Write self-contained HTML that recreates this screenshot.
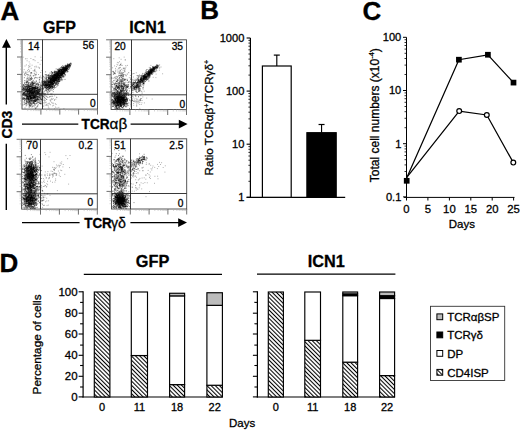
<!DOCTYPE html>
<html><head><meta charset="utf-8"><style>
html,body{margin:0;padding:0;background:#fff;width:520px;height:430px;overflow:hidden}
svg{display:block;font-family:"Liberation Sans",sans-serif}
text{stroke:#000;stroke-width:0.3px;paint-order:stroke}
</style></head><body>
<svg width="520" height="430" viewBox="0 0 520 430">
<rect width="520" height="430" fill="#fff"/>
<text x="0.4" y="19.5" font-size="26" font-weight="bold">A</text>
<text x="200.2" y="18.7" font-size="26" font-weight="bold">B</text>
<text x="362.6" y="19.7" font-size="26" font-weight="bold">C</text>
<text x="-0.6" y="271.8" font-size="26" font-weight="bold">D</text>
<text x="59.5" y="32.7" font-size="16" font-weight="bold" text-anchor="middle">GFP</text>
<text x="147.6" y="32.7" font-size="16" font-weight="bold" text-anchor="middle">ICN1</text>
<path d="M23.2 57.2h0M30.1 79.4h0M29.7 79.6h0M25.3 73.1h0M40.9 57.2h0M39.2 77.5h0M33.9 59.7h0M33.2 70.7h0M35.1 56.8h0M36.0 74.5h0M38.0 62.6h0M25.3 75.7h0M28.7 65.6h0M25.5 58.8h0M39.8 77.0h0M24.8 75.2h0M39.2 67.9h0M36.1 66.2h0M27.7 78.1h0M33.0 59.7h0M42.0 70.6h0M30.9 58.5h0M38.2 67.1h0M35.0 70.6h0M26.4 64.9h0M39.5 68.1h0M27.0 58.7h0M41.3 60.3h0M29.2 61.9h0M27.5 70.4h0M24.2 69.6h0M26.6 79.8h0M35.0 69.2h0M40.7 72.5h0M27.1 60.8h0M32.1 65.2h0M31.2 68.3h0M34.6 66.8h0M25.7 73.2h0M35.1 60.7h0M49.8 88.1h0M52.6 96.3h0M46.3 105.2h0M56.1 104.5h0M55.4 103.7h0M49.2 103.1h0M50.1 96.4h0M47.0 96.8h0M57.0 107.9h0M51.2 99.6h0M52.3 103.3h0M45.4 100.7h0M43.1 106.4h0M55.5 107.1h0M46.4 104.3h0M51.2 94.3h0M45.3 102.7h0M52.3 99.5h0M41.4 101.9h0M44.2 103.9h0M52.1 93.8h0M54.4 100.0h0M47.8 104.8h0M58.8 107.4h0M46.2 99.1h0M54.2 85.4h0M45.9 105.3h0M46.3 102.2h0M48.4 107.0h0M41.0 102.0h0M54.5 100.0h0M50.1 99.9h0M43.9 105.8h0M50.9 96.4h0M53.1 98.5h0M53.6 103.2h0M56.8 97.6h0M39.6 99.0h0M54.6 108.8h0M51.8 102.5h0M48.0 105.6h0M55.8 99.2h0M50.3 100.7h0M53.6 105.3h0M63.9 108.6h0M54.7 95.8h0M56.6 97.2h0M46.5 91.9h0M50.5 104.7h0M49.4 104.0h0M51.4 98.4h0M51.9 96.2h0M48.1 103.5h0M46.5 96.3h0M49.0 108.2h0M50.8 101.2h0M52.6 105.9h0M25.3 90.0h0M39.4 81.6h0M36.3 74.8h0M31.8 73.3h0M35.6 75.1h0M35.0 82.0h0M31.0 79.2h0M26.8 81.9h0M30.3 85.8h0M33.1 75.8h0M35.8 71.7h0M31.7 82.7h0M27.7 78.8h0M40.7 76.0h0M31.4 79.1h0M30.0 66.2h0M29.6 78.7h0M28.3 86.9h0M38.5 74.5h0M29.6 70.7h0M36.2 67.1h0M32.1 82.9h0M27.3 84.1h0M27.8 72.2h0M31.1 73.7h0M35.1 85.6h0M34.3 71.3h0M28.3 74.8h0M27.6 74.4h0M32.4 83.0h0M40.1 64.3h0M29.9 64.0h0M30.4 84.1h0M40.8 77.8h0M39.3 87.0h0M29.6 66.8h0M30.8 73.3h0M30.7 85.6h0M24.4 74.4h0M28.6 67.2h0M29.0 84.5h0M36.7 77.5h0M26.1 84.2h0M35.2 74.2h0M32.9 82.5h0M24.1 86.2h0M28.5 80.8h0M25.0 66.0h0M31.6 78.9h0M36.6 72.9h0M28.1 78.3h0M31.5 77.3h0M27.7 76.8h0M23.7 72.1h0M26.3 73.2h0M24.5 73.8h0" stroke="#000" stroke-opacity="0.3" stroke-width="1" stroke-linecap="square" fill="none"/>
<path d="M34.0 96.5h0M53.6 77.4h0M33.3 91.9h0M34.7 87.6h0M49.3 78.5h0M45.0 86.8h0M48.7 82.6h0M37.1 93.9h0M57.7 73.0h0M40.7 83.1h0M58.6 79.6h0M28.2 87.5h0M48.0 74.9h0M26.9 89.3h0M56.9 72.5h0M55.6 80.0h0M65.5 67.9h0M32.7 87.6h0M32.0 83.7h0M27.9 97.6h0M58.9 73.3h0M29.9 89.1h0M30.7 80.1h0M55.3 78.6h0M42.2 85.9h0M59.5 70.6h0M27.0 95.4h0M54.0 81.7h0M58.3 73.6h0M30.2 91.7h0M63.5 68.2h0M61.5 66.6h0M31.6 95.3h0M24.2 95.7h0M28.5 98.8h0M66.5 69.0h0M53.8 77.4h0M30.6 90.1h0M63.5 73.6h0M32.5 102.8h0M31.2 97.7h0M61.8 70.5h0M50.2 79.5h0M27.6 88.0h0M33.3 80.4h0M31.6 104.0h0M59.5 81.1h0M29.8 90.7h0M44.1 93.4h0M69.7 65.4h0M46.3 90.4h0M40.9 94.1h0M22.8 98.6h0M37.9 102.6h0M30.4 92.9h0M34.1 87.1h0M63.7 70.1h0M37.3 84.3h0M36.5 86.4h0M67.9 65.4h0M39.1 86.0h0M33.3 93.5h0M27.3 91.5h0M49.2 83.3h0M54.1 79.8h0M65.8 70.0h0M27.9 99.0h0M38.5 92.1h0M48.6 78.0h0M32.0 90.3h0M40.4 89.8h0M39.3 77.9h0M31.9 90.6h0M57.6 73.7h0M23.8 88.7h0M57.3 75.8h0M38.6 99.6h0M60.5 77.4h0M58.0 69.1h0M36.7 92.3h0M41.3 99.4h0M31.6 86.2h0M37.5 97.3h0M46.6 85.9h0M64.9 67.5h0M52.0 81.7h0M44.2 85.4h0M42.2 99.9h0M32.9 103.6h0M58.6 72.8h0M51.2 83.5h0M53.3 78.1h0M61.2 74.6h0M57.2 82.8h0M61.8 73.0h0M66.2 69.1h0M38.2 92.1h0M29.3 86.3h0M39.1 93.8h0M53.8 79.7h0M31.4 93.1h0M33.9 88.2h0M35.7 96.3h0M54.9 80.4h0M57.9 74.4h0M54.1 75.6h0M55.5 77.8h0M61.0 74.1h0M33.7 83.7h0M34.7 103.9h0M68.3 69.7h0M36.6 91.0h0M45.7 81.5h0M36.4 103.6h0M40.7 84.8h0M23.3 92.6h0M28.2 94.2h0M45.9 81.7h0M41.2 103.9h0M29.7 104.3h0M34.1 97.1h0M50.9 77.4h0M32.4 85.8h0M65.3 71.5h0M29.9 100.9h0M29.1 95.4h0M56.2 79.2h0M57.7 71.6h0M46.9 87.3h0M50.0 77.9h0M54.7 73.1h0M45.2 83.2h0M38.1 98.3h0M29.1 71.7h0M28.1 98.4h0M51.4 78.7h0M31.7 99.7h0M58.3 80.4h0M44.4 97.2h0M28.1 75.1h0M52.7 80.6h0M24.1 90.7h0M58.0 80.1h0M30.1 89.7h0M65.0 68.5h0M25.2 87.7h0M35.0 100.5h0M28.2 85.1h0M65.0 68.8h0M55.0 75.4h0M49.5 85.3h0M66.4 66.9h0M62.3 72.9h0M55.9 79.4h0M51.1 79.9h0M65.7 65.5h0M46.9 83.8h0M54.6 82.6h0M60.6 75.1h0M26.6 102.2h0M60.0 76.4h0M32.6 81.9h0M49.1 85.3h0M42.1 83.5h0M54.4 79.1h0M60.0 71.4h0M57.9 77.0h0M27.0 87.8h0M48.5 82.0h0M28.3 98.7h0M31.2 98.6h0M57.0 75.3h0M64.1 69.9h0M37.8 92.7h0M41.2 95.1h0M49.9 85.5h0M41.6 96.8h0M35.0 88.0h0M26.8 97.9h0M56.3 73.4h0M32.2 90.5h0M46.1 80.2h0M29.3 91.3h0M38.0 99.6h0M33.9 92.7h0M22.9 88.3h0M54.7 75.4h0M67.5 66.9h0M65.5 71.8h0M49.0 84.3h0M58.4 69.4h0M55.4 80.3h0M61.0 71.4h0M30.5 91.9h0M23.7 93.6h0M53.6 76.7h0M28.3 98.0h0M33.5 98.3h0M32.0 97.0h0M37.2 100.4h0M54.9 74.9h0M29.0 90.5h0M50.0 81.0h0M51.9 84.6h0M33.1 100.4h0M44.1 100.0h0M33.5 93.3h0M25.2 86.1h0M57.6 80.1h0M34.1 100.8h0M23.0 89.5h0M29.3 101.0h0M52.4 75.0h0M48.1 84.6h0M57.4 75.7h0M56.1 80.4h0M32.7 81.2h0M33.9 87.9h0M58.2 74.4h0M30.4 105.2h0M57.2 72.5h0M67.9 64.6h0M49.6 91.6h0M29.4 88.5h0M61.4 73.4h0M52.4 80.8h0M57.5 76.4h0M58.6 79.5h0M53.4 79.9h0M55.5 75.8h0M52.5 77.4h0M40.4 88.5h0M30.6 86.3h0M57.2 76.8h0M51.4 85.8h0M54.3 80.6h0M34.7 89.1h0M28.0 98.5h0M35.6 101.5h0M56.9 71.9h0M28.0 86.3h0M32.9 89.8h0M27.6 96.6h0M43.9 84.1h0M31.0 95.5h0M42.8 85.8h0M33.7 94.2h0M57.6 74.6h0M31.4 85.4h0M28.2 91.4h0M36.8 97.8h0M25.2 98.6h0M23.5 88.8h0M23.0 93.8h0M26.0 88.3h0M48.3 82.5h0M38.0 92.5h0M35.4 100.9h0M34.8 97.1h0M60.6 73.5h0M47.2 85.3h0M47.5 83.8h0M55.5 78.4h0M47.2 76.3h0M52.4 78.9h0M51.5 83.6h0M63.1 69.2h0M55.1 76.4h0M33.1 93.9h0M37.3 98.8h0M30.3 92.9h0M26.2 103.6h0M66.1 71.2h0M35.0 91.5h0M32.5 98.7h0M62.3 71.7h0M30.3 98.6h0M59.2 68.3h0M33.5 89.8h0M48.0 82.2h0M28.2 85.7h0M29.3 105.3h0M35.4 101.5h0M40.1 93.4h0M53.0 74.0h0M33.7 95.1h0M31.0 88.6h0M32.2 89.3h0M63.4 71.5h0M32.9 98.2h0M31.8 98.3h0M52.9 88.1h0M64.2 69.0h0M47.0 83.5h0M46.4 85.4h0M22.8 99.4h0M34.6 97.2h0M58.4 71.5h0M30.5 96.2h0M55.2 75.3h0M53.4 82.0h0M54.9 76.1h0M34.5 95.8h0M60.9 75.9h0M31.4 90.8h0M31.5 93.6h0M59.8 81.3h0M53.1 79.7h0M42.4 92.0h0M36.4 96.4h0M59.1 74.4h0M51.9 75.0h0M24.2 85.9h0M56.6 74.0h0M48.1 82.1h0M57.3 72.0h0M53.4 79.5h0M35.4 94.1h0M55.0 78.7h0M50.3 82.6h0M35.1 99.6h0M38.8 84.4h0M30.1 92.0h0M47.8 81.1h0M34.1 94.7h0M24.9 86.7h0M50.9 77.4h0M22.8 86.9h0M27.2 94.5h0M47.5 83.6h0M50.6 79.1h0M63.4 73.6h0M63.1 72.1h0M51.2 85.2h0M51.4 83.9h0M60.7 72.6h0M35.3 98.2h0M30.6 97.8h0M29.3 90.4h0M45.9 75.9h0M60.4 71.0h0M69.3 67.6h0M68.1 67.6h0M30.4 92.2h0M36.1 88.6h0M26.5 93.2h0M56.9 86.3h0M30.8 86.9h0M45.0 85.0h0M24.3 99.4h0M45.4 98.3h0M49.6 88.8h0M33.3 94.3h0M25.9 72.0h0M55.7 85.3h0M59.4 81.5h0M61.6 72.6h0M33.8 91.5h0M49.1 81.4h0M63.9 69.7h0M44.8 94.7h0M54.4 80.4h0M52.3 73.3h0M26.3 95.5h0M34.8 91.2h0M53.8 81.4h0M62.2 69.3h0M45.4 81.4h0M34.3 73.3h0M53.0 85.1h0M65.5 69.0h0M53.2 76.8h0M37.6 99.0h0M61.2 77.3h0M48.9 87.4h0M54.2 76.8h0M54.4 82.8h0M51.1 83.3h0M28.2 92.8h0M31.6 88.9h0M46.2 84.1h0M25.7 95.6h0M61.6 74.7h0M58.7 77.2h0M55.9 84.0h0M59.3 76.9h0M61.0 74.0h0M32.5 92.2h0M53.3 81.1h0M28.4 89.1h0M60.9 73.2h0M69.4 68.6h0M32.1 85.0h0M31.2 87.6h0M34.5 97.5h0M53.4 89.5h0M55.0 75.1h0M33.9 97.7h0M61.6 74.5h0M59.6 78.2h0M61.5 72.3h0M31.8 94.9h0M48.4 87.1h0M53.7 80.8h0M59.5 73.3h0M24.4 77.7h0M54.1 76.0h0M32.7 93.2h0M25.3 92.1h0M54.8 74.5h0M62.1 71.4h0M56.2 78.0h0M28.5 82.7h0M46.3 78.7h0M50.6 75.5h0M55.5 78.9h0M56.2 75.7h0M59.7 73.7h0M28.5 99.6h0M64.5 71.0h0M49.9 80.6h0M53.0 77.0h0M60.7 68.4h0M62.9 73.2h0M49.6 77.8h0M51.9 86.6h0M27.3 96.9h0M31.4 81.8h0M44.3 97.9h0M59.8 71.5h0M38.6 97.8h0M26.6 98.0h0M50.4 80.6h0M54.1 77.4h0M61.0 75.1h0M61.8 79.1h0M57.0 81.5h0M62.2 67.9h0M35.4 98.0h0M55.6 80.8h0M32.8 99.7h0M59.5 70.2h0M28.9 96.2h0M64.6 69.7h0M56.7 80.7h0M26.4 81.4h0M28.2 97.1h0M61.9 69.8h0M24.5 92.9h0M35.4 96.7h0M64.0 71.3h0M50.7 85.1h0M60.6 70.0h0M29.0 93.1h0M47.2 85.5h0M31.9 95.5h0M40.5 94.1h0M51.3 73.2h0M56.3 76.6h0M49.0 81.3h0M69.4 66.2h0M55.0 79.1h0M39.9 91.3h0M23.9 89.1h0M41.1 85.7h0M50.0 87.2h0M68.8 65.8h0M57.4 77.8h0M43.9 81.8h0M31.7 89.7h0M37.6 99.4h0M61.6 74.5h0M31.0 92.2h0M45.3 74.6h0M61.9 70.9h0M30.2 103.9h0M36.0 93.1h0M59.8 75.7h0M28.8 92.2h0M68.2 66.2h0M59.7 75.2h0M28.3 79.5h0M63.1 69.8h0M51.3 86.8h0M66.5 66.4h0M25.6 99.6h0M39.2 94.0h0M39.6 89.4h0M63.5 68.9h0M30.4 98.6h0M34.8 87.8h0M63.5 72.5h0M54.8 79.3h0M65.9 68.2h0M57.2 78.2h0M31.3 86.1h0M29.7 96.6h0M36.7 96.9h0M31.1 96.7h0M34.3 97.2h0M64.7 68.5h0M50.8 83.0h0M29.9 86.9h0M27.9 91.5h0M28.2 101.2h0M48.7 86.4h0M65.5 69.5h0M61.3 73.7h0M47.5 85.6h0M32.1 98.8h0M48.7 78.9h0M29.0 91.2h0M41.8 97.8h0M63.4 72.8h0M53.7 80.7h0M44.1 77.5h0M33.4 97.7h0M40.4 96.0h0M51.3 75.1h0M30.4 96.2h0M63.1 66.9h0M56.8 77.7h0M27.9 94.0h0M66.5 68.8h0M64.5 73.6h0M49.9 86.0h0M26.1 99.3h0M25.8 89.4h0M32.4 88.8h0M40.6 85.2h0M34.6 100.6h0M36.2 90.4h0M29.6 94.7h0M59.1 75.1h0M65.9 68.7h0M31.5 92.8h0M32.3 89.1h0M62.5 67.5h0M37.2 83.1h0M48.6 84.0h0M34.9 89.2h0M55.2 75.3h0M41.3 94.8h0M45.2 78.7h0M53.2 74.8h0M27.8 96.0h0M62.8 74.2h0M43.3 84.4h0M58.3 77.3h0M56.2 75.8h0M66.0 68.1h0M42.5 89.1h0M59.9 72.2h0M52.6 87.8h0M34.8 103.2h0M69.6 65.7h0M60.0 74.9h0M36.2 96.2h0M55.3 77.8h0M59.6 72.6h0M35.1 90.8h0M28.3 97.6h0M52.6 84.7h0M58.8 71.4h0M29.5 95.4h0M66.2 67.5h0M63.3 72.7h0M54.2 76.6h0M57.3 70.5h0M69.4 64.0h0M27.2 86.7h0M39.7 89.1h0M50.8 81.4h0M31.3 91.4h0M58.0 69.7h0M42.9 81.5h0M37.9 88.2h0M62.3 71.2h0M69.8 66.3h0M39.4 82.5h0M23.6 93.4h0M45.2 86.5h0M57.5 84.8h0M60.9 74.5h0M68.2 66.2h0M59.8 69.7h0M30.4 100.6h0M51.1 82.2h0M54.7 85.2h0M50.5 79.0h0M61.6 73.1h0M44.0 93.7h0M56.3 78.4h0M64.1 68.7h0M32.7 97.6h0M67.3 66.6h0M35.1 93.4h0M38.2 94.0h0M46.7 84.9h0M58.3 71.7h0M31.5 97.3h0M49.4 82.4h0M59.6 71.7h0M47.8 84.8h0M40.6 103.6h0M23.9 93.6h0M56.4 76.1h0M52.3 80.7h0M68.9 69.1h0M33.5 100.9h0M34.2 100.1h0M32.7 97.7h0M30.9 72.5h0M26.3 103.1h0M32.8 85.4h0M51.4 78.8h0M33.5 91.9h0M59.6 73.5h0M66.4 65.8h0M39.3 103.1h0M26.9 95.6h0M32.1 82.3h0M26.3 89.3h0M46.2 74.5h0M48.2 85.2h0M66.1 69.4h0M54.4 82.0h0M64.8 70.3h0M31.9 97.9h0M30.5 98.5h0M61.5 73.6h0M52.4 78.8h0M39.8 103.2h0M45.5 82.6h0M58.2 78.0h0M30.0 86.8h0M24.1 101.9h0M56.8 77.9h0M39.3 95.7h0M57.9 75.2h0M27.0 89.2h0M43.9 82.9h0M52.2 86.7h0M28.5 89.7h0M43.4 89.2h0M38.4 91.7h0M33.3 93.8h0M69.7 67.3h0M32.3 89.6h0M50.1 86.4h0M26.5 85.8h0M31.8 84.4h0M47.6 85.5h0M68.2 66.0h0M44.7 87.2h0M65.5 67.6h0M33.6 87.2h0M56.0 83.3h0M29.0 102.3h0M48.3 88.9h0M28.3 94.3h0M29.4 101.6h0M50.8 84.5h0M46.9 81.4h0M27.4 96.5h0M52.6 72.9h0M28.8 99.0h0M61.6 70.8h0M59.5 79.9h0M60.1 73.0h0M52.0 79.7h0M66.5 67.3h0M26.3 100.8h0M33.0 83.9h0M64.5 73.1h0M53.5 77.1h0M36.1 103.6h0M55.8 82.1h0M28.9 85.5h0M59.8 71.8h0M51.2 82.4h0M61.2 69.0h0M32.4 88.7h0M42.2 86.8h0M62.4 76.5h0M29.6 105.3h0M63.9 69.5h0M46.9 85.1h0M57.5 75.5h0" stroke="#000" stroke-opacity="0.45" stroke-width="1" stroke-linecap="square" fill="none"/>
<path d="M29.4 99.7h0M46.6 83.0h0M54.3 78.4h0M53.6 79.9h0M36.2 92.7h0M66.9 70.1h0M27.2 97.2h0M64.4 73.8h0M30.0 94.0h0M36.7 99.3h0M30.9 92.4h0M68.3 64.7h0M62.3 74.1h0M31.8 101.3h0M30.6 97.1h0M31.6 91.8h0M36.7 94.9h0M46.5 80.8h0M33.4 96.2h0M45.5 84.9h0M44.9 88.1h0M28.3 96.1h0M35.4 91.8h0M29.4 87.8h0M55.1 74.8h0M37.0 94.4h0M52.7 82.7h0M31.4 95.4h0M40.2 97.9h0M35.7 88.4h0M57.3 78.2h0M46.8 84.2h0M26.9 97.8h0M25.1 89.7h0M50.6 82.2h0M33.6 95.8h0M50.8 76.5h0M57.6 73.5h0M25.6 95.8h0M32.8 93.5h0M56.0 84.3h0M30.4 103.2h0M67.7 67.9h0M49.2 88.2h0M43.1 88.2h0M30.3 101.9h0M30.2 95.1h0M52.4 80.5h0M32.8 91.1h0M55.2 74.6h0M31.8 89.4h0M45.6 93.5h0M29.8 80.5h0M63.7 77.3h0M63.4 72.3h0M30.5 89.0h0M35.2 107.8h0M59.0 71.0h0M40.9 90.5h0M31.2 93.5h0M54.2 74.3h0M44.2 82.6h0M65.8 71.0h0M53.1 79.8h0M30.1 99.6h0M50.0 82.3h0M38.3 90.4h0M61.7 75.8h0M57.8 76.7h0M49.9 78.8h0M37.1 83.9h0M60.4 75.7h0M60.3 73.6h0M35.5 86.3h0M46.2 82.6h0M48.4 78.7h0M61.8 70.8h0M51.1 80.1h0M62.5 74.6h0M48.7 88.4h0M47.8 86.3h0M43.2 84.3h0M57.6 78.9h0M56.1 74.1h0M53.0 81.5h0M25.5 90.8h0M51.9 82.6h0M24.4 91.7h0M39.4 95.3h0M50.1 76.9h0M28.3 91.0h0M61.2 75.1h0M59.8 70.2h0M62.9 75.3h0M23.2 94.0h0M47.3 84.0h0M58.0 77.9h0M31.6 100.6h0M27.6 88.7h0M60.9 69.6h0M56.0 77.9h0M52.0 82.8h0M28.6 98.5h0M51.0 81.2h0M34.8 91.7h0M31.1 90.4h0M42.9 81.5h0M38.6 94.4h0M37.5 91.0h0M58.1 73.3h0M35.1 93.7h0M67.8 68.6h0M53.6 80.6h0M54.4 76.9h0M57.1 76.9h0M48.7 84.5h0M26.3 101.1h0M31.1 98.2h0M46.8 84.9h0M68.2 65.9h0M46.3 88.6h0M48.4 90.8h0M32.0 82.4h0M49.9 84.8h0M26.9 90.3h0M40.3 87.0h0M64.9 71.2h0M32.8 100.2h0M35.3 97.9h0M59.1 75.5h0M46.8 85.3h0M39.5 94.4h0M50.7 79.8h0M55.5 77.3h0M29.8 88.6h0M64.0 72.9h0M24.7 98.8h0M39.2 87.2h0M53.9 81.3h0M46.6 84.2h0M60.9 69.6h0M40.7 89.6h0M48.6 82.3h0M51.4 77.3h0M53.4 78.4h0M33.8 90.4h0M51.2 83.4h0M31.1 92.0h0M26.7 99.9h0M32.4 88.4h0M31.0 97.1h0M45.9 84.2h0M31.9 91.8h0M70.8 65.0h0M30.3 83.6h0M53.7 75.2h0M63.5 73.6h0M26.3 87.8h0M56.9 82.4h0M28.0 86.0h0M56.3 73.5h0M56.4 84.2h0M60.9 76.7h0M26.7 90.2h0M29.4 93.9h0M63.7 67.8h0M33.2 93.9h0M69.7 64.1h0M32.1 104.1h0M66.3 68.4h0M52.7 81.8h0M57.6 84.9h0M50.7 84.9h0M31.9 97.4h0M39.5 91.5h0M51.3 81.9h0M53.0 80.2h0M34.1 90.7h0M38.6 90.8h0M66.2 67.1h0M63.5 72.4h0M38.5 89.5h0M29.4 93.8h0M25.2 87.0h0M40.3 98.1h0M54.1 80.4h0M47.6 87.4h0M54.3 73.2h0M61.4 73.5h0M47.7 93.1h0M49.6 86.1h0M52.0 77.9h0M24.2 104.3h0M32.3 89.3h0M63.9 71.9h0M25.4 84.5h0M54.4 79.9h0M24.9 94.8h0M61.9 73.8h0M66.3 70.1h0M51.6 86.7h0M56.6 78.5h0M49.3 86.6h0M55.2 75.9h0M35.3 91.3h0M25.8 86.7h0M63.3 72.7h0M31.6 101.1h0M28.0 95.9h0M34.6 98.2h0M29.7 93.2h0M56.1 77.0h0M58.8 77.3h0M49.4 81.7h0M24.5 92.5h0M33.7 87.5h0M67.1 68.9h0M35.5 88.1h0M40.8 91.6h0M33.7 102.4h0M28.1 103.9h0M28.1 97.4h0M32.2 94.5h0M27.7 102.0h0M63.7 71.8h0M36.5 102.0h0M67.4 67.8h0M36.8 84.0h0M33.6 100.7h0M33.9 92.6h0M37.9 94.3h0M67.1 66.5h0M60.7 67.5h0M50.9 78.9h0M51.6 80.2h0M53.7 87.3h0M64.0 70.6h0M58.8 70.1h0M52.3 82.3h0M55.2 78.1h0M50.7 84.7h0M63.1 71.8h0M23.4 98.1h0M47.9 84.3h0M27.3 87.7h0M56.9 77.9h0M64.6 67.3h0M32.6 89.3h0M60.2 71.4h0M54.6 75.0h0M70.5 65.9h0M35.5 87.3h0M29.2 106.2h0M23.7 88.3h0M60.7 73.8h0M29.4 96.4h0M27.9 102.5h0M30.0 91.0h0M34.0 103.1h0M55.1 75.6h0M61.2 70.7h0M52.1 90.2h0M50.2 81.1h0M52.3 80.6h0M55.1 78.2h0M29.7 92.4h0M54.4 80.1h0M36.9 85.0h0M38.9 93.8h0M44.4 82.5h0M28.0 91.8h0M69.7 64.6h0M36.0 94.9h0M35.2 88.3h0M59.2 78.9h0M56.2 80.6h0M56.8 72.7h0M38.2 85.7h0M31.1 98.6h0M65.5 69.0h0M36.0 100.5h0M34.1 99.0h0M56.4 82.9h0M47.9 97.4h0M32.1 88.0h0M49.4 76.2h0M47.6 85.2h0M23.1 98.8h0M23.3 85.1h0M33.3 83.6h0M28.6 96.4h0M28.4 89.8h0M46.8 81.9h0M59.1 79.4h0M49.1 75.1h0M67.2 68.8h0M38.7 84.5h0M43.2 88.9h0M62.8 68.5h0M24.6 82.6h0M66.3 68.4h0M61.1 70.3h0M63.5 68.0h0M56.0 73.6h0M54.7 81.8h0M28.7 87.3h0M59.1 76.0h0M56.4 74.7h0M45.0 90.8h0M52.1 77.6h0M59.2 76.0h0M49.8 81.8h0M58.4 79.8h0M24.3 92.6h0M25.3 91.5h0M27.8 92.0h0M53.3 91.7h0M66.5 68.8h0M55.0 80.9h0M59.3 73.4h0M51.8 85.7h0M55.5 75.6h0M37.8 94.6h0M56.9 80.0h0M39.6 91.5h0M68.8 64.4h0M53.8 78.6h0M66.7 69.1h0M29.6 97.0h0M62.7 71.5h0M53.9 86.4h0M29.5 93.8h0M54.6 80.3h0M33.3 93.5h0M32.8 96.0h0M56.6 71.5h0M67.2 67.2h0M29.2 90.6h0M61.4 74.2h0M35.9 95.0h0M51.5 80.5h0M53.0 83.5h0M56.0 80.8h0M56.6 72.1h0M34.4 96.4h0M23.4 89.6h0M57.4 74.2h0M29.7 88.7h0M52.8 75.8h0M34.6 78.7h0M52.0 79.8h0M49.8 85.9h0M26.5 95.4h0M26.8 74.6h0M62.0 71.2h0M22.8 105.0h0M51.1 89.9h0M59.4 77.4h0M25.8 95.0h0M59.0 75.0h0M54.8 79.7h0M55.6 77.9h0M59.4 76.2h0M29.2 90.9h0M59.5 71.3h0M51.4 72.2h0M67.8 65.1h0M55.9 73.0h0M32.5 106.2h0M45.2 85.5h0M64.9 72.1h0M26.5 82.6h0M48.6 83.6h0M45.8 81.2h0M32.4 100.7h0M53.9 79.5h0M37.5 91.5h0M27.2 82.6h0M38.2 83.2h0M57.8 72.3h0M59.8 71.7h0M63.3 67.0h0M53.1 79.7h0M58.0 83.7h0M48.7 86.7h0M55.2 76.6h0M25.1 86.9h0M53.4 81.4h0M55.7 78.0h0M23.7 90.5h0M33.1 88.7h0M60.2 71.8h0M62.3 72.4h0M64.1 71.2h0M68.0 65.1h0M58.3 74.3h0M63.4 71.4h0M58.5 78.3h0M24.6 100.8h0M59.7 75.9h0M57.8 76.0h0M27.5 81.3h0M56.7 76.1h0M30.0 86.8h0M33.0 92.6h0M39.1 100.0h0M51.7 86.1h0M28.0 98.8h0M29.8 89.3h0M54.8 72.4h0M24.0 87.9h0M37.1 88.7h0M64.9 75.1h0M47.8 80.2h0M32.7 97.0h0M52.6 80.3h0M26.0 88.8h0M54.3 77.5h0M30.8 96.6h0M34.5 97.4h0M33.3 88.6h0M58.1 80.0h0M52.0 82.7h0M68.9 65.5h0M32.5 92.5h0M40.6 87.4h0M54.3 80.7h0M33.4 102.6h0M57.6 74.8h0M50.4 80.4h0M37.4 88.3h0M52.7 73.0h0M52.5 84.5h0M45.0 87.4h0M48.6 75.5h0M56.2 79.2h0M38.2 104.8h0M56.3 77.5h0M67.4 68.7h0M48.5 84.9h0M46.4 75.2h0M63.9 76.3h0M67.2 68.0h0M32.0 87.6h0M38.2 93.0h0M38.5 93.0h0M51.3 87.1h0M26.9 91.5h0M35.0 87.0h0M22.6 91.0h0M51.3 76.1h0M60.1 80.1h0M69.4 64.3h0M60.9 79.0h0M42.5 93.1h0M59.2 74.3h0M29.1 77.8h0M37.4 94.7h0M48.4 85.2h0M30.4 98.3h0M25.7 90.6h0M46.1 85.7h0M34.2 97.3h0M50.9 76.2h0M25.8 93.3h0M27.0 98.7h0M44.2 100.2h0M54.2 83.3h0M46.6 85.5h0M36.0 94.2h0M27.3 92.3h0M52.7 72.7h0M38.7 92.0h0M54.2 76.5h0M26.5 84.8h0M65.9 66.6h0M31.8 93.9h0M23.4 91.0h0M41.1 93.1h0M30.0 75.3h0M57.1 72.8h0M30.2 95.2h0M54.5 76.2h0M52.0 76.5h0M50.1 87.5h0M31.2 93.7h0M48.2 80.5h0M50.8 83.7h0M31.9 89.4h0M62.5 73.1h0M29.5 101.1h0M51.6 84.5h0M56.2 84.3h0M59.2 72.5h0M34.1 106.1h0M40.2 96.8h0M23.2 99.4h0M26.5 101.5h0M30.1 84.7h0M48.9 78.7h0M31.0 96.3h0M31.4 103.3h0M63.0 71.6h0M43.6 83.5h0M30.0 90.2h0M37.9 100.9h0M59.0 71.4h0M29.2 98.3h0M36.5 88.2h0M31.7 90.1h0M41.0 103.3h0M66.6 69.4h0M53.6 80.7h0M35.1 82.9h0M52.5 86.5h0M24.5 89.4h0M47.0 84.6h0M37.6 99.6h0M37.3 89.3h0M56.2 79.7h0M24.6 94.4h0M53.6 83.7h0M58.9 82.8h0M37.5 94.0h0M64.6 70.3h0M65.2 67.8h0M58.0 74.8h0M51.7 81.0h0M61.7 71.0h0M48.5 87.0h0M69.0 65.2h0M41.9 84.5h0M33.4 90.9h0M27.9 89.6h0M65.7 68.6h0M52.5 82.5h0M57.1 75.9h0M32.2 95.5h0M61.5 72.1h0M37.2 96.4h0M57.4 79.2h0M30.7 75.3h0M50.9 81.9h0M66.9 65.8h0M46.2 86.7h0M62.0 69.3h0M29.9 91.8h0M49.5 82.3h0M30.8 92.3h0M65.3 74.5h0M62.0 72.6h0M43.0 85.4h0M59.7 68.7h0M45.7 77.9h0M52.6 80.1h0M61.4 77.9h0M46.8 83.8h0M52.2 84.6h0M65.3 68.0h0M52.3 72.3h0M37.7 87.3h0M50.9 79.0h0M49.5 86.2h0M47.0 85.6h0M29.4 94.7h0M61.8 69.0h0M28.4 94.9h0M37.6 90.6h0M35.0 101.6h0M46.9 85.8h0M35.5 99.4h0M39.7 96.2h0M26.2 86.5h0M33.8 81.9h0M49.2 85.6h0M63.0 70.6h0M45.8 90.3h0M50.5 87.5h0M35.6 85.0h0M31.5 98.7h0M53.2 76.4h0M28.4 84.1h0M31.1 95.6h0M29.5 89.4h0M24.6 94.2h0M30.1 94.6h0M46.6 85.1h0M32.2 92.2h0M32.4 95.1h0M55.0 82.7h0M30.3 98.9h0M53.3 83.0h0M65.7 65.8h0M54.3 81.0h0M37.5 90.0h0M22.5 98.0h0M35.0 92.3h0M55.2 78.7h0M31.2 98.2h0M52.9 79.3h0M66.9 68.9h0M57.0 83.5h0M37.5 87.5h0M29.4 92.3h0M27.6 99.4h0M53.3 78.3h0M24.4 98.6h0M29.4 87.0h0M57.1 80.7h0M57.9 73.7h0M35.3 97.6h0M55.2 71.8h0M36.3 80.8h0M27.8 87.1h0M66.4 66.9h0M28.8 99.3h0M31.5 88.2h0M30.1 82.6h0M32.2 93.2h0M32.5 82.7h0M57.8 76.5h0M45.6 85.4h0M30.4 98.0h0M31.5 88.2h0M59.4 76.0h0M57.7 72.1h0M34.1 102.2h0M34.3 100.4h0M62.8 71.2h0M34.3 89.1h0M54.4 72.9h0M49.3 82.0h0M34.6 104.9h0M32.8 88.4h0M36.8 90.1h0M50.0 85.7h0M64.8 65.8h0M50.4 82.2h0M53.0 81.3h0M53.8 75.0h0M66.5 68.7h0M33.3 98.2h0M64.5 69.6h0M34.7 93.0h0M26.9 78.3h0M43.0 102.8h0M51.4 79.1h0M67.5 68.5h0M68.3 67.8h0M67.5 65.3h0M63.9 70.7h0M44.8 82.5h0M39.8 103.2h0M65.0 79.4h0M51.8 82.1h0M30.5 89.9h0M66.9 70.1h0M39.6 79.6h0M40.1 86.9h0M67.6 65.3h0M27.8 82.0h0M37.0 92.7h0M33.8 92.0h0M31.3 94.4h0M58.5 72.7h0M50.2 87.6h0M58.9 79.8h0M31.4 79.2h0M63.1 72.9h0M60.6 76.9h0M61.4 79.8h0M32.0 107.0h0M34.7 97.7h0M37.2 96.5h0M26.3 97.0h0M35.1 92.4h0M25.8 85.0h0M61.4 75.1h0M47.9 81.3h0M58.1 83.7h0M65.4 70.5h0M27.1 87.0h0M62.7 76.8h0M37.3 86.6h0M36.4 81.7h0M47.3 87.1h0M29.5 93.0h0M66.4 68.6h0M27.4 93.5h0M62.7 71.6h0" stroke="#000" stroke-opacity="0.45" stroke-width="1" stroke-linecap="square" fill="none"/>
<path d="M59.2 70.3h0M35.0 77.7h0M38.0 93.6h0M33.7 93.6h0M29.1 94.6h0M42.3 88.4h0M32.8 92.2h0M33.6 98.0h0M55.9 78.7h0M32.1 90.8h0M30.8 78.7h0M35.6 93.0h0M58.1 75.1h0M54.6 88.1h0M61.0 71.3h0M48.5 84.3h0M33.7 91.8h0M41.5 89.3h0M37.8 101.5h0M46.5 77.4h0M46.2 82.1h0M24.0 88.6h0M54.6 80.2h0M34.0 101.4h0M35.6 87.9h0M63.7 69.3h0M28.3 89.1h0M26.7 91.0h0M48.6 77.6h0M52.5 80.1h0M62.7 73.3h0M26.9 98.3h0M26.9 89.1h0M66.5 70.5h0M62.4 68.1h0M46.1 79.7h0M27.6 96.2h0M44.3 81.6h0M40.5 99.7h0M60.1 77.5h0M57.8 82.6h0M45.3 94.9h0M24.7 96.0h0M26.9 90.3h0M50.6 81.9h0M57.0 75.2h0M37.3 90.4h0M51.8 85.3h0M28.4 89.2h0M26.2 99.5h0M63.2 72.4h0M34.9 87.5h0M50.2 80.3h0M37.9 98.0h0M56.4 78.6h0M49.3 77.9h0M60.8 69.4h0M45.0 85.3h0M34.0 89.2h0M45.3 84.8h0M54.9 81.5h0M54.5 77.2h0M24.7 92.9h0M65.5 68.6h0M58.5 77.3h0M34.7 101.1h0M41.4 85.9h0M66.7 66.5h0M53.8 79.7h0M59.4 71.0h0M60.7 72.4h0M60.5 70.2h0M55.5 74.6h0M28.1 90.4h0M65.2 75.7h0M45.0 86.0h0M27.7 92.2h0M36.8 90.8h0M34.4 87.8h0M22.2 89.6h0M57.6 75.2h0M52.8 82.8h0M65.7 70.2h0M53.0 82.9h0M57.4 69.6h0M47.7 79.8h0M51.0 79.8h0M65.0 69.4h0M56.7 77.3h0M59.6 78.6h0M54.3 75.1h0M25.4 92.0h0M53.5 79.1h0M32.3 91.4h0M63.1 70.9h0M58.1 73.7h0M50.0 85.2h0M42.0 78.0h0M34.8 90.0h0M53.6 83.9h0M54.5 87.0h0M48.6 84.0h0M32.7 87.4h0M33.2 84.3h0M32.8 94.6h0M37.3 93.6h0M58.3 74.7h0M33.8 88.3h0M54.7 71.9h0M28.3 99.4h0M23.4 94.3h0M35.1 95.9h0M57.2 77.7h0M53.0 79.7h0M23.2 85.4h0M50.4 86.7h0M53.6 80.9h0M29.2 98.1h0M66.1 70.5h0M55.1 74.5h0M22.7 89.1h0M45.7 84.7h0M57.0 75.6h0M48.0 92.8h0M52.3 83.4h0M67.1 67.6h0M54.2 80.8h0M29.6 88.7h0M36.6 88.0h0M36.0 101.0h0M35.1 89.9h0M53.2 77.8h0M48.8 74.8h0M38.9 88.8h0M67.1 68.0h0M28.0 93.8h0M62.1 74.5h0M62.2 74.7h0M60.5 73.6h0M60.7 75.6h0M47.8 82.0h0M38.5 96.2h0M48.2 81.8h0M49.9 84.0h0M55.8 79.0h0M30.9 84.2h0M33.5 97.6h0M53.3 84.5h0M49.3 86.8h0M43.1 96.9h0M27.9 98.1h0M55.2 75.1h0M63.4 76.4h0M24.0 97.6h0M40.0 92.8h0M23.4 87.3h0M34.3 101.9h0M56.9 77.3h0M42.8 91.0h0M64.5 72.3h0M58.7 77.2h0M47.0 87.3h0M65.7 66.8h0M34.9 89.4h0M24.6 93.4h0M34.3 94.7h0M67.7 63.7h0M30.3 86.8h0M59.6 71.2h0M51.8 79.7h0M35.5 99.9h0M34.1 85.7h0M66.0 65.0h0M51.8 75.5h0M37.8 88.5h0M47.1 79.7h0M61.6 71.9h0M27.8 90.4h0M50.5 83.0h0M49.9 73.1h0M36.5 107.1h0M60.0 80.8h0M66.6 68.9h0M28.2 104.0h0M59.8 76.6h0M59.9 75.8h0M49.9 90.9h0M43.7 81.6h0M34.6 90.5h0M71.2 64.2h0M52.3 77.2h0M36.6 93.8h0M60.8 69.5h0M66.1 68.9h0M29.4 104.9h0M62.9 69.0h0M24.3 90.3h0M30.2 90.9h0M39.0 96.8h0M28.2 89.0h0M63.5 67.5h0M51.1 79.4h0M54.0 79.6h0M64.7 70.0h0M65.6 70.5h0M50.1 82.0h0M56.7 75.7h0M41.3 99.3h0M30.8 91.4h0M38.9 95.7h0M63.5 69.2h0M46.1 82.6h0M26.9 98.9h0M52.5 86.7h0M62.4 69.0h0M35.8 94.3h0M63.4 71.2h0M44.7 102.0h0M32.2 100.1h0M60.6 77.5h0M49.6 84.9h0M53.4 78.6h0M52.4 83.9h0M42.9 84.3h0M45.7 87.4h0M62.4 73.3h0M33.8 89.0h0M31.6 72.5h0M62.4 69.0h0M38.2 96.9h0M30.3 97.1h0M62.4 73.3h0M39.6 97.4h0M58.3 82.1h0M36.5 90.6h0M41.6 99.1h0M34.1 96.1h0M48.5 86.2h0M53.3 79.7h0M49.7 81.6h0M50.5 87.2h0M35.9 96.0h0M32.8 87.6h0M64.9 67.7h0M52.6 84.7h0M28.2 86.4h0M56.8 78.1h0M45.9 82.7h0M32.1 93.8h0M31.6 93.3h0M58.9 73.2h0M48.7 82.2h0M25.4 89.5h0M29.3 93.3h0M34.5 92.7h0M30.6 88.4h0M38.8 94.0h0M57.8 73.8h0M23.6 94.1h0M56.4 78.4h0M26.3 96.2h0M57.5 76.1h0M46.8 89.4h0M63.3 71.2h0M55.9 80.3h0M29.2 107.3h0M61.0 69.6h0M68.0 69.5h0M30.2 96.4h0M67.1 66.0h0M26.6 93.3h0M30.4 91.7h0M51.3 82.5h0M29.0 96.7h0M36.8 93.8h0M65.1 71.0h0M51.3 80.6h0M64.5 68.9h0M32.8 90.0h0M32.4 87.7h0M52.8 87.8h0M57.3 74.8h0M31.3 97.4h0M45.9 96.0h0M62.4 70.1h0M23.3 84.8h0M26.7 90.2h0M26.1 104.2h0M61.7 70.9h0M59.8 73.6h0M32.4 92.4h0M35.9 90.7h0M38.1 89.7h0M28.9 89.6h0M35.2 94.1h0M37.5 91.7h0M61.7 74.5h0M31.1 100.1h0M63.1 75.0h0M31.0 99.8h0M34.8 101.1h0M61.8 70.3h0M24.6 89.7h0M30.7 106.0h0M54.4 83.2h0M36.2 84.5h0M29.2 95.0h0M57.4 81.8h0M33.5 93.9h0M39.1 100.7h0M51.4 81.3h0M37.1 89.9h0M57.8 80.0h0M58.9 71.4h0M51.6 80.0h0M38.7 92.0h0M55.5 80.3h0M49.1 84.9h0M37.2 92.4h0M34.8 99.6h0M58.8 71.0h0M35.9 100.4h0M43.0 85.9h0M37.7 96.6h0M26.3 96.0h0M30.8 99.2h0M56.7 78.8h0M64.1 72.2h0M36.4 97.8h0M28.7 89.4h0M50.2 83.7h0M63.9 69.0h0M31.8 90.4h0M46.9 84.9h0M53.5 77.0h0M33.6 102.2h0M46.9 90.7h0M62.0 76.6h0M30.9 103.0h0M49.1 76.7h0M43.7 96.4h0M38.1 92.4h0M32.6 78.7h0M70.6 64.0h0M30.7 92.5h0M54.4 74.4h0M56.6 78.6h0M58.4 71.0h0M45.0 84.0h0M69.9 65.4h0M39.9 98.1h0M29.8 95.4h0M62.5 69.6h0M66.9 71.0h0M47.7 75.5h0M29.4 102.9h0M34.9 96.2h0M46.8 79.3h0M59.9 78.1h0M55.0 78.7h0M52.0 87.0h0M60.5 75.5h0M29.8 93.0h0M39.6 90.3h0M28.3 91.4h0M36.8 94.4h0M50.7 80.2h0M66.5 69.1h0M34.2 96.9h0M56.0 79.1h0M24.5 83.7h0M45.3 84.2h0M57.5 74.7h0M27.6 91.5h0M58.3 79.6h0M41.3 85.8h0M55.5 78.4h0M43.9 85.7h0M53.0 79.5h0M44.9 82.7h0M62.0 73.8h0M46.9 87.0h0M36.1 90.0h0M50.4 77.5h0M45.7 87.0h0M27.9 80.7h0M69.6 64.9h0M64.6 70.2h0M60.2 77.7h0M63.2 66.5h0M52.5 83.5h0M46.6 88.6h0M46.9 82.1h0M49.2 88.5h0M27.4 88.0h0M63.6 72.9h0M64.1 71.0h0M38.6 93.5h0M22.6 89.7h0M66.0 70.2h0M37.5 92.9h0M35.6 97.6h0M33.8 96.5h0M45.0 84.3h0M60.6 77.3h0M34.2 87.5h0M55.0 77.3h0M30.5 90.7h0M33.2 105.9h0M52.0 75.7h0M50.5 86.7h0M29.2 99.6h0M54.1 78.9h0M64.2 70.1h0M62.4 69.4h0M58.9 70.5h0M29.5 89.5h0M58.6 72.3h0M58.1 81.5h0M60.1 73.4h0M61.9 73.6h0M33.9 89.9h0M36.2 91.6h0M46.5 86.1h0M59.4 70.2h0M54.0 79.8h0M57.1 77.7h0M24.6 80.7h0M52.1 76.8h0M47.9 87.6h0M36.9 93.6h0M51.1 82.8h0M56.8 79.5h0M52.8 83.2h0M56.0 77.0h0M51.0 76.8h0M36.1 88.9h0M63.9 69.5h0M43.7 84.5h0M30.0 96.1h0M53.5 83.5h0M60.5 77.0h0M46.7 99.5h0M26.6 98.5h0M35.0 95.4h0M29.8 100.9h0M60.9 74.5h0M45.5 89.0h0M29.2 93.6h0M66.5 68.9h0M55.3 82.6h0M42.6 82.6h0M39.3 80.0h0M56.5 78.0h0M58.5 72.1h0M61.2 77.9h0M55.3 77.9h0M61.5 75.4h0M51.3 88.7h0M28.9 96.0h0M63.9 67.4h0M33.6 87.3h0M51.4 71.5h0M58.2 75.1h0M58.1 73.1h0M32.1 93.4h0M40.0 102.1h0M54.1 80.7h0M37.1 78.0h0M53.3 83.9h0M28.5 87.2h0M58.9 78.7h0M25.3 95.1h0M33.8 87.7h0M26.4 86.6h0M50.5 82.2h0M31.7 78.0h0M67.2 65.9h0M54.4 81.2h0M30.1 99.8h0M45.6 71.9h0M26.5 90.0h0M32.3 86.7h0M47.4 80.9h0M61.5 74.0h0M38.6 92.2h0M24.8 104.1h0M30.0 102.2h0M55.5 75.3h0M58.4 73.2h0M57.6 75.5h0M30.2 96.4h0M51.6 83.0h0M44.5 83.0h0M55.2 77.6h0M57.7 78.6h0M44.6 85.3h0M57.9 81.2h0M36.3 94.9h0M48.9 85.6h0M30.5 96.5h0M47.3 77.5h0M27.1 98.0h0M42.4 93.7h0M39.8 88.5h0M64.2 72.1h0M28.0 84.7h0M47.1 87.9h0M41.2 88.4h0M51.0 82.6h0M23.9 98.8h0M25.2 94.5h0M34.4 98.5h0M49.6 80.8h0M56.9 74.4h0M52.2 82.1h0M37.0 91.9h0M55.6 83.5h0M35.5 95.3h0M55.2 72.3h0M31.2 77.2h0M28.1 90.8h0M63.0 71.4h0M57.3 75.2h0M37.5 102.9h0M53.0 78.0h0M51.4 74.3h0M34.1 99.1h0M36.0 95.4h0M58.4 74.6h0M57.2 77.1h0M63.6 72.8h0M32.8 91.5h0M29.5 90.1h0M24.0 88.3h0M27.2 84.3h0M31.9 90.7h0M32.7 96.8h0M30.6 102.0h0M51.7 82.9h0M22.4 86.8h0M31.9 85.0h0M50.1 87.3h0M33.9 96.3h0M28.6 83.5h0M54.3 77.2h0M58.4 83.2h0M26.7 89.9h0M51.3 86.9h0M25.4 93.8h0M58.6 70.4h0M48.7 79.8h0M53.0 80.9h0M63.2 72.6h0M50.3 84.6h0M54.8 77.8h0M56.6 75.8h0M58.2 77.6h0M50.9 93.9h0M58.2 85.1h0M40.3 90.1h0M30.2 97.0h0M67.9 64.7h0M61.8 73.9h0M29.5 91.2h0M33.7 92.6h0M30.4 97.7h0M48.6 78.3h0M44.1 95.0h0M53.4 75.5h0M32.9 83.9h0M35.2 90.0h0M53.5 75.9h0M43.9 95.4h0M54.5 74.8h0M28.2 87.7h0M58.1 75.5h0M55.8 87.5h0M34.8 88.9h0M26.1 94.6h0M67.4 70.9h0M54.0 81.1h0M32.9 92.1h0M32.0 94.5h0M44.7 83.9h0M31.9 102.1h0M55.7 78.1h0M59.1 80.6h0M54.8 77.6h0M58.6 71.6h0M31.4 100.5h0M56.2 68.9h0M27.5 91.2h0M63.3 68.8h0M26.3 94.7h0M49.9 85.8h0M58.1 79.2h0M58.7 77.5h0M64.9 68.8h0M52.8 76.6h0M56.3 76.3h0M70.7 63.0h0M29.0 90.6h0M34.1 83.5h0M41.1 99.3h0M29.1 101.9h0M53.9 81.1h0M62.8 69.5h0M32.6 84.9h0M35.5 105.0h0M58.2 75.7h0M45.3 85.7h0M52.4 78.4h0M64.1 72.4h0M61.8 70.9h0M52.5 86.1h0M58.2 74.1h0M67.7 71.6h0M30.2 96.5h0M28.9 94.8h0M63.4 73.2h0M68.0 71.6h0M54.3 77.8h0M40.7 89.2h0M41.0 94.9h0M33.5 75.8h0M63.9 70.5h0M38.4 87.4h0M28.7 69.3h0M30.8 91.9h0M50.7 82.3h0M49.5 84.0h0M54.1 75.0h0M38.0 93.2h0M37.9 89.4h0M35.8 92.2h0M32.2 86.7h0M52.4 78.2h0M43.8 84.1h0M54.9 76.8h0M56.3 77.8h0M33.0 95.1h0M59.0 72.1h0M54.4 86.0h0M55.2 78.7h0M34.4 101.0h0M39.8 93.8h0M24.5 98.2h0M28.7 94.8h0M56.2 79.2h0M36.9 94.2h0M64.5 70.9h0M54.0 74.6h0M35.5 101.1h0M27.4 93.8h0M59.9 75.2h0M24.7 100.6h0M27.4 85.2h0M25.6 91.4h0M27.9 85.8h0M26.1 105.9h0M38.0 88.1h0M61.7 73.3h0M27.3 91.9h0M30.7 93.7h0M56.2 77.2h0M59.1 76.2h0M68.5 66.5h0M30.6 98.3h0M64.2 68.8h0M70.2 66.8h0M42.7 98.6h0M39.1 90.4h0M29.8 93.2h0M60.9 74.3h0M56.2 83.4h0M44.2 91.7h0M28.2 100.4h0M28.3 102.4h0M63.2 71.7h0M23.6 97.9h0M34.6 91.6h0M35.6 90.8h0M62.8 74.1h0M56.3 75.2h0M32.5 95.4h0M23.4 95.4h0" stroke="#000" stroke-opacity="0.45" stroke-width="1" stroke-linecap="square" fill="none"/>
<path d="M50.8 84.8h0M37.1 97.4h0M40.0 101.3h0M60.1 71.6h0M63.0 71.6h0M33.7 103.3h0M29.0 92.2h0M31.5 92.5h0M28.1 93.4h0M34.3 94.2h0M46.8 87.2h0M53.6 80.5h0M25.2 98.4h0M25.9 93.4h0M55.4 78.2h0M41.7 93.3h0M34.2 91.4h0M53.1 80.5h0M55.8 73.5h0M56.1 74.7h0M47.3 85.8h0M50.6 82.3h0M56.5 78.7h0M41.4 95.9h0M52.9 82.0h0M38.5 90.9h0M34.6 95.2h0M42.1 88.4h0M62.9 72.9h0M25.4 88.4h0M55.6 73.8h0M55.2 79.3h0M43.9 93.8h0M34.9 82.2h0M29.6 94.9h0M45.2 85.1h0M51.8 76.6h0M58.2 81.3h0M69.8 65.0h0M71.1 63.4h0M44.9 85.3h0M44.7 82.1h0M29.4 86.7h0M57.4 75.5h0M42.9 96.4h0M37.7 94.2h0M68.9 66.9h0M62.3 73.6h0M55.1 78.4h0M46.9 88.9h0M35.1 88.3h0M33.9 90.5h0M62.9 67.4h0M59.1 77.0h0M59.9 77.2h0M38.5 99.3h0M32.6 87.5h0M28.8 101.0h0M64.9 68.0h0M53.5 76.2h0M61.6 71.1h0M34.8 92.6h0M53.4 77.8h0M35.7 88.3h0M56.2 77.8h0M58.7 75.7h0M31.5 97.8h0M42.8 75.8h0M42.3 91.7h0M29.7 89.7h0M30.6 95.5h0M56.2 76.4h0M30.6 98.5h0M26.9 89.8h0M64.6 69.9h0M50.6 83.3h0M30.4 96.9h0M30.7 94.0h0M48.5 81.1h0M49.8 87.7h0M56.0 80.7h0M30.6 100.2h0M50.2 88.4h0M57.9 72.9h0M30.3 91.3h0M28.7 93.8h0M53.7 72.2h0M56.3 76.3h0M58.1 71.9h0M49.8 77.4h0M31.6 86.6h0M39.6 89.4h0M43.8 79.1h0M36.0 92.0h0M39.6 92.5h0M44.4 81.7h0M62.9 73.1h0M55.2 80.2h0M36.1 94.6h0M64.6 69.5h0M47.9 89.3h0M69.8 65.9h0M64.1 68.6h0M37.8 91.9h0M50.6 79.7h0M22.8 95.6h0M28.2 94.2h0M32.0 93.2h0M25.2 87.4h0M40.7 103.8h0M54.8 72.8h0M63.0 69.0h0M41.6 91.9h0M59.9 70.6h0M26.2 83.0h0M59.1 75.6h0M27.7 92.2h0M63.3 70.8h0M28.4 85.2h0M51.2 88.3h0M36.1 99.8h0M57.3 80.1h0M59.1 81.4h0M60.3 74.4h0M67.1 70.8h0M53.1 83.8h0M29.2 102.8h0M29.5 87.9h0M29.0 85.9h0M29.2 93.3h0M52.2 87.5h0M61.3 79.0h0M53.1 84.9h0M53.2 79.2h0M64.9 66.6h0M31.6 104.3h0M31.9 86.8h0M56.0 77.6h0M55.1 73.0h0M31.4 88.6h0M54.8 78.3h0M61.0 72.2h0M25.0 108.0h0M26.2 103.0h0M52.4 84.7h0M63.8 76.6h0M43.5 88.1h0M29.1 101.2h0M36.1 96.8h0M48.9 75.3h0M36.4 93.1h0M65.5 66.3h0M27.4 96.8h0M25.2 89.9h0M52.8 84.5h0M59.1 74.1h0M30.1 97.7h0M30.1 106.3h0M62.8 75.8h0M54.6 80.8h0M66.9 69.7h0M63.8 70.8h0M53.6 80.0h0M50.3 75.9h0M27.0 96.5h0M52.6 76.8h0M46.5 86.1h0M35.1 93.9h0M51.6 79.0h0M38.5 102.4h0M39.6 93.5h0M50.8 78.9h0M61.6 73.4h0M40.1 94.6h0M29.6 88.2h0M48.9 85.9h0M52.1 87.2h0M33.5 98.6h0M44.9 81.3h0M40.4 95.8h0M40.0 93.6h0M62.6 71.9h0M69.3 66.3h0M57.5 75.3h0M33.0 93.0h0M30.1 86.5h0M54.6 78.5h0M59.3 72.0h0M30.5 78.6h0M37.6 105.8h0M52.8 76.5h0M43.8 81.0h0M55.9 74.5h0M28.2 86.3h0M49.6 84.7h0M30.9 90.5h0M45.4 82.3h0M51.7 82.0h0M33.6 95.4h0M48.4 82.7h0M34.2 91.7h0M56.3 76.9h0M65.7 71.8h0M58.3 81.2h0M56.8 74.3h0M35.0 92.3h0M67.0 72.3h0M48.9 85.7h0M36.4 95.6h0M54.6 86.9h0M35.0 89.9h0M62.1 67.5h0M66.7 70.3h0M48.1 89.5h0M46.2 80.7h0M26.2 91.4h0M34.1 85.2h0M50.2 86.5h0M28.1 91.6h0M30.1 95.5h0M36.9 92.7h0M62.1 74.8h0M31.8 93.4h0M55.0 80.1h0M30.8 90.5h0M50.3 75.6h0M37.4 98.9h0M34.5 91.2h0M57.1 74.0h0M35.3 77.3h0M27.5 101.7h0M55.8 75.2h0M55.8 76.1h0M32.2 91.9h0M32.3 87.5h0M56.7 73.1h0M32.5 98.7h0M33.4 97.3h0M65.3 67.6h0M27.3 90.5h0M59.6 71.2h0M35.3 97.2h0M33.3 93.9h0M54.3 79.0h0M39.3 89.3h0M27.0 100.6h0M54.8 80.2h0M34.8 75.1h0M27.4 81.9h0M61.0 72.3h0M31.0 101.8h0M69.4 65.0h0M50.0 81.7h0M50.1 90.1h0M29.7 97.0h0M48.7 78.0h0M37.2 91.8h0M62.0 77.6h0M49.7 78.7h0M49.5 88.5h0M33.3 87.6h0M34.4 91.5h0M30.4 88.3h0M61.4 70.1h0M56.3 82.4h0M31.1 97.9h0M66.4 68.6h0M62.6 72.0h0M51.4 81.5h0M36.2 99.3h0M65.4 69.3h0M33.0 97.0h0M58.4 77.8h0M39.7 91.9h0M51.0 83.7h0M34.9 96.6h0M35.8 101.4h0M41.1 90.6h0M30.2 103.6h0M57.9 73.5h0M27.8 91.6h0M52.9 82.0h0M68.3 66.8h0M54.3 78.8h0M63.7 71.3h0M44.2 80.3h0M42.0 95.6h0M39.5 89.7h0M29.7 99.1h0M26.3 91.5h0M33.5 82.9h0M57.5 76.7h0M58.9 81.5h0M34.3 90.1h0M48.4 86.8h0M49.6 85.6h0M37.6 106.7h0M63.1 75.4h0M31.8 91.4h0M56.9 81.0h0M56.5 77.9h0M56.0 80.7h0M31.6 97.1h0M26.1 82.5h0M33.8 95.5h0M48.5 83.1h0M48.5 81.4h0M45.5 83.8h0M37.7 92.7h0M33.6 94.7h0M32.8 95.3h0M29.5 96.0h0M36.7 83.9h0M47.0 81.8h0M52.4 83.5h0M53.3 86.3h0M31.6 98.8h0M42.0 92.9h0M45.4 87.4h0M38.2 89.6h0M57.8 76.4h0M48.2 80.4h0M52.7 83.0h0M60.0 79.2h0M48.1 89.7h0M55.2 77.5h0M50.1 79.4h0M51.0 82.4h0M32.6 93.2h0M65.1 72.2h0M61.2 76.0h0M46.2 85.7h0M56.1 81.0h0M33.0 93.2h0M61.8 69.8h0M53.9 75.4h0M59.7 78.8h0M56.8 80.6h0M47.6 87.3h0M58.9 70.6h0M35.6 95.9h0M33.5 88.7h0M61.8 75.6h0M66.6 66.2h0M48.7 87.2h0M27.5 95.7h0M43.8 87.0h0M62.7 72.4h0M36.4 88.9h0M61.6 67.5h0M41.1 95.2h0M53.1 80.3h0M43.7 76.5h0M32.9 101.4h0M54.7 80.0h0M24.3 102.7h0M35.1 83.7h0M34.8 88.5h0M26.6 86.6h0M37.3 87.9h0M47.9 82.3h0M60.1 79.9h0M58.3 75.0h0M60.5 74.4h0M23.7 93.0h0M32.8 84.7h0M50.4 78.8h0M42.3 82.7h0M39.2 97.2h0M50.4 82.8h0M66.8 67.6h0M28.8 98.4h0M58.7 79.3h0M57.4 74.4h0M58.4 75.1h0M47.7 88.2h0M48.5 77.0h0M57.8 76.1h0M59.2 75.8h0M57.1 72.8h0M64.3 72.2h0M41.3 100.4h0M39.7 94.9h0M63.0 69.1h0M28.2 99.8h0M30.4 88.7h0M30.3 98.6h0M34.3 92.7h0M36.5 87.7h0M70.3 65.6h0M36.7 91.3h0M52.5 78.7h0M61.5 74.4h0M49.8 80.5h0M36.2 98.2h0M52.0 82.4h0M61.1 72.5h0M50.5 84.8h0M45.0 83.8h0M49.9 89.0h0M52.2 86.0h0M53.8 79.0h0M30.9 98.2h0M51.8 78.6h0M66.3 69.0h0M42.7 91.0h0M63.8 73.5h0M65.0 69.2h0M55.8 72.0h0M50.7 80.7h0M59.0 71.8h0M49.1 78.2h0M55.0 85.2h0M32.3 94.8h0M47.7 84.9h0M51.1 85.9h0M62.0 80.6h0M33.2 93.2h0M29.7 93.6h0M60.7 72.6h0M52.7 77.7h0M36.6 100.4h0M65.3 69.6h0M62.8 65.6h0M56.5 74.0h0M58.0 74.2h0M35.9 108.5h0M43.7 85.4h0M33.4 93.7h0M43.5 83.0h0M60.8 70.3h0M53.4 85.0h0M36.3 100.0h0M40.0 97.5h0M33.7 88.6h0M65.2 70.6h0M30.0 76.8h0M31.8 93.8h0M53.3 81.6h0M29.0 103.7h0M54.1 83.1h0M28.0 86.4h0M51.9 79.1h0M56.1 73.3h0M38.6 84.2h0M48.0 94.7h0M26.8 105.1h0M62.6 73.2h0M23.5 92.8h0M41.8 82.3h0M35.6 93.6h0M43.6 92.9h0M54.9 71.2h0M35.5 108.9h0M61.3 72.0h0M67.5 65.8h0M52.6 77.7h0M55.6 79.2h0M63.9 67.5h0M33.0 101.4h0M56.3 77.0h0M51.5 78.6h0M56.4 76.5h0M29.7 86.0h0M54.2 85.6h0M61.4 75.7h0M39.2 99.4h0M27.7 88.9h0M24.2 86.0h0M26.7 94.8h0M33.9 93.9h0M60.0 69.3h0M32.1 92.4h0M57.2 74.3h0M27.9 91.8h0M52.4 76.3h0M30.2 85.1h0M48.9 76.8h0M28.3 99.9h0M32.8 94.1h0M61.1 73.2h0M60.0 73.7h0M25.0 88.3h0M39.6 90.8h0M29.7 97.3h0M31.3 92.2h0M49.6 96.9h0M56.9 74.0h0M54.6 79.4h0M50.5 79.0h0M65.9 68.5h0M38.8 90.5h0M35.3 88.3h0M30.6 105.1h0M28.5 97.3h0M34.5 70.1h0M31.8 94.3h0M34.0 103.5h0M51.8 84.8h0M30.9 88.3h0M36.9 100.1h0M63.2 71.8h0M35.3 95.0h0M58.1 75.3h0M40.7 98.5h0M41.6 94.3h0M26.9 92.8h0M58.4 78.1h0M38.5 97.0h0M37.2 88.3h0M53.1 78.1h0M29.0 82.7h0M62.4 71.3h0M32.0 96.3h0M44.8 84.0h0M24.3 95.6h0M55.5 84.2h0M30.5 84.4h0M67.4 66.4h0M58.2 74.0h0M41.6 93.7h0M35.4 98.1h0M27.4 89.3h0M53.6 87.4h0M63.4 68.1h0M26.1 80.9h0M49.4 82.5h0M52.6 77.7h0M66.8 68.6h0M46.6 78.6h0M31.0 93.8h0M34.2 96.5h0M29.5 91.9h0M54.1 81.3h0M58.2 76.9h0M35.8 93.8h0M59.2 77.7h0M26.1 96.8h0M48.0 82.6h0M37.4 95.8h0M61.4 74.3h0M56.1 76.8h0M43.1 83.0h0M59.4 75.1h0M61.5 70.0h0M27.3 88.5h0M49.2 79.2h0M59.6 75.0h0M28.1 96.3h0M52.1 77.0h0M56.0 76.7h0M51.9 77.7h0M32.0 90.2h0M50.5 78.0h0M48.8 77.1h0M46.5 88.2h0M59.5 72.6h0M64.4 69.6h0M31.7 94.5h0M49.9 84.4h0M35.7 86.9h0M50.7 79.3h0M41.7 81.1h0M50.6 81.3h0M48.6 83.0h0M37.7 87.3h0M64.5 69.3h0M29.6 86.1h0M36.6 90.9h0M34.9 83.1h0M36.1 90.7h0M38.1 89.6h0M31.2 105.7h0M64.6 73.9h0M52.6 75.5h0M64.9 69.3h0M49.4 82.4h0M25.4 95.2h0M54.8 71.2h0M49.3 84.2h0M56.2 74.9h0M54.8 71.8h0M31.8 83.5h0M35.6 86.2h0M30.9 94.8h0M33.9 86.6h0M33.9 83.5h0M34.8 95.9h0M36.6 99.4h0M60.1 73.7h0M50.6 82.3h0M33.1 89.7h0M57.7 78.1h0M59.4 75.2h0M49.8 86.1h0M47.8 91.6h0M56.5 81.9h0M52.1 75.6h0M44.3 80.9h0M54.7 82.2h0M31.4 90.6h0M29.4 91.5h0M48.6 90.0h0M64.1 73.9h0M62.7 79.4h0M51.4 84.0h0M53.2 83.1h0M23.2 87.2h0M29.6 93.8h0M53.0 81.3h0M51.9 78.1h0M52.3 88.3h0M57.6 81.6h0M25.8 103.3h0M50.1 81.3h0M64.6 71.2h0M35.7 88.1h0M33.4 96.2h0M59.4 70.4h0M32.8 97.2h0M49.7 84.7h0M65.3 66.4h0M29.5 96.4h0M30.7 86.6h0M32.1 83.8h0M68.7 67.7h0M64.2 70.4h0M58.8 73.3h0M65.6 69.8h0M42.8 85.0h0M55.9 71.4h0M46.3 83.0h0M56.2 79.5h0M32.8 92.0h0M54.2 75.8h0M63.7 70.0h0M58.7 76.7h0M62.6 69.8h0M54.6 81.8h0M70.4 63.6h0M54.8 77.1h0M58.1 77.9h0M45.8 84.1h0M46.2 76.9h0M65.7 68.0h0M37.3 94.0h0M34.4 94.9h0M64.1 68.1h0M50.9 81.9h0M34.6 88.0h0M33.7 97.9h0M58.7 74.8h0M64.5 67.7h0M48.9 79.4h0M62.4 75.4h0M51.3 78.7h0M29.4 88.5h0M34.6 97.2h0M59.2 69.8h0M38.2 85.6h0M35.8 88.9h0M28.0 96.3h0M57.1 76.1h0M33.7 92.9h0M35.2 88.2h0M27.1 96.1h0M50.4 79.5h0M44.6 86.1h0M33.3 85.3h0M23.9 84.5h0M59.2 77.2h0M52.8 81.3h0M33.3 95.0h0M41.0 87.2h0M35.0 86.2h0M58.6 78.4h0M37.4 96.4h0M55.8 76.0h0M64.0 69.8h0M42.2 92.8h0M45.4 87.3h0M37.3 98.5h0M49.6 83.0h0M65.0 74.1h0M61.4 75.0h0M65.9 69.7h0" stroke="#000" stroke-opacity="0.45" stroke-width="1" stroke-linecap="square" fill="none"/>
<rect x="22" y="39.7" width="75.5" height="69.39999999999999" fill="none" stroke="#444" stroke-width="0.9"/>
<line x1="42.5" y1="39.7" x2="42.5" y2="109.1" stroke="#222" stroke-width="0.9"/>
<line x1="22" y1="94.3" x2="97.5" y2="94.3" stroke="#222" stroke-width="0.9"/>
<line x1="17" y1="91.8" x2="22" y2="91.8" stroke="#555" stroke-width="0.85"/>
<line x1="17" y1="74.4" x2="22" y2="74.4" stroke="#555" stroke-width="0.85"/>
<line x1="17" y1="57.0" x2="22" y2="57.0" stroke="#555" stroke-width="0.85"/>
<line x1="17" y1="39.7" x2="22" y2="39.7" stroke="#555" stroke-width="0.85"/>
<line x1="40.9" y1="109.1" x2="40.9" y2="114.6" stroke="#555" stroke-width="0.85"/>
<line x1="59.8" y1="109.1" x2="59.8" y2="114.6" stroke="#555" stroke-width="0.85"/>
<line x1="78.6" y1="109.1" x2="78.6" y2="114.6" stroke="#555" stroke-width="0.85"/>
<line x1="97.5" y1="109.1" x2="97.5" y2="114.6" stroke="#555" stroke-width="0.85"/>
<line x1="20" y1="103.9" x2="22" y2="103.9" stroke="#aaa" stroke-width="0.5"/>
<line x1="27.7" y1="109.1" x2="27.7" y2="111.1" stroke="#aaa" stroke-width="0.5"/>
<line x1="20" y1="100.8" x2="22" y2="100.8" stroke="#aaa" stroke-width="0.5"/>
<line x1="31.0" y1="109.1" x2="31.0" y2="111.1" stroke="#aaa" stroke-width="0.5"/>
<line x1="20" y1="98.7" x2="22" y2="98.7" stroke="#aaa" stroke-width="0.5"/>
<line x1="33.4" y1="109.1" x2="33.4" y2="111.1" stroke="#aaa" stroke-width="0.5"/>
<line x1="20" y1="97.0" x2="22" y2="97.0" stroke="#aaa" stroke-width="0.5"/>
<line x1="35.2" y1="109.1" x2="35.2" y2="111.1" stroke="#aaa" stroke-width="0.5"/>
<line x1="20" y1="95.6" x2="22" y2="95.6" stroke="#aaa" stroke-width="0.5"/>
<line x1="36.7" y1="109.1" x2="36.7" y2="111.1" stroke="#aaa" stroke-width="0.5"/>
<line x1="20" y1="94.4" x2="22" y2="94.4" stroke="#aaa" stroke-width="0.5"/>
<line x1="38.0" y1="109.1" x2="38.0" y2="111.1" stroke="#aaa" stroke-width="0.5"/>
<line x1="20" y1="93.4" x2="22" y2="93.4" stroke="#aaa" stroke-width="0.5"/>
<line x1="39.0" y1="109.1" x2="39.0" y2="111.1" stroke="#aaa" stroke-width="0.5"/>
<line x1="20" y1="92.5" x2="22" y2="92.5" stroke="#aaa" stroke-width="0.5"/>
<line x1="40.0" y1="109.1" x2="40.0" y2="111.1" stroke="#aaa" stroke-width="0.5"/>
<line x1="20" y1="86.5" x2="22" y2="86.5" stroke="#aaa" stroke-width="0.5"/>
<line x1="46.6" y1="109.1" x2="46.6" y2="111.1" stroke="#aaa" stroke-width="0.5"/>
<line x1="20" y1="83.5" x2="22" y2="83.5" stroke="#aaa" stroke-width="0.5"/>
<line x1="49.9" y1="109.1" x2="49.9" y2="111.1" stroke="#aaa" stroke-width="0.5"/>
<line x1="20" y1="81.3" x2="22" y2="81.3" stroke="#aaa" stroke-width="0.5"/>
<line x1="52.2" y1="109.1" x2="52.2" y2="111.1" stroke="#aaa" stroke-width="0.5"/>
<line x1="20" y1="79.6" x2="22" y2="79.6" stroke="#aaa" stroke-width="0.5"/>
<line x1="54.1" y1="109.1" x2="54.1" y2="111.1" stroke="#aaa" stroke-width="0.5"/>
<line x1="20" y1="78.2" x2="22" y2="78.2" stroke="#aaa" stroke-width="0.5"/>
<line x1="55.6" y1="109.1" x2="55.6" y2="111.1" stroke="#aaa" stroke-width="0.5"/>
<line x1="20" y1="77.1" x2="22" y2="77.1" stroke="#aaa" stroke-width="0.5"/>
<line x1="56.8" y1="109.1" x2="56.8" y2="111.1" stroke="#aaa" stroke-width="0.5"/>
<line x1="20" y1="76.1" x2="22" y2="76.1" stroke="#aaa" stroke-width="0.5"/>
<line x1="57.9" y1="109.1" x2="57.9" y2="111.1" stroke="#aaa" stroke-width="0.5"/>
<line x1="20" y1="75.2" x2="22" y2="75.2" stroke="#aaa" stroke-width="0.5"/>
<line x1="58.9" y1="109.1" x2="58.9" y2="111.1" stroke="#aaa" stroke-width="0.5"/>
<line x1="20" y1="69.2" x2="22" y2="69.2" stroke="#aaa" stroke-width="0.5"/>
<line x1="65.4" y1="109.1" x2="65.4" y2="111.1" stroke="#aaa" stroke-width="0.5"/>
<line x1="20" y1="66.1" x2="22" y2="66.1" stroke="#aaa" stroke-width="0.5"/>
<line x1="68.8" y1="109.1" x2="68.8" y2="111.1" stroke="#aaa" stroke-width="0.5"/>
<line x1="20" y1="64.0" x2="22" y2="64.0" stroke="#aaa" stroke-width="0.5"/>
<line x1="71.1" y1="109.1" x2="71.1" y2="111.1" stroke="#aaa" stroke-width="0.5"/>
<line x1="20" y1="62.3" x2="22" y2="62.3" stroke="#aaa" stroke-width="0.5"/>
<line x1="72.9" y1="109.1" x2="72.9" y2="111.1" stroke="#aaa" stroke-width="0.5"/>
<line x1="20" y1="60.9" x2="22" y2="60.9" stroke="#aaa" stroke-width="0.5"/>
<line x1="74.4" y1="109.1" x2="74.4" y2="111.1" stroke="#aaa" stroke-width="0.5"/>
<line x1="20" y1="59.7" x2="22" y2="59.7" stroke="#aaa" stroke-width="0.5"/>
<line x1="75.7" y1="109.1" x2="75.7" y2="111.1" stroke="#aaa" stroke-width="0.5"/>
<line x1="20" y1="58.7" x2="22" y2="58.7" stroke="#aaa" stroke-width="0.5"/>
<line x1="76.8" y1="109.1" x2="76.8" y2="111.1" stroke="#aaa" stroke-width="0.5"/>
<line x1="20" y1="57.8" x2="22" y2="57.8" stroke="#aaa" stroke-width="0.5"/>
<line x1="77.8" y1="109.1" x2="77.8" y2="111.1" stroke="#aaa" stroke-width="0.5"/>
<line x1="20" y1="51.8" x2="22" y2="51.8" stroke="#aaa" stroke-width="0.5"/>
<line x1="84.3" y1="109.1" x2="84.3" y2="111.1" stroke="#aaa" stroke-width="0.5"/>
<line x1="20" y1="48.8" x2="22" y2="48.8" stroke="#aaa" stroke-width="0.5"/>
<line x1="87.6" y1="109.1" x2="87.6" y2="111.1" stroke="#aaa" stroke-width="0.5"/>
<line x1="20" y1="46.6" x2="22" y2="46.6" stroke="#aaa" stroke-width="0.5"/>
<line x1="90.0" y1="109.1" x2="90.0" y2="111.1" stroke="#aaa" stroke-width="0.5"/>
<line x1="20" y1="44.9" x2="22" y2="44.9" stroke="#aaa" stroke-width="0.5"/>
<line x1="91.8" y1="109.1" x2="91.8" y2="111.1" stroke="#aaa" stroke-width="0.5"/>
<line x1="20" y1="43.5" x2="22" y2="43.5" stroke="#aaa" stroke-width="0.5"/>
<line x1="93.3" y1="109.1" x2="93.3" y2="111.1" stroke="#aaa" stroke-width="0.5"/>
<line x1="20" y1="42.4" x2="22" y2="42.4" stroke="#aaa" stroke-width="0.5"/>
<line x1="94.6" y1="109.1" x2="94.6" y2="111.1" stroke="#aaa" stroke-width="0.5"/>
<line x1="20" y1="41.4" x2="22" y2="41.4" stroke="#aaa" stroke-width="0.5"/>
<line x1="95.7" y1="109.1" x2="95.7" y2="111.1" stroke="#aaa" stroke-width="0.5"/>
<line x1="20" y1="40.5" x2="22" y2="40.5" stroke="#aaa" stroke-width="0.5"/>
<line x1="96.6" y1="109.1" x2="96.6" y2="111.1" stroke="#aaa" stroke-width="0.5"/>
<text x="33.65" y="49.5" font-size="10.2" text-anchor="middle">14</text>
<text x="88.45" y="49.3" font-size="10.2" text-anchor="middle">56</text>
<text x="92.9" y="107.2" font-size="10.2" text-anchor="middle">0</text>
<path d="M122.5 76.3h0M114.3 72.9h0M119.2 71.8h0M128.0 86.4h0M122.3 65.4h0M124.3 70.8h0M119.1 85.6h0M119.5 65.5h0M118.8 75.5h0M121.2 73.4h0M123.4 92.7h0M117.0 64.3h0M117.7 72.0h0M122.2 76.0h0M124.8 70.3h0M116.5 76.3h0M116.5 85.9h0M120.4 76.6h0M123.2 68.2h0M123.6 76.3h0M125.0 68.9h0M121.8 82.1h0M122.1 85.4h0M122.9 73.3h0M125.8 79.0h0M125.0 69.0h0M119.4 68.0h0M119.8 78.8h0M124.9 67.9h0M116.4 85.9h0M118.7 78.7h0M127.5 79.3h0M123.6 78.1h0M114.3 88.5h0M120.3 64.5h0M120.6 84.8h0M120.4 70.2h0M120.1 67.7h0M121.1 75.3h0M126.9 87.5h0M121.7 87.2h0M121.1 76.1h0M125.3 85.2h0M123.7 80.9h0M120.6 64.7h0M129.3 77.7h0M123.6 68.2h0M119.8 73.0h0M113.9 74.1h0M119.9 79.3h0M119.8 73.6h0M113.8 58.7h0M112.9 71.5h0M122.8 72.6h0M121.5 69.3h0M114.6 65.9h0M125.3 60.0h0M122.4 73.7h0M122.5 82.1h0M124.5 78.9h0M124.2 57.1h0M120.2 75.5h0M123.4 74.8h0M125.8 65.5h0M115.5 68.4h0M119.7 80.6h0M118.3 80.3h0M123.6 90.9h0M120.5 71.8h0M120.2 73.7h0M123.6 72.5h0M112.6 67.8h0M130.4 75.5h0M118.5 62.8h0M113.2 71.8h0M122.4 74.7h0M126.0 79.4h0M121.0 63.3h0M121.1 59.3h0M119.1 71.0h0M119.3 78.9h0M117.2 70.0h0M120.1 67.4h0M124.6 83.6h0M126.0 92.7h0M124.8 84.4h0M114.3 72.9h0M124.2 79.5h0M115.4 82.6h0M118.7 73.2h0M124.9 74.5h0M118.4 68.1h0M114.9 78.9h0M113.5 89.4h0M115.9 80.1h0M119.5 61.7h0M112.3 84.6h0M113.1 71.3h0M118.7 82.9h0M122.9 70.1h0M122.4 80.9h0M118.8 75.1h0M124.8 71.4h0M117.4 62.4h0M123.2 75.5h0M121.9 73.4h0M120.9 75.8h0M118.9 68.9h0M125.7 75.1h0M121.2 80.9h0M116.5 66.6h0M122.4 78.4h0M131.0 70.5h0M123.7 83.7h0M120.9 79.5h0M127.5 65.4h0M123.5 79.0h0M115.6 71.4h0M120.4 70.5h0M121.8 72.2h0M115.6 76.8h0M119.7 72.4h0M122.0 76.5h0M125.7 99.1h0M122.9 78.4h0M121.3 72.9h0M121.9 77.6h0M124.0 68.7h0M125.2 59.8h0M118.3 76.6h0M127.3 80.6h0M123.2 82.7h0M122.1 78.2h0M121.0 65.4h0M132.7 73.9h0M112.4 87.1h0M124.2 79.6h0M115.5 70.2h0M119.2 57.8h0M126.0 67.0h0M117.4 76.9h0M114.2 80.5h0M120.9 64.8h0M124.9 71.9h0M117.8 65.0h0M120.5 79.9h0M133.9 101.2h0M142.1 100.5h0M144.4 102.9h0M132.2 95.0h0M131.0 97.5h0M135.2 102.1h0M152.2 99.0h0M137.2 101.9h0M135.6 95.9h0M140.8 95.7h0M140.7 100.5h0M132.3 100.0h0M135.4 100.9h0M133.7 105.3h0M136.3 101.6h0M146.7 98.1h0M130.3 100.2h0M137.1 101.0h0M139.4 104.4h0M134.4 100.0h0M132.5 96.3h0M138.2 101.8h0M125.9 99.4h0M140.5 98.8h0M139.8 99.9h0M136.7 106.1h0M140.5 100.7h0M138.3 103.1h0M136.4 99.9h0M139.0 101.7h0M139.1 100.4h0M127.9 98.4h0M136.7 104.2h0M132.4 100.2h0M142.8 96.9h0M140.8 98.8h0M136.8 102.9h0M133.6 103.5h0M132.7 98.6h0M132.4 100.5h0M136.8 98.3h0M138.5 96.6h0M131.4 97.5h0M138.5 96.8h0M135.2 95.2h0M141.2 104.5h0M139.9 95.0h0M140.5 99.6h0M139.1 100.1h0M134.2 101.5h0M133.6 101.2h0M139.8 108.4h0M144.2 91.2h0M137.3 99.7h0M141.6 98.5h0M141.9 102.8h0M136.7 105.7h0M135.0 98.3h0M132.1 100.9h0M139.8 102.5h0M146.6 69.5h0M158.8 66.2h0M130.5 88.0h0M149.3 67.4h0M132.3 82.6h0M161.0 67.0h0M146.3 77.5h0M139.0 76.1h0M153.6 71.5h0M147.3 69.5h0M153.2 77.3h0M136.3 72.8h0M149.4 78.1h0M137.2 75.7h0M138.1 84.4h0M137.5 78.5h0M159.4 70.2h0M138.2 76.2h0M136.9 78.0h0M139.6 86.2h0M139.2 88.3h0M139.8 76.9h0M143.4 87.5h0M138.2 89.5h0M147.0 80.0h0M136.7 80.0h0M148.6 70.9h0M141.1 77.7h0M153.1 73.4h0M139.7 82.1h0M146.0 80.7h0M151.4 73.5h0M162.6 73.8h0M146.9 76.6h0M145.5 77.1h0M135.6 82.2h0M139.3 90.9h0M146.7 72.7h0M135.7 86.0h0M159.6 64.8h0M155.0 72.1h0M159.2 68.0h0M145.9 78.2h0M133.4 77.0h0M156.6 64.6h0M154.2 68.4h0M146.7 71.3h0M147.7 74.4h0M137.3 86.4h0M152.7 66.9h0M146.4 78.5h0M139.4 81.2h0M144.0 84.7h0M140.8 82.1h0M159.7 67.9h0M146.3 78.8h0M153.7 67.2h0M137.1 85.9h0M145.8 71.4h0M155.9 77.6h0M138.0 82.5h0M145.8 72.4h0M154.5 70.3h0M148.8 81.1h0M149.6 72.0h0M156.8 70.7h0M153.1 68.1h0M137.2 75.5h0M149.9 69.8h0M137.6 80.1h0M129.9 81.1h0M142.5 79.9h0M142.1 77.2h0M135.1 79.2h0M142.7 80.7h0M148.9 80.9h0M150.9 65.4h0M155.6 71.2h0M139.5 74.8h0M156.1 74.1h0" stroke="#000" stroke-opacity="0.3" stroke-width="1" stroke-linecap="square" fill="none"/>
<path d="M115.2 98.3h0M114.1 96.4h0M124.6 98.5h0M117.4 96.6h0M119.9 103.1h0M115.8 83.3h0M121.3 103.8h0M115.4 73.7h0M130.0 94.2h0M122.4 101.4h0M115.5 83.7h0M126.3 86.5h0M117.5 91.3h0M118.1 98.2h0M123.5 98.3h0M122.8 99.9h0M118.4 97.7h0M119.3 100.0h0M141.4 80.8h0M139.1 87.8h0M117.1 98.2h0M149.6 73.0h0M121.7 84.0h0M127.2 105.8h0M127.3 100.5h0M119.6 95.7h0M119.1 94.9h0M123.0 94.0h0M136.2 91.5h0M118.2 102.4h0M118.8 102.1h0M116.4 98.8h0M124.9 97.4h0M124.8 103.6h0M118.5 91.7h0M119.8 92.1h0M126.5 98.1h0M151.1 73.5h0M128.2 93.6h0M144.8 77.3h0M141.6 78.8h0M148.1 79.3h0M119.1 100.1h0M119.4 99.8h0M123.9 103.1h0M117.8 102.9h0M140.8 82.8h0M119.5 92.9h0M136.9 87.2h0M119.4 100.4h0M119.0 98.0h0M120.2 99.5h0M113.9 93.1h0M134.4 82.6h0M124.2 97.1h0M144.4 76.9h0M115.9 104.3h0M117.0 93.4h0M117.5 98.9h0M122.7 102.6h0M123.2 100.2h0M151.3 69.6h0M143.6 77.9h0M123.5 95.0h0M117.2 77.2h0M142.1 77.8h0M150.3 70.7h0M118.9 97.5h0M114.6 98.6h0M124.0 100.2h0M116.4 90.0h0M123.1 97.0h0M122.9 97.8h0M112.3 99.5h0M122.7 96.0h0M138.8 80.3h0M118.4 90.0h0M137.0 86.1h0M120.7 101.5h0M126.5 99.2h0M117.7 101.2h0M123.6 85.8h0M150.6 72.2h0M123.1 101.1h0M118.5 99.9h0M119.8 99.4h0M143.0 78.0h0M151.7 72.1h0M123.1 101.9h0M150.6 72.3h0M140.8 82.3h0M143.3 77.5h0M115.7 99.3h0M150.9 73.9h0M144.2 73.9h0M116.9 96.7h0M115.4 106.6h0M148.9 74.9h0M148.4 78.7h0M150.9 69.6h0M152.5 69.6h0M137.8 83.4h0M128.4 95.5h0M148.1 74.2h0M117.8 105.1h0M117.1 104.1h0M149.2 72.3h0M114.6 101.0h0M118.8 103.1h0M143.8 79.6h0M117.9 100.9h0M117.9 96.3h0M111.7 100.1h0M147.1 78.7h0M123.9 104.8h0M147.1 73.8h0M121.7 86.0h0M142.2 80.6h0M137.3 86.5h0M113.8 104.1h0M116.5 85.8h0M130.7 86.7h0M148.9 75.2h0M119.6 100.4h0M121.3 101.0h0M124.0 92.9h0M118.9 99.8h0M111.6 78.1h0M114.2 94.7h0M120.9 100.2h0M117.7 99.3h0M145.0 74.5h0M154.4 68.1h0M147.6 77.7h0M154.3 69.5h0M149.7 71.3h0M116.4 92.3h0M122.2 99.5h0M137.7 85.7h0M152.7 69.2h0M144.7 77.6h0M123.7 87.5h0M116.6 100.2h0M149.8 77.0h0M138.1 85.8h0M152.2 72.1h0M123.1 102.9h0M125.4 101.0h0M152.0 71.0h0M122.9 103.4h0M125.3 92.9h0M148.6 74.5h0M155.4 66.7h0M152.1 70.9h0M148.8 73.0h0M137.3 84.8h0M129.5 100.0h0M137.8 84.6h0M122.9 98.2h0M117.9 98.0h0M126.1 94.7h0M135.8 82.5h0M114.1 102.6h0M120.3 97.5h0M114.5 84.6h0M122.0 86.3h0M157.8 65.3h0M155.3 67.1h0M122.8 88.9h0M127.4 87.3h0M121.2 86.2h0M123.4 106.6h0M140.5 80.4h0M151.4 72.5h0M114.1 102.3h0M124.4 104.0h0M127.3 104.0h0M120.2 100.6h0M127.2 92.7h0M145.7 76.6h0M120.0 99.2h0M153.4 68.4h0M117.1 98.5h0M117.4 79.9h0M139.2 82.5h0M120.0 98.9h0M119.4 95.2h0M149.2 75.8h0M121.0 105.5h0M142.1 78.9h0M147.7 73.4h0M119.7 99.9h0M146.5 76.1h0M120.7 92.5h0M142.9 83.8h0M123.8 98.7h0M133.2 85.1h0M134.5 89.8h0M134.5 82.6h0M137.9 79.6h0M114.4 92.2h0M116.5 85.2h0M121.2 92.3h0M117.2 87.0h0M117.0 108.6h0M137.1 92.5h0M113.7 80.8h0M119.4 83.9h0M120.3 100.6h0M122.4 103.4h0M121.6 97.2h0M119.1 101.2h0M148.5 72.4h0M122.6 90.8h0M144.4 80.6h0M118.9 89.9h0M135.1 88.0h0M124.7 96.8h0M118.3 96.9h0M138.4 91.3h0M122.2 97.5h0M115.1 94.9h0M119.6 100.4h0M118.4 87.0h0M117.9 108.0h0M120.0 106.1h0M114.8 104.2h0M119.6 97.2h0M120.6 91.6h0M134.2 88.2h0M152.2 70.1h0M120.5 102.8h0M152.4 69.5h0M116.7 86.1h0M147.4 76.0h0M124.0 104.6h0M114.2 101.0h0M114.7 77.3h0M123.1 100.4h0M123.2 102.4h0M133.2 94.3h0M125.0 100.1h0M150.4 67.6h0M136.4 87.2h0M145.0 75.7h0M127.3 74.1h0M123.9 84.6h0M133.2 82.4h0M117.8 93.0h0M144.0 78.6h0M120.7 100.0h0M119.1 101.8h0M120.9 106.3h0M125.1 97.6h0M152.5 69.0h0M143.6 77.0h0M121.0 102.1h0M120.9 97.7h0M149.1 72.9h0M139.4 90.2h0M118.3 96.2h0M121.1 102.7h0M119.7 75.6h0M119.1 97.2h0M123.7 98.3h0M143.7 78.3h0M128.6 84.9h0M123.1 83.4h0M121.2 75.2h0M121.5 99.9h0M121.8 75.4h0M119.4 88.2h0M113.1 78.2h0M146.0 77.8h0M135.9 87.1h0M121.3 101.8h0M122.9 104.8h0M116.3 101.4h0M120.4 91.4h0M141.4 75.4h0M117.8 95.3h0M119.4 94.6h0M121.9 87.5h0M140.8 78.8h0M140.7 79.2h0M130.8 101.2h0M112.1 101.1h0M114.5 108.0h0M143.4 79.8h0M118.1 98.5h0M122.0 101.3h0M133.3 87.0h0M111.9 100.3h0M123.2 101.6h0M121.0 105.5h0M128.0 92.7h0M146.9 79.6h0M138.3 84.2h0M123.1 100.6h0M157.5 68.4h0M137.5 82.2h0M126.1 94.1h0M117.5 103.3h0M120.0 89.7h0M120.6 85.3h0M142.9 79.7h0M125.9 89.7h0M134.7 87.5h0M128.3 86.5h0M118.1 101.9h0M142.6 81.0h0M156.5 68.0h0M140.2 85.2h0M117.6 99.4h0M123.7 91.6h0M112.0 102.5h0M115.1 105.4h0M149.0 73.6h0M141.1 78.6h0M117.5 101.4h0M141.2 77.0h0M116.9 104.1h0M120.8 104.3h0M115.0 94.4h0M129.0 88.4h0M149.4 72.4h0M150.7 72.1h0M123.9 103.5h0M139.2 75.8h0M118.9 103.4h0M124.6 90.8h0M149.3 73.1h0M138.0 82.9h0M117.5 100.5h0M116.7 81.2h0M151.7 70.8h0M121.2 74.8h0M119.2 107.4h0M143.1 89.0h0M150.4 72.0h0M123.2 97.3h0M142.1 80.3h0M139.3 80.6h0M118.6 102.1h0M117.9 101.6h0M118.9 102.2h0M143.3 78.0h0M149.5 73.0h0M118.3 101.8h0M136.6 80.0h0M124.1 84.9h0M144.0 78.7h0M113.4 74.2h0M142.1 75.9h0M134.7 80.4h0M144.2 75.9h0M123.3 93.9h0M114.4 92.7h0M115.5 100.5h0M121.1 90.8h0M123.7 92.1h0M117.4 100.6h0M138.4 80.1h0M124.3 100.0h0M154.9 69.0h0M117.9 88.3h0M118.1 104.8h0M116.3 102.3h0M122.4 95.7h0M116.8 97.0h0M140.6 75.8h0M155.9 71.0h0M131.0 106.8h0M120.4 97.2h0M116.3 106.2h0M144.5 78.0h0M121.3 102.3h0M129.4 90.9h0M121.4 82.1h0M125.7 94.2h0M127.5 90.1h0M157.4 66.2h0M120.8 101.3h0M124.4 94.8h0M149.5 73.5h0M148.3 73.0h0M142.9 78.6h0M114.9 96.8h0M119.0 98.0h0M117.7 98.0h0M117.3 99.2h0M112.4 100.6h0M147.8 72.9h0M141.6 78.1h0M134.4 88.6h0M143.5 78.6h0M134.6 83.8h0M123.0 99.1h0M114.7 96.5h0M150.0 69.6h0M148.1 74.5h0M152.0 71.3h0M146.5 73.4h0M147.2 74.7h0M112.4 92.8h0M125.8 96.0h0M119.0 98.9h0M147.4 79.5h0M125.1 93.6h0M122.4 85.9h0M139.6 82.9h0M117.3 80.9h0M122.9 100.0h0M152.9 70.7h0M120.2 97.0h0M122.9 105.2h0M120.3 100.0h0M118.2 105.6h0M120.3 108.6h0M139.1 82.9h0M114.6 83.6h0M115.9 91.2h0M148.4 74.3h0M142.8 87.8h0M118.3 100.0h0M143.2 77.7h0M113.3 103.6h0M118.0 97.7h0M116.0 89.2h0M119.1 94.7h0M121.7 81.4h0M149.3 72.4h0M119.9 99.5h0M117.8 103.6h0M125.6 101.5h0M144.3 77.1h0M132.1 90.3h0M120.1 103.2h0M149.4 71.9h0M116.6 101.9h0M113.6 100.7h0M148.8 75.7h0M124.6 97.8h0M126.0 100.0h0M121.7 95.4h0M123.5 87.2h0M152.3 71.8h0M143.8 76.6h0M114.6 95.5h0M145.4 74.6h0M147.3 73.9h0M130.7 82.0h0M113.8 93.8h0M124.3 105.5h0M151.9 69.3h0M146.2 77.2h0M134.0 87.9h0M120.0 100.2h0M143.4 83.5h0M123.6 82.9h0M116.7 96.8h0M120.4 104.0h0M127.0 93.0h0M134.9 86.5h0M117.0 94.6h0M112.5 96.2h0M122.2 97.6h0M152.1 73.4h0M118.3 101.1h0M156.3 67.6h0M115.9 94.9h0M123.8 97.8h0M136.2 90.3h0M126.1 106.1h0M135.7 87.8h0M118.1 86.5h0M152.1 70.4h0M126.5 103.5h0M142.3 84.8h0M157.5 66.0h0M119.5 97.8h0M125.4 103.6h0M114.0 96.9h0M140.3 80.2h0M124.5 93.5h0M126.3 99.8h0M115.6 99.1h0M117.1 90.5h0M148.1 72.3h0M121.5 96.8h0M126.6 102.1h0M144.4 81.9h0M120.3 97.4h0M122.5 81.3h0M113.0 101.4h0M116.8 98.9h0M134.0 88.1h0M117.5 102.7h0M122.2 80.3h0" stroke="#000" stroke-opacity="0.45" stroke-width="1" stroke-linecap="square" fill="none"/>
<path d="M136.5 86.2h0M141.6 76.3h0M117.1 81.8h0M118.2 95.7h0M122.9 99.3h0M119.9 96.4h0M123.9 103.5h0M117.6 108.2h0M125.6 86.1h0M139.8 81.0h0M118.1 98.9h0M146.9 76.2h0M142.8 78.7h0M128.1 94.6h0M150.2 72.9h0M117.7 98.3h0M123.7 96.4h0M124.6 102.3h0M136.1 85.3h0M136.7 87.1h0M118.7 105.5h0M151.1 71.8h0M152.6 70.9h0M122.4 86.5h0M123.9 100.7h0M134.3 88.9h0M116.8 96.6h0M115.5 98.8h0M156.3 66.4h0M116.9 106.9h0M118.6 104.2h0M151.0 70.7h0M119.9 97.4h0M153.5 68.3h0M135.4 86.3h0M119.3 106.6h0M120.4 100.3h0M116.2 89.6h0M121.0 101.0h0M118.6 94.1h0M123.2 96.4h0M119.9 93.8h0M122.2 91.9h0M120.9 97.8h0M119.5 85.2h0M121.3 97.8h0M146.4 76.7h0M120.4 103.9h0M116.9 100.9h0M155.0 67.6h0M113.7 99.0h0M144.5 76.8h0M125.1 94.1h0M144.2 78.5h0M115.8 102.6h0M153.7 69.1h0M121.6 100.9h0M126.5 98.0h0M121.5 102.7h0M121.6 98.3h0M149.5 74.4h0M120.6 98.1h0M116.9 102.9h0M118.5 101.7h0M148.7 76.0h0M116.0 102.3h0M154.4 66.9h0M113.6 102.0h0M144.8 77.7h0M120.9 86.8h0M114.4 93.4h0M122.8 99.6h0M147.9 78.6h0M120.6 101.8h0M121.0 89.9h0M147.7 76.0h0M147.1 72.2h0M126.5 94.2h0M147.8 76.9h0M118.3 97.1h0M126.3 101.3h0M120.2 100.4h0M120.1 94.8h0M155.0 68.3h0M121.7 105.9h0M117.9 103.0h0M143.6 83.2h0M149.6 73.2h0M119.2 103.9h0M115.6 87.3h0M131.6 89.8h0M121.1 97.1h0M120.9 99.6h0M153.6 68.0h0M123.9 99.6h0M121.5 94.2h0M118.1 87.6h0M117.7 91.7h0M121.0 106.5h0M156.0 65.9h0M120.1 102.4h0M148.4 75.2h0M153.4 71.7h0M117.9 98.0h0M132.6 85.5h0M119.8 96.5h0M151.3 69.6h0M127.0 86.4h0M130.6 94.8h0M138.0 87.4h0M149.2 72.4h0M119.2 102.4h0M137.4 84.4h0M126.4 96.0h0M117.5 93.5h0M126.7 89.0h0M136.6 83.6h0M124.8 97.2h0M152.5 66.7h0M132.8 83.6h0M141.7 79.9h0M140.4 82.0h0M118.7 92.8h0M142.4 80.0h0M143.6 76.9h0M124.7 91.9h0M112.0 96.3h0M116.8 88.2h0M122.1 97.5h0M114.3 94.2h0M124.8 90.3h0M113.1 90.5h0M134.8 89.5h0M124.2 95.4h0M147.8 73.8h0M138.7 86.3h0M124.6 104.0h0M115.7 101.9h0M121.5 85.6h0M119.8 97.7h0M113.9 105.1h0M121.8 96.3h0M146.9 76.4h0M124.2 84.5h0M122.8 83.5h0M116.2 101.6h0M115.2 99.5h0M121.2 91.1h0M119.1 92.6h0M146.0 77.2h0M123.9 105.0h0M145.0 76.7h0M148.7 73.9h0M145.3 76.9h0M121.8 94.7h0M125.3 85.5h0M117.4 104.1h0M156.5 66.2h0M116.8 102.8h0M135.9 85.7h0M151.5 70.5h0M117.6 100.4h0M114.8 97.0h0M140.9 77.7h0M130.5 86.9h0M152.0 74.2h0M139.3 81.1h0M137.4 82.4h0M157.0 67.5h0M123.8 98.4h0M118.1 94.7h0M122.4 98.9h0M115.2 93.3h0M145.1 74.9h0M114.0 92.1h0M124.2 103.6h0M154.5 67.8h0M118.5 98.7h0M152.1 74.4h0M121.5 96.1h0M118.0 100.8h0M142.7 80.7h0M125.6 101.4h0M146.8 74.9h0M121.5 99.8h0M124.1 101.0h0M125.9 100.4h0M118.3 100.0h0M124.6 100.1h0M120.4 104.2h0M138.3 76.0h0M152.5 72.4h0M124.9 86.4h0M133.4 86.5h0M119.6 98.2h0M121.6 77.6h0M121.2 90.4h0M147.5 74.1h0M115.5 100.1h0M158.2 66.5h0M117.7 90.9h0M118.4 96.9h0M116.8 107.2h0M150.2 72.9h0M141.4 80.1h0M139.6 81.8h0M120.5 100.0h0M143.9 77.4h0M143.8 80.6h0M125.9 93.5h0M145.8 74.3h0M136.9 84.9h0M114.4 73.5h0M116.4 92.5h0M116.6 107.0h0M119.6 97.6h0M119.9 93.9h0M145.5 73.0h0M121.7 101.1h0M128.7 72.7h0M143.4 75.6h0M141.6 86.3h0M116.3 81.6h0M150.0 72.6h0M149.0 76.4h0M146.7 78.7h0M123.9 98.8h0M145.6 79.5h0M131.0 84.5h0M152.4 72.2h0M119.8 102.2h0M149.9 72.7h0M144.6 74.8h0M121.2 98.2h0M116.2 100.5h0M120.5 97.3h0M119.5 94.8h0M145.1 77.5h0M122.2 86.3h0M116.3 101.1h0M115.9 89.6h0M116.2 98.2h0M120.7 100.5h0M123.5 94.1h0M135.0 88.7h0M115.3 99.1h0M153.8 68.5h0M121.2 85.8h0M147.9 75.8h0M139.5 84.1h0M150.2 71.8h0M124.3 95.5h0M117.8 102.9h0M132.9 92.3h0M145.8 77.9h0M149.3 72.0h0M116.4 104.9h0M145.7 78.8h0M118.5 101.6h0M131.3 85.7h0M117.8 97.4h0M123.8 102.1h0M119.6 108.4h0M122.5 102.6h0M118.4 104.7h0M122.0 99.4h0M151.4 72.2h0M135.9 82.6h0M113.7 83.0h0M121.6 98.8h0M119.3 100.1h0M116.2 99.4h0M117.3 106.0h0M115.5 96.2h0M115.0 86.7h0M144.0 75.3h0M146.5 73.5h0M151.7 69.4h0M151.6 70.1h0M123.3 99.6h0M122.2 79.6h0M149.2 77.3h0M147.8 75.6h0M139.5 91.0h0M115.8 108.8h0M122.8 93.5h0M153.9 67.9h0M143.3 83.9h0M117.3 93.1h0M121.6 97.7h0M152.4 69.5h0M115.8 94.7h0M122.7 100.7h0M154.3 69.7h0M152.3 70.4h0M122.5 107.7h0M121.4 96.1h0M123.0 88.8h0M153.3 67.3h0M154.2 67.5h0M119.8 96.4h0M113.8 104.1h0M148.7 72.7h0M119.1 89.3h0M151.3 71.1h0M140.8 84.9h0M151.4 71.5h0M117.6 92.6h0M123.2 90.2h0M138.2 80.0h0M124.5 100.6h0M126.6 100.0h0M148.1 75.4h0M119.2 94.6h0M111.3 77.9h0M144.6 76.7h0M146.7 73.7h0M117.2 100.1h0M134.6 87.6h0M128.9 95.0h0M133.0 84.7h0M140.9 79.2h0M116.2 95.6h0M122.1 91.7h0M117.7 79.9h0M136.7 85.2h0M149.7 74.0h0M115.2 100.4h0M119.7 103.5h0M147.6 76.0h0M121.3 102.7h0M121.8 97.6h0M123.3 89.0h0M141.5 80.6h0M121.1 90.8h0M121.0 96.5h0M120.8 86.6h0M149.9 73.5h0M121.7 103.6h0M125.0 99.8h0M157.1 66.5h0M124.3 99.6h0M140.1 82.9h0M118.3 97.4h0M121.2 90.5h0M119.2 98.8h0M143.9 79.3h0M143.9 81.4h0M114.4 103.6h0M124.9 79.5h0M114.8 104.6h0M132.9 79.4h0M141.2 80.8h0M140.3 86.1h0M135.5 81.0h0M120.6 103.2h0M120.7 99.3h0M155.0 69.0h0M118.8 84.9h0M143.7 83.8h0M138.6 85.4h0M115.9 101.6h0M133.8 82.1h0M154.8 68.6h0M115.8 106.0h0M118.8 104.2h0M138.0 85.1h0M138.5 86.5h0M138.8 91.7h0M142.1 93.1h0M120.9 101.7h0M155.3 66.7h0M143.8 78.7h0M115.7 102.7h0M115.8 100.3h0M127.0 98.1h0M119.2 100.3h0M137.9 81.7h0M140.1 88.8h0M120.0 99.3h0M139.9 90.0h0M138.0 81.7h0M125.3 79.8h0M127.4 101.4h0M120.2 101.5h0M122.7 103.3h0M117.7 101.4h0M153.3 70.9h0M121.5 96.5h0M145.1 77.7h0M134.1 83.0h0M126.0 99.8h0M123.6 102.9h0M149.8 71.7h0M122.9 102.7h0M128.7 82.1h0M141.8 82.3h0M124.0 102.4h0M118.1 104.9h0M147.7 71.7h0M121.4 98.9h0M123.6 97.5h0M139.9 89.1h0M152.0 69.8h0M120.6 105.5h0M153.0 70.3h0M118.9 86.0h0M143.7 75.8h0M149.8 74.3h0M115.0 101.2h0M150.7 70.6h0M132.3 85.5h0M138.4 82.3h0M155.0 68.0h0M124.5 86.1h0M121.1 94.0h0M118.4 99.0h0M140.0 82.9h0M114.4 98.6h0M135.7 89.7h0M131.3 93.5h0M126.7 90.9h0M152.8 67.8h0M123.8 102.2h0M119.1 102.6h0M148.4 71.5h0M142.2 80.1h0M122.4 95.7h0M116.5 105.7h0M139.0 86.9h0M148.3 77.1h0M134.8 87.3h0M124.0 106.3h0M149.9 72.3h0M157.9 65.2h0M120.2 82.1h0M142.7 73.4h0M123.4 99.5h0M121.2 98.2h0M149.2 76.2h0M119.4 95.7h0M119.1 91.5h0M120.8 101.3h0M117.9 97.1h0M121.0 80.7h0M114.2 101.9h0M118.8 98.6h0M155.2 68.5h0M120.9 105.1h0M136.9 84.5h0M120.9 93.9h0M158.8 65.6h0M121.2 91.6h0M147.1 76.7h0M119.8 88.4h0M115.9 97.5h0M132.7 84.2h0M124.8 99.6h0M118.7 100.8h0M116.1 102.0h0M119.3 88.6h0M123.2 88.4h0M145.6 76.4h0M122.5 97.0h0M122.7 99.6h0M119.2 102.7h0M124.4 82.8h0M135.9 91.2h0M148.7 71.5h0M144.0 76.4h0M122.9 100.6h0M146.2 77.8h0M123.6 101.0h0M121.2 104.0h0M116.8 103.5h0M124.4 96.1h0M134.6 85.4h0M125.9 82.2h0M127.1 87.3h0M124.1 94.9h0M128.2 87.0h0M117.5 88.4h0M113.3 102.3h0M141.0 77.7h0M123.1 98.1h0M142.6 75.8h0M119.3 98.8h0M148.6 70.5h0M138.5 84.0h0M112.5 92.9h0M121.8 104.0h0M154.5 68.0h0M120.4 90.2h0M133.2 87.8h0M124.8 83.2h0M113.0 103.6h0M118.6 97.1h0M121.3 81.1h0M114.9 72.9h0M149.4 75.2h0M123.9 102.7h0M119.6 100.2h0" stroke="#000" stroke-opacity="0.45" stroke-width="1" stroke-linecap="square" fill="none"/>
<path d="M143.5 78.6h0M119.2 97.4h0M117.5 103.8h0M126.1 94.8h0M142.1 79.8h0M119.7 100.5h0M153.6 68.6h0M115.7 94.4h0M116.4 102.7h0M121.7 84.3h0M114.5 98.0h0M119.4 97.0h0M146.6 73.6h0M142.5 82.0h0M115.0 103.8h0M118.7 101.7h0M122.7 102.5h0M138.6 87.8h0M149.7 74.9h0M140.6 81.5h0M150.1 75.1h0M126.3 106.8h0M141.7 77.7h0M115.5 99.3h0M117.3 99.4h0M111.7 104.0h0M112.5 82.0h0M115.7 89.2h0M143.6 80.0h0M119.8 105.0h0M119.4 93.6h0M114.9 93.2h0M112.0 84.5h0M124.3 94.7h0M125.3 95.3h0M119.8 104.3h0M120.4 87.1h0M122.0 96.1h0M126.0 98.9h0M139.6 86.0h0M123.8 99.0h0M148.0 72.2h0M115.6 97.1h0M117.6 100.2h0M150.1 70.6h0M130.5 79.6h0M120.0 106.8h0M150.7 72.0h0M115.6 96.0h0M118.0 105.5h0M114.6 90.0h0M117.9 94.0h0M122.1 107.5h0M143.5 76.3h0M153.3 70.4h0M126.4 104.0h0M117.5 98.4h0M154.0 70.1h0M117.6 102.5h0M138.8 81.9h0M123.1 99.0h0M120.7 104.9h0M129.6 108.5h0M154.0 70.4h0M119.2 96.5h0M123.4 100.9h0M114.7 102.9h0M151.3 73.1h0M113.2 96.1h0M120.8 99.1h0M119.1 93.4h0M151.7 73.4h0M123.0 100.5h0M121.7 98.8h0M116.8 106.0h0M123.8 99.2h0M127.8 85.9h0M151.5 72.6h0M153.6 69.4h0M121.7 97.8h0M119.9 95.6h0M118.6 104.9h0M117.6 108.6h0M120.2 99.3h0M117.5 88.1h0M123.5 98.3h0M128.0 82.7h0M121.3 105.1h0M120.4 101.4h0M157.4 67.5h0M144.4 75.7h0M124.2 86.9h0M136.6 87.8h0M119.5 100.3h0M119.9 106.0h0M113.7 103.0h0M121.8 100.3h0M141.2 81.4h0M120.8 100.6h0M112.9 106.6h0M111.9 95.5h0M123.6 99.1h0M139.9 83.3h0M123.1 89.3h0M136.9 85.5h0M127.6 103.8h0M120.5 93.5h0M121.7 97.1h0M121.3 86.6h0M124.1 104.7h0M143.4 79.2h0M117.5 100.1h0M118.0 98.0h0M151.4 72.1h0M126.6 88.0h0M137.4 82.5h0M141.3 80.2h0M126.2 75.8h0M140.8 84.0h0M123.1 100.3h0M114.0 88.6h0M153.6 71.3h0M132.7 85.9h0M124.4 103.5h0M120.5 90.7h0M128.1 94.2h0M140.6 81.2h0M127.2 93.5h0M119.5 77.7h0M121.5 99.7h0M123.9 100.8h0M116.7 94.5h0M123.9 95.5h0M125.2 99.9h0M126.7 104.8h0M115.8 94.3h0M143.4 83.5h0M120.0 92.9h0M140.9 81.3h0M127.4 80.4h0M116.7 94.0h0M126.6 91.5h0M119.9 77.3h0M149.3 75.0h0M121.6 93.6h0M117.1 92.9h0M121.4 101.6h0M125.6 102.8h0M115.5 97.6h0M123.1 87.2h0M122.8 101.9h0M121.6 98.8h0M136.2 83.9h0M141.9 76.9h0M112.2 99.7h0M119.9 104.7h0M124.9 96.8h0M122.5 100.1h0M115.9 102.1h0M115.9 105.4h0M121.4 107.1h0M150.4 73.0h0M122.0 98.7h0M118.4 105.7h0M122.3 98.4h0M143.7 80.0h0M152.7 68.0h0M146.5 80.2h0M113.6 97.0h0M142.1 78.5h0M122.4 99.1h0M124.9 88.4h0M122.1 98.4h0M111.9 91.7h0M123.8 102.3h0M134.8 86.1h0M125.2 90.4h0M119.5 100.9h0M150.6 69.7h0M149.6 72.4h0M113.1 106.5h0M118.0 99.2h0M122.9 90.7h0M153.7 70.5h0M117.7 100.4h0M135.3 86.6h0M114.3 103.2h0M121.7 99.5h0M145.3 77.4h0M118.6 84.0h0M119.3 87.3h0M118.5 87.5h0M116.8 78.7h0M116.3 103.4h0M124.4 100.0h0M125.6 104.6h0M141.9 79.6h0M132.1 88.1h0M150.2 73.1h0M118.2 92.1h0M113.4 92.9h0M144.5 79.9h0M145.1 79.0h0M118.0 99.7h0M126.1 102.0h0M119.6 95.3h0M141.1 79.5h0M126.6 98.6h0M115.3 107.9h0M114.5 95.7h0M127.8 98.6h0M117.4 95.2h0M140.3 90.8h0M152.0 70.8h0M124.8 93.7h0M133.2 82.8h0M113.1 84.2h0M122.2 104.6h0M118.4 88.2h0M119.9 99.7h0M123.3 104.0h0M122.3 108.0h0M123.4 76.3h0M150.5 74.0h0M123.2 99.4h0M116.8 83.9h0M119.5 83.3h0M125.3 87.5h0M118.2 97.1h0M117.1 105.1h0M143.7 79.7h0M144.9 73.2h0M156.5 67.6h0M116.1 94.7h0M138.8 87.4h0M119.5 100.6h0M116.3 97.3h0M121.0 106.5h0M116.9 98.6h0M118.6 100.8h0M136.6 86.4h0M152.0 68.4h0M157.9 67.4h0M142.5 81.3h0M122.0 92.0h0M150.9 73.0h0M151.0 68.8h0M116.3 86.0h0M112.5 102.8h0M122.4 86.2h0M115.2 95.1h0M135.5 81.8h0M116.4 107.6h0M118.9 99.2h0M117.9 87.3h0M115.9 100.7h0M150.9 68.8h0M122.1 89.0h0M124.7 101.6h0M143.7 79.4h0M145.9 74.6h0M147.0 79.1h0M122.5 97.9h0M123.8 98.0h0M145.9 77.3h0M123.9 101.6h0M156.0 68.1h0M120.6 95.5h0M157.2 65.2h0M115.8 106.9h0M118.1 101.4h0M118.6 101.1h0M118.0 87.3h0M150.1 76.1h0M151.1 70.9h0M116.9 85.3h0M138.1 88.8h0M117.1 96.1h0M153.7 68.7h0M148.5 77.6h0M120.6 97.8h0M146.0 77.8h0M114.9 99.1h0M124.1 96.5h0M138.2 86.1h0M115.8 105.3h0M118.5 99.2h0M114.0 96.1h0M136.6 82.6h0M151.1 72.8h0M148.6 74.2h0M148.4 73.1h0M116.7 96.2h0M121.3 90.1h0M119.2 101.2h0M117.5 98.8h0M118.0 100.5h0M119.9 102.4h0M153.8 66.4h0M128.1 84.9h0M117.0 86.4h0M117.8 101.0h0M125.4 96.2h0M121.9 98.7h0M125.6 96.6h0M115.0 99.4h0M116.0 108.5h0M153.2 69.9h0M113.4 93.5h0M120.5 102.3h0M122.9 97.5h0M121.2 96.7h0M120.4 100.8h0M121.9 102.5h0M143.2 82.5h0M122.3 102.7h0M155.1 68.9h0M147.0 71.8h0M122.6 98.9h0M117.3 97.3h0M150.6 68.9h0M140.5 79.2h0M141.4 78.6h0M153.9 67.6h0M125.0 102.7h0M120.9 101.1h0M142.3 76.2h0M114.9 100.1h0M115.6 88.7h0M112.4 95.9h0M117.8 84.1h0M114.2 103.3h0M120.5 95.7h0M153.7 67.9h0M134.4 87.4h0M124.7 80.3h0M118.3 95.1h0M123.8 86.4h0M140.3 79.2h0M119.9 100.3h0M121.8 98.7h0M150.7 71.7h0M123.8 108.9h0M156.4 68.0h0M133.4 84.5h0M115.5 99.5h0M147.4 74.2h0M116.7 89.8h0M121.9 87.7h0M120.7 97.7h0M116.1 102.8h0M117.4 98.0h0M133.1 80.7h0M120.9 97.6h0M136.9 92.3h0M136.7 87.4h0M116.5 105.9h0M119.4 104.6h0M114.3 105.9h0M130.5 104.9h0M133.2 84.5h0M138.3 77.7h0M122.3 90.5h0M151.4 70.9h0M139.7 88.5h0M124.9 103.3h0M124.2 95.5h0M138.5 80.1h0M124.4 99.8h0M130.3 103.0h0M119.8 92.6h0M116.4 101.5h0M150.9 69.8h0M133.2 83.8h0M137.5 85.0h0M112.7 102.0h0M121.0 83.5h0M122.0 101.8h0M119.4 93.8h0M125.3 88.2h0M115.9 86.0h0M134.2 84.9h0M118.5 98.5h0M126.6 91.3h0M125.5 106.7h0M116.5 94.3h0M146.1 70.4h0M117.5 96.2h0M138.7 77.9h0M137.0 87.6h0M121.7 88.7h0M124.1 104.1h0M150.3 71.2h0M121.0 106.5h0M139.7 81.4h0M114.3 102.5h0M134.1 86.4h0M149.8 69.0h0M144.6 78.0h0M118.3 99.1h0M118.7 99.8h0M123.3 81.1h0M121.0 85.1h0M138.2 80.6h0M147.0 75.6h0M118.6 99.8h0M115.8 93.2h0M143.9 76.0h0M155.7 67.1h0M116.1 91.7h0M119.7 87.2h0M117.7 97.7h0M115.9 99.5h0M138.3 86.0h0M124.1 92.8h0M117.6 102.0h0M150.7 71.0h0M120.4 105.8h0M122.8 97.1h0M118.9 106.8h0M112.3 102.4h0M138.9 79.3h0M151.5 72.6h0M136.0 83.3h0M141.8 79.9h0M115.7 78.2h0M142.3 74.9h0M121.4 98.2h0M145.9 76.5h0M122.2 96.0h0M122.5 100.5h0M119.6 99.9h0M115.4 98.3h0M124.7 85.6h0M119.2 99.0h0M152.8 68.7h0M153.3 70.1h0M151.1 72.0h0M151.8 71.5h0M126.8 85.6h0M154.4 71.2h0M117.1 97.5h0M145.5 76.6h0M119.3 107.6h0M122.9 74.9h0M141.7 91.3h0M112.9 104.3h0M121.6 92.2h0M135.8 86.6h0M116.8 102.0h0M148.4 76.2h0M123.3 99.6h0M144.7 76.0h0M118.7 99.7h0M118.4 102.4h0M148.7 74.3h0M141.9 81.9h0M121.3 101.2h0M135.3 84.1h0M116.7 101.1h0M126.4 85.2h0M116.1 96.4h0M145.6 75.9h0M147.3 74.3h0M144.0 83.4h0M119.2 101.7h0M119.9 102.2h0M126.1 93.6h0M157.4 66.2h0M122.9 94.7h0M123.6 98.5h0M113.6 72.2h0M118.9 98.7h0M113.6 101.1h0M117.4 93.8h0M120.3 90.8h0M116.9 94.2h0M123.5 88.4h0M126.7 103.3h0M118.0 95.4h0M150.4 71.2h0M123.2 84.4h0M147.8 73.6h0M120.8 94.3h0M115.8 94.7h0M146.4 77.4h0M119.5 95.4h0M121.5 91.6h0M132.3 88.6h0M120.8 103.7h0M121.7 94.9h0M117.2 104.2h0M117.5 109.3h0" stroke="#000" stroke-opacity="0.45" stroke-width="1" stroke-linecap="square" fill="none"/>
<path d="M123.1 100.6h0M123.7 90.2h0M122.9 96.1h0M116.2 98.6h0M151.6 69.8h0M117.7 83.2h0M124.2 97.4h0M142.7 81.5h0M117.1 100.4h0M118.5 97.1h0M120.8 103.2h0M125.8 99.6h0M140.6 78.9h0M120.0 81.0h0M140.4 79.6h0M116.5 108.4h0M144.8 74.8h0M151.3 70.9h0M133.3 84.1h0M118.9 98.7h0M141.0 80.0h0M118.5 97.0h0M122.1 95.4h0M138.5 81.6h0M127.5 100.0h0M116.2 97.9h0M139.7 85.6h0M136.8 88.2h0M114.9 99.0h0M121.4 98.2h0M138.4 90.3h0M143.9 77.0h0M121.0 104.4h0M125.8 98.5h0M115.0 100.8h0M119.0 102.9h0M140.4 83.2h0M118.7 106.3h0M133.9 73.5h0M122.5 98.0h0M120.6 97.1h0M126.3 87.9h0M146.9 77.5h0M119.1 82.6h0M133.1 97.0h0M123.3 100.5h0M119.4 97.7h0M140.7 81.0h0M118.4 102.5h0M120.9 103.4h0M145.4 81.6h0M118.7 101.4h0M119.3 92.3h0M118.6 96.1h0M118.0 104.3h0M121.0 102.9h0M156.6 68.0h0M124.7 101.6h0M116.4 98.1h0M115.0 103.6h0M153.2 67.6h0M117.7 102.8h0M149.5 74.3h0M145.0 76.1h0M117.9 87.1h0M141.2 82.7h0M149.0 74.8h0M120.3 102.2h0M125.6 100.0h0M148.4 73.4h0M119.1 86.9h0M123.8 100.9h0M114.3 95.8h0M111.9 86.3h0M120.5 96.6h0M116.2 99.9h0M115.2 105.1h0M118.1 100.9h0M120.8 81.3h0M120.2 104.7h0M123.2 97.4h0M153.5 68.1h0M124.8 96.1h0M150.1 69.3h0M119.3 96.3h0M136.9 87.7h0M111.7 103.1h0M126.4 91.0h0M112.7 93.4h0M153.4 72.1h0M117.2 85.9h0M130.4 82.9h0M122.6 95.4h0M143.7 82.9h0M124.8 105.8h0M122.2 104.7h0M117.5 102.5h0M118.7 101.6h0M149.7 70.3h0M133.8 83.0h0M146.4 73.9h0M123.7 74.8h0M113.8 103.0h0M117.9 87.1h0M121.6 106.0h0M155.2 67.4h0M121.6 93.9h0M118.8 83.9h0M118.9 97.4h0M116.2 103.3h0M138.0 83.8h0M119.8 102.2h0M115.5 104.4h0M118.2 102.3h0M144.6 79.3h0M145.0 75.9h0M116.8 94.0h0M150.8 71.6h0M117.0 100.2h0M148.8 72.7h0M118.2 98.1h0M120.4 97.1h0M120.7 103.6h0M118.7 108.6h0M146.6 77.0h0M122.9 90.0h0M152.3 71.0h0M127.5 87.2h0M114.1 101.1h0M124.7 102.7h0M137.7 82.4h0M140.5 79.4h0M120.4 102.9h0M118.8 99.4h0M130.6 78.1h0M120.7 92.5h0M121.8 109.1h0M123.4 107.1h0M141.5 80.2h0M143.5 76.9h0M123.1 87.0h0M122.0 89.4h0M117.8 80.1h0M117.4 101.0h0M119.3 103.3h0M115.3 93.8h0M116.1 107.1h0M127.9 84.8h0M149.7 77.0h0M113.2 97.4h0M118.2 98.1h0M121.3 105.7h0M156.4 69.7h0M137.6 86.4h0M143.3 81.8h0M118.3 102.2h0M117.6 105.5h0M114.7 102.4h0M124.1 102.6h0M123.2 99.3h0M149.6 75.1h0M116.1 97.6h0M136.7 83.5h0M119.7 81.7h0M119.0 82.4h0M152.4 70.2h0M116.7 83.5h0M126.6 86.8h0M113.0 87.2h0M120.1 105.8h0M118.0 99.3h0M124.5 98.0h0M155.6 66.9h0M139.8 86.8h0M115.6 93.1h0M138.5 88.2h0M154.5 69.5h0M126.1 97.4h0M122.0 98.4h0M112.9 99.3h0M133.2 89.6h0M122.2 97.7h0M136.9 87.8h0M148.8 71.7h0M136.1 89.5h0M118.0 98.0h0M148.7 73.8h0M120.2 89.1h0M125.6 101.7h0M121.1 100.9h0M145.3 77.0h0M138.9 89.5h0M123.0 104.1h0M120.1 103.6h0M122.6 99.4h0M123.2 100.9h0M120.4 101.0h0M119.5 85.8h0M153.2 68.9h0M123.5 97.2h0M120.3 94.9h0M119.5 97.6h0M114.5 97.8h0M125.6 89.7h0M145.2 79.8h0M123.7 89.8h0M119.0 105.2h0M117.8 99.5h0M146.3 73.8h0M139.5 81.6h0M120.2 94.5h0M118.1 92.5h0M127.5 100.1h0M124.1 101.0h0M117.3 96.7h0M119.6 105.0h0M112.8 106.0h0M151.6 72.0h0M151.9 68.7h0M135.9 80.0h0M120.3 98.7h0M119.3 93.5h0M117.5 105.2h0M133.1 90.4h0M115.0 92.7h0M118.3 94.0h0M117.4 91.0h0M123.8 98.0h0M118.0 101.9h0M113.5 101.5h0M124.0 101.1h0M115.2 90.7h0M117.3 103.2h0M112.7 93.9h0M115.3 88.7h0M123.1 93.0h0M149.1 73.7h0M132.1 90.0h0M118.7 86.2h0M118.8 97.3h0M148.7 72.1h0M129.0 81.9h0M121.1 102.6h0M122.8 79.0h0M138.0 78.9h0M115.0 95.9h0M118.5 97.3h0M127.5 99.6h0M149.3 73.6h0M139.8 86.7h0M117.5 91.6h0M116.6 98.6h0M124.5 100.3h0M152.2 71.2h0M124.8 105.3h0M119.6 100.7h0M144.4 77.8h0M152.5 70.5h0M123.5 101.4h0M120.8 104.5h0M120.2 96.3h0M146.9 77.1h0M153.9 67.9h0M120.7 99.8h0M121.2 101.8h0M134.2 83.1h0M119.0 93.7h0M120.7 100.7h0M115.0 87.7h0M121.2 83.5h0M113.1 101.8h0M142.8 81.8h0M123.3 98.1h0M119.2 87.6h0M121.3 87.8h0M121.6 88.5h0M120.8 101.3h0M121.2 97.5h0M120.6 98.6h0M118.5 105.4h0M138.5 80.8h0M120.3 101.4h0M118.1 103.7h0M150.5 72.7h0M150.1 74.9h0M150.3 70.3h0M143.6 85.9h0M122.8 98.4h0M155.6 67.1h0M123.0 88.5h0M148.8 73.7h0M117.1 108.9h0M136.9 85.6h0M136.8 85.0h0M119.1 103.3h0M115.5 100.5h0M122.8 90.9h0M123.5 88.2h0M113.9 92.6h0M119.8 109.0h0M119.2 100.6h0M132.2 86.0h0M119.3 85.8h0M118.1 86.1h0M144.6 78.4h0M115.9 101.5h0M119.9 101.5h0M143.2 80.8h0M143.3 79.7h0M149.9 73.5h0M125.8 99.6h0M126.3 101.9h0M135.2 87.7h0M156.6 66.1h0M142.5 76.6h0M139.3 84.3h0M150.2 73.0h0M114.4 84.9h0M123.5 106.3h0M135.4 87.6h0M144.2 82.9h0M121.3 99.5h0M145.0 75.1h0M142.4 82.6h0M116.9 104.8h0M146.2 76.8h0M144.4 77.0h0M137.0 85.6h0M126.5 93.2h0M140.3 81.5h0M133.4 88.7h0M123.1 101.3h0M124.0 84.4h0M122.7 99.3h0M118.2 100.9h0M120.4 95.1h0M119.1 95.2h0M153.6 69.3h0M116.7 98.1h0M120.7 104.0h0M125.3 103.5h0M119.7 83.8h0M122.8 99.7h0M146.4 76.4h0M119.1 97.9h0M148.5 73.8h0M124.2 94.1h0M125.3 85.2h0M145.9 79.6h0M124.1 100.2h0M122.1 101.4h0M149.0 70.9h0M123.0 97.6h0M153.2 69.5h0M140.8 79.4h0M147.2 74.9h0M127.3 86.6h0M150.9 70.2h0M138.2 82.3h0M141.2 82.1h0M131.5 86.7h0M140.4 79.6h0M140.4 84.9h0M119.1 100.6h0M111.8 93.6h0M138.0 87.3h0M146.2 72.7h0M115.4 103.2h0M117.7 96.2h0M133.4 86.6h0M123.0 95.8h0M127.1 99.5h0M116.9 81.5h0M121.9 93.6h0M141.9 81.2h0M123.0 99.2h0M118.0 96.4h0M120.2 98.3h0M114.2 88.6h0M121.5 97.5h0M128.1 105.4h0M113.1 105.9h0M126.8 101.1h0M122.2 104.0h0M118.8 101.7h0M123.0 103.0h0M138.0 83.7h0M121.7 105.5h0M126.2 84.7h0M120.1 92.7h0M143.1 81.6h0M118.6 107.7h0M117.8 101.2h0M139.2 79.8h0M153.8 68.3h0M116.8 102.2h0M126.1 97.6h0M156.9 65.4h0M119.2 93.9h0M145.8 78.7h0M148.0 75.1h0M144.9 79.2h0M118.5 95.9h0M117.3 102.1h0M151.1 70.6h0M127.0 103.7h0M118.2 88.1h0M154.1 71.7h0M125.5 99.9h0M114.1 103.1h0M114.2 97.8h0M151.0 70.6h0M154.7 71.4h0M119.9 94.0h0M123.6 104.7h0M144.7 77.5h0M115.9 106.3h0M151.7 73.9h0M124.0 80.3h0M123.5 98.1h0M114.3 89.8h0M117.5 98.5h0M118.1 94.7h0M153.7 69.7h0M113.6 100.6h0M119.3 102.7h0M157.4 67.5h0M123.8 100.5h0M148.3 72.1h0M143.7 78.3h0M142.7 80.9h0M156.7 67.5h0M118.8 99.3h0M118.5 100.4h0M115.6 85.0h0M122.6 98.0h0M122.0 98.7h0M132.2 87.1h0M119.5 101.6h0M143.9 76.6h0M125.2 99.2h0M123.1 99.6h0M120.9 101.9h0M121.7 79.8h0M114.4 102.0h0M145.4 78.7h0M123.5 94.6h0M116.6 96.6h0M117.0 91.0h0M121.2 82.4h0M119.9 103.6h0M149.3 73.9h0M121.3 99.6h0M117.9 100.5h0M128.2 103.0h0M119.9 101.0h0M148.8 69.9h0M146.0 75.2h0M150.3 74.9h0M150.8 70.8h0M123.7 100.7h0M143.6 76.1h0M114.2 101.5h0M126.9 94.7h0M121.9 92.0h0M115.7 87.2h0M146.1 79.1h0M122.1 98.4h0M120.0 96.6h0M116.4 105.6h0M146.0 75.6h0M128.8 93.2h0M125.1 102.0h0M123.4 101.2h0M145.1 81.4h0M150.4 72.3h0M123.4 104.4h0M151.1 71.4h0M141.9 78.7h0M125.6 100.8h0M149.9 72.6h0M150.2 71.1h0M116.8 87.5h0M136.4 87.2h0M148.8 75.9h0M131.7 82.1h0M135.8 96.2h0M140.8 81.0h0M118.7 95.6h0M144.1 75.6h0M126.6 95.2h0M125.9 92.7h0M123.6 100.2h0M115.8 102.8h0M116.6 95.8h0M136.6 88.8h0M144.8 79.0h0M119.6 100.2h0" stroke="#000" stroke-opacity="0.45" stroke-width="1" stroke-linecap="square" fill="none"/>
<rect x="111.1" y="39.8" width="75.4" height="69.7" fill="none" stroke="#444" stroke-width="0.9"/>
<line x1="131.5" y1="39.8" x2="131.5" y2="109.5" stroke="#222" stroke-width="0.9"/>
<line x1="111.1" y1="94.8" x2="186.5" y2="94.8" stroke="#222" stroke-width="0.9"/>
<line x1="106.1" y1="92.1" x2="111.1" y2="92.1" stroke="#555" stroke-width="0.85"/>
<line x1="106.1" y1="74.7" x2="111.1" y2="74.7" stroke="#555" stroke-width="0.85"/>
<line x1="106.1" y1="57.2" x2="111.1" y2="57.2" stroke="#555" stroke-width="0.85"/>
<line x1="106.1" y1="39.8" x2="111.1" y2="39.8" stroke="#555" stroke-width="0.85"/>
<line x1="129.9" y1="109.5" x2="129.9" y2="115.0" stroke="#555" stroke-width="0.85"/>
<line x1="148.8" y1="109.5" x2="148.8" y2="115.0" stroke="#555" stroke-width="0.85"/>
<line x1="167.7" y1="109.5" x2="167.7" y2="115.0" stroke="#555" stroke-width="0.85"/>
<line x1="186.5" y1="109.5" x2="186.5" y2="115.0" stroke="#555" stroke-width="0.85"/>
<line x1="109.1" y1="104.3" x2="111.1" y2="104.3" stroke="#aaa" stroke-width="0.5"/>
<line x1="116.8" y1="109.5" x2="116.8" y2="111.5" stroke="#aaa" stroke-width="0.5"/>
<line x1="109.1" y1="101.2" x2="111.1" y2="101.2" stroke="#aaa" stroke-width="0.5"/>
<line x1="120.1" y1="109.5" x2="120.1" y2="111.5" stroke="#aaa" stroke-width="0.5"/>
<line x1="109.1" y1="99.0" x2="111.1" y2="99.0" stroke="#aaa" stroke-width="0.5"/>
<line x1="122.4" y1="109.5" x2="122.4" y2="111.5" stroke="#aaa" stroke-width="0.5"/>
<line x1="109.1" y1="97.3" x2="111.1" y2="97.3" stroke="#aaa" stroke-width="0.5"/>
<line x1="124.3" y1="109.5" x2="124.3" y2="111.5" stroke="#aaa" stroke-width="0.5"/>
<line x1="109.1" y1="95.9" x2="111.1" y2="95.9" stroke="#aaa" stroke-width="0.5"/>
<line x1="125.8" y1="109.5" x2="125.8" y2="111.5" stroke="#aaa" stroke-width="0.5"/>
<line x1="109.1" y1="94.8" x2="111.1" y2="94.8" stroke="#aaa" stroke-width="0.5"/>
<line x1="127.0" y1="109.5" x2="127.0" y2="111.5" stroke="#aaa" stroke-width="0.5"/>
<line x1="109.1" y1="93.8" x2="111.1" y2="93.8" stroke="#aaa" stroke-width="0.5"/>
<line x1="128.1" y1="109.5" x2="128.1" y2="111.5" stroke="#aaa" stroke-width="0.5"/>
<line x1="109.1" y1="92.9" x2="111.1" y2="92.9" stroke="#aaa" stroke-width="0.5"/>
<line x1="129.1" y1="109.5" x2="129.1" y2="111.5" stroke="#aaa" stroke-width="0.5"/>
<line x1="109.1" y1="86.8" x2="111.1" y2="86.8" stroke="#aaa" stroke-width="0.5"/>
<line x1="135.6" y1="109.5" x2="135.6" y2="111.5" stroke="#aaa" stroke-width="0.5"/>
<line x1="109.1" y1="83.8" x2="111.1" y2="83.8" stroke="#aaa" stroke-width="0.5"/>
<line x1="138.9" y1="109.5" x2="138.9" y2="111.5" stroke="#aaa" stroke-width="0.5"/>
<line x1="109.1" y1="81.6" x2="111.1" y2="81.6" stroke="#aaa" stroke-width="0.5"/>
<line x1="141.3" y1="109.5" x2="141.3" y2="111.5" stroke="#aaa" stroke-width="0.5"/>
<line x1="109.1" y1="79.9" x2="111.1" y2="79.9" stroke="#aaa" stroke-width="0.5"/>
<line x1="143.1" y1="109.5" x2="143.1" y2="111.5" stroke="#aaa" stroke-width="0.5"/>
<line x1="109.1" y1="78.5" x2="111.1" y2="78.5" stroke="#aaa" stroke-width="0.5"/>
<line x1="144.6" y1="109.5" x2="144.6" y2="111.5" stroke="#aaa" stroke-width="0.5"/>
<line x1="109.1" y1="77.3" x2="111.1" y2="77.3" stroke="#aaa" stroke-width="0.5"/>
<line x1="145.9" y1="109.5" x2="145.9" y2="111.5" stroke="#aaa" stroke-width="0.5"/>
<line x1="109.1" y1="76.3" x2="111.1" y2="76.3" stroke="#aaa" stroke-width="0.5"/>
<line x1="147.0" y1="109.5" x2="147.0" y2="111.5" stroke="#aaa" stroke-width="0.5"/>
<line x1="109.1" y1="75.4" x2="111.1" y2="75.4" stroke="#aaa" stroke-width="0.5"/>
<line x1="147.9" y1="109.5" x2="147.9" y2="111.5" stroke="#aaa" stroke-width="0.5"/>
<line x1="109.1" y1="69.4" x2="111.1" y2="69.4" stroke="#aaa" stroke-width="0.5"/>
<line x1="154.5" y1="109.5" x2="154.5" y2="111.5" stroke="#aaa" stroke-width="0.5"/>
<line x1="109.1" y1="66.3" x2="111.1" y2="66.3" stroke="#aaa" stroke-width="0.5"/>
<line x1="157.8" y1="109.5" x2="157.8" y2="111.5" stroke="#aaa" stroke-width="0.5"/>
<line x1="109.1" y1="64.2" x2="111.1" y2="64.2" stroke="#aaa" stroke-width="0.5"/>
<line x1="160.1" y1="109.5" x2="160.1" y2="111.5" stroke="#aaa" stroke-width="0.5"/>
<line x1="109.1" y1="62.5" x2="111.1" y2="62.5" stroke="#aaa" stroke-width="0.5"/>
<line x1="162.0" y1="109.5" x2="162.0" y2="111.5" stroke="#aaa" stroke-width="0.5"/>
<line x1="109.1" y1="61.1" x2="111.1" y2="61.1" stroke="#aaa" stroke-width="0.5"/>
<line x1="163.5" y1="109.5" x2="163.5" y2="111.5" stroke="#aaa" stroke-width="0.5"/>
<line x1="109.1" y1="59.9" x2="111.1" y2="59.9" stroke="#aaa" stroke-width="0.5"/>
<line x1="164.7" y1="109.5" x2="164.7" y2="111.5" stroke="#aaa" stroke-width="0.5"/>
<line x1="109.1" y1="58.9" x2="111.1" y2="58.9" stroke="#aaa" stroke-width="0.5"/>
<line x1="165.8" y1="109.5" x2="165.8" y2="111.5" stroke="#aaa" stroke-width="0.5"/>
<line x1="109.1" y1="58.0" x2="111.1" y2="58.0" stroke="#aaa" stroke-width="0.5"/>
<line x1="166.8" y1="109.5" x2="166.8" y2="111.5" stroke="#aaa" stroke-width="0.5"/>
<line x1="109.1" y1="52.0" x2="111.1" y2="52.0" stroke="#aaa" stroke-width="0.5"/>
<line x1="173.3" y1="109.5" x2="173.3" y2="111.5" stroke="#aaa" stroke-width="0.5"/>
<line x1="109.1" y1="48.9" x2="111.1" y2="48.9" stroke="#aaa" stroke-width="0.5"/>
<line x1="176.6" y1="109.5" x2="176.6" y2="111.5" stroke="#aaa" stroke-width="0.5"/>
<line x1="109.1" y1="46.7" x2="111.1" y2="46.7" stroke="#aaa" stroke-width="0.5"/>
<line x1="179.0" y1="109.5" x2="179.0" y2="111.5" stroke="#aaa" stroke-width="0.5"/>
<line x1="109.1" y1="45.0" x2="111.1" y2="45.0" stroke="#aaa" stroke-width="0.5"/>
<line x1="180.8" y1="109.5" x2="180.8" y2="111.5" stroke="#aaa" stroke-width="0.5"/>
<line x1="109.1" y1="43.7" x2="111.1" y2="43.7" stroke="#aaa" stroke-width="0.5"/>
<line x1="182.3" y1="109.5" x2="182.3" y2="111.5" stroke="#aaa" stroke-width="0.5"/>
<line x1="109.1" y1="42.5" x2="111.1" y2="42.5" stroke="#aaa" stroke-width="0.5"/>
<line x1="183.6" y1="109.5" x2="183.6" y2="111.5" stroke="#aaa" stroke-width="0.5"/>
<line x1="109.1" y1="41.5" x2="111.1" y2="41.5" stroke="#aaa" stroke-width="0.5"/>
<line x1="184.7" y1="109.5" x2="184.7" y2="111.5" stroke="#aaa" stroke-width="0.5"/>
<line x1="109.1" y1="40.6" x2="111.1" y2="40.6" stroke="#aaa" stroke-width="0.5"/>
<line x1="185.6" y1="109.5" x2="185.6" y2="111.5" stroke="#aaa" stroke-width="0.5"/>
<text x="120.05" y="49.5" font-size="10.2" text-anchor="middle">20</text>
<text x="177.3" y="49.8" font-size="10.2" text-anchor="middle">35</text>
<text x="182.45" y="107.5" font-size="10.2" text-anchor="middle">0</text>
<path d="M43.4 178.5h0M54.4 170.5h0M62.9 166.9h0M56.7 174.0h0M44.1 180.1h0M61.7 161.9h0M55.6 168.5h0M54.0 169.3h0M56.4 173.9h0M54.0 167.8h0M47.3 173.9h0M59.2 175.2h0M49.2 177.5h0M55.6 180.4h0M59.4 173.0h0M54.9 173.5h0M46.3 177.6h0M47.6 175.4h0M53.1 174.8h0M63.3 164.5h0M53.8 173.1h0M54.7 172.9h0M54.7 167.7h0M47.6 184.7h0M54.4 169.4h0M42.2 182.7h0M57.7 166.0h0M58.4 171.0h0M45.0 185.3h0M50.0 175.4h0M43.5 181.7h0M46.2 178.2h0M53.4 176.1h0M59.3 167.0h0M50.5 181.1h0M52.5 177.1h0M49.5 174.1h0M55.6 178.9h0M47.5 181.3h0M44.3 186.4h0M61.7 170.6h0M56.5 165.0h0M52.5 182.3h0M52.5 174.1h0M61.4 163.8h0M60.3 163.0h0M53.7 169.6h0M47.9 171.6h0M46.7 186.6h0M52.9 174.3h0M60.3 165.4h0M51.1 171.1h0M55.7 173.8h0M45.0 174.4h0M56.1 175.5h0M54.0 161.7h0M58.7 165.2h0M54.0 173.6h0M52.7 175.6h0M44.7 175.3h0M51.7 174.2h0M44.6 182.3h0M48.6 178.7h0M59.5 165.9h0M56.2 167.3h0M49.5 178.1h0M60.3 176.5h0M54.9 182.1h0M49.6 175.7h0M50.2 174.2h0M43.7 197.8h0M42.4 203.9h0M42.5 200.6h0M43.0 200.1h0M48.6 200.8h0M43.5 205.5h0M48.3 205.1h0M46.8 200.9h0M38.0 192.9h0M42.9 191.1h0M43.9 200.0h0M42.6 207.4h0M40.8 199.1h0M37.9 203.3h0M44.9 197.2h0M43.4 197.5h0M42.6 204.7h0M42.1 200.6h0M42.9 197.9h0M47.8 193.7h0M44.5 205.3h0M43.1 195.8h0M47.2 194.0h0M39.2 186.6h0M39.6 202.6h0M43.4 200.2h0M41.8 195.5h0M41.0 198.7h0M41.8 201.2h0M43.1 196.3h0M44.6 193.3h0M43.4 186.5h0M38.2 196.2h0M40.4 208.8h0M39.8 192.8h0M44.9 195.4h0M45.6 201.8h0M41.3 195.3h0M45.6 185.6h0M42.7 200.8h0M35.7 203.0h0M46.7 198.2h0M40.2 202.6h0M50.0 195.3h0M42.3 190.5h0M40.0 196.6h0M46.4 187.0h0M41.9 189.0h0M47.0 205.6h0M41.0 203.7h0M52.5 167.3h0M56.6 175.0h0M52.6 171.5h0M65.9 155.6h0M68.6 184.1h0M42.1 166.1h0M64.8 174.3h0M45.3 175.9h0M67.6 158.7h0M45.6 154.6h0M57.4 190.6h0M44.9 152.6h0M46.8 183.7h0M60.7 170.2h0M69.5 167.6h0M70.0 155.5h0M50.1 152.3h0M49.0 156.9h0M42.5 190.9h0M45.3 171.9h0" stroke="#000" stroke-opacity="0.3" stroke-width="1" stroke-linecap="square" fill="none"/>
<path d="M31.9 173.4h0M31.2 167.4h0M33.6 170.8h0M28.8 166.7h0M31.8 202.6h0M34.8 201.8h0M31.7 194.7h0M36.2 187.2h0M31.6 175.7h0M29.5 203.3h0M27.4 176.7h0M30.6 168.9h0M31.9 174.3h0M31.6 190.6h0M22.8 198.7h0M31.8 195.8h0M31.6 163.7h0M32.5 179.5h0M27.6 194.2h0M27.6 187.8h0M37.2 207.4h0M26.3 202.9h0M29.1 188.9h0M33.5 175.2h0M30.4 176.6h0M37.9 183.8h0M33.5 167.3h0M26.5 201.2h0M26.3 193.1h0M29.0 194.8h0M28.0 187.1h0M33.6 182.4h0M33.6 192.3h0M29.9 203.6h0M28.1 192.4h0M34.4 171.2h0M29.1 201.7h0M35.3 165.9h0M35.4 199.9h0M31.7 171.8h0M33.2 190.9h0M36.0 169.9h0M34.2 197.6h0M28.5 194.8h0M29.0 166.0h0M32.1 186.9h0M26.7 168.6h0M27.0 197.8h0M31.2 173.7h0M29.7 165.7h0M30.7 174.4h0M29.5 176.5h0M30.1 188.3h0M34.7 184.5h0M25.9 165.4h0M33.7 200.4h0M22.5 188.0h0M27.1 177.0h0M31.2 178.9h0M32.5 175.9h0M29.3 190.3h0M29.1 192.7h0M32.9 175.2h0M30.8 203.7h0M39.0 181.8h0M32.7 176.6h0M31.1 200.4h0M28.2 201.7h0M23.9 198.4h0M35.2 175.5h0M31.1 163.5h0M27.4 184.2h0M30.6 199.6h0M27.8 187.5h0M39.2 189.8h0M28.5 201.1h0M31.5 171.0h0M31.0 198.1h0M33.6 196.7h0M29.6 187.2h0M33.4 166.9h0M31.2 173.0h0M29.8 174.8h0M25.6 170.7h0M36.9 165.4h0M33.2 208.2h0M26.4 193.4h0M37.1 189.4h0M30.9 175.3h0M30.3 185.7h0M33.7 186.8h0M31.2 167.7h0M26.2 180.6h0M35.2 168.1h0M30.7 201.5h0M29.8 173.1h0M29.5 194.9h0M28.7 183.3h0M32.7 200.2h0M34.6 192.3h0M36.7 170.4h0M29.6 201.1h0M28.9 200.4h0M26.8 201.3h0M24.2 200.5h0M26.2 198.5h0M30.4 172.7h0M27.8 186.8h0M28.1 189.8h0M28.1 165.5h0M32.2 200.9h0M29.4 174.7h0M29.4 173.4h0M32.9 174.2h0M28.4 182.3h0M31.2 172.5h0M29.1 177.3h0M30.3 194.1h0M28.8 189.4h0M30.1 184.9h0M33.5 167.1h0M30.5 173.8h0M33.0 183.3h0M34.1 178.9h0M24.6 199.4h0M39.6 197.6h0M27.0 201.1h0M39.5 167.5h0M28.3 187.7h0M30.6 195.1h0M35.7 202.9h0M29.7 190.9h0M32.9 201.1h0M38.5 183.9h0M26.3 195.3h0M24.9 174.2h0M29.5 189.5h0M25.3 161.4h0M30.5 201.0h0M29.1 158.7h0M25.5 178.7h0M27.1 175.0h0M27.8 172.9h0M30.6 178.7h0M31.6 169.5h0M30.5 185.8h0M29.8 187.1h0M36.2 170.0h0M30.5 168.9h0M35.4 159.9h0M28.0 188.3h0M26.9 168.0h0M28.6 195.6h0M30.6 185.6h0M31.1 205.5h0M26.8 172.9h0M28.4 187.4h0M25.8 205.8h0M27.0 185.6h0M32.6 185.7h0M26.2 171.2h0M24.5 189.4h0M26.8 187.1h0M36.0 198.4h0M30.5 169.6h0M35.3 187.5h0M30.5 187.3h0M26.6 200.2h0M23.6 184.1h0M27.7 186.2h0M33.7 181.5h0M26.0 201.6h0M25.4 196.1h0M31.3 190.3h0M29.7 180.9h0M27.1 198.6h0M31.3 172.5h0M28.8 185.5h0M30.2 176.2h0M32.9 171.4h0M26.1 175.1h0M34.0 201.8h0M34.4 175.6h0M29.2 198.7h0M29.2 176.3h0M31.7 178.5h0M31.5 167.0h0M25.6 202.6h0M34.0 199.2h0M41.2 185.4h0M36.4 173.8h0M26.0 195.9h0M28.7 173.6h0M33.2 188.0h0M31.9 200.5h0M35.2 179.4h0M31.8 194.8h0M23.7 198.6h0M28.4 176.7h0M32.3 172.8h0M30.8 197.5h0M33.1 182.7h0M24.4 185.8h0M26.9 202.4h0M29.3 183.8h0M31.4 195.6h0M29.4 167.4h0M28.5 205.3h0M28.3 180.7h0M22.2 199.8h0M29.4 183.7h0M31.9 187.5h0M33.8 194.0h0M29.6 198.0h0M29.4 167.3h0M38.0 172.4h0M30.8 173.4h0M22.1 197.1h0M25.5 170.6h0M33.6 168.6h0M25.0 160.1h0M26.1 195.8h0M32.2 169.6h0M30.4 168.7h0M36.4 179.0h0M27.4 167.0h0M28.5 193.6h0M29.2 170.8h0M28.7 166.5h0M34.2 208.8h0M33.7 193.4h0M35.7 174.0h0M26.8 186.2h0M31.2 189.6h0M31.1 167.1h0M36.0 197.7h0M29.8 176.4h0M35.1 184.3h0M33.5 175.6h0M28.3 199.7h0M33.8 169.8h0M38.1 196.0h0M31.6 196.7h0M31.6 200.2h0M27.9 171.8h0M31.8 187.7h0M23.8 198.7h0M26.1 189.9h0M26.0 172.5h0M24.2 168.5h0M29.1 180.9h0M33.8 184.5h0M26.3 163.2h0M31.9 167.0h0M29.5 159.6h0M34.9 171.6h0M34.0 177.8h0M35.2 205.9h0M30.3 169.3h0M32.5 167.7h0M31.1 190.4h0M33.4 203.4h0M36.6 205.2h0M34.7 201.3h0M30.2 163.3h0M31.7 166.2h0M27.5 176.1h0M26.8 200.3h0M35.7 190.1h0M28.5 173.4h0M31.6 198.1h0M36.2 171.0h0M35.5 179.5h0M38.8 186.9h0M28.2 176.0h0M34.4 166.8h0M35.5 200.1h0M29.2 181.5h0M28.1 168.5h0M35.6 188.8h0M29.7 162.0h0M26.0 203.5h0M27.2 178.4h0M37.4 186.4h0M34.6 197.7h0M34.0 175.7h0M33.0 176.0h0M32.0 185.8h0M30.9 166.5h0M30.5 180.0h0M32.8 198.4h0M33.2 167.3h0M32.0 178.4h0M26.7 191.8h0M28.2 193.2h0M29.1 199.5h0M35.2 174.8h0M24.8 204.0h0M30.1 194.0h0M36.2 179.8h0M35.5 169.2h0M30.4 182.8h0M32.4 179.1h0M30.7 166.3h0M35.2 193.7h0M22.5 182.0h0M36.8 173.6h0M38.7 170.4h0M33.2 203.7h0M26.8 170.3h0M24.5 184.9h0M26.6 199.6h0M30.9 182.6h0M28.4 167.3h0M30.2 206.2h0M34.6 171.1h0M29.1 205.9h0M35.3 165.2h0M34.5 184.9h0M30.6 193.7h0M29.6 177.0h0M37.0 167.0h0M24.0 203.4h0M30.0 176.5h0M29.1 168.8h0M33.8 194.3h0M31.0 185.6h0M28.3 200.5h0M33.1 200.5h0M33.4 182.0h0M25.7 197.2h0M25.4 184.8h0M31.5 195.5h0M34.7 180.7h0M32.6 200.6h0M30.1 173.7h0M31.5 166.6h0M31.3 179.8h0M38.9 183.2h0M29.2 175.7h0M27.0 201.1h0M35.2 169.6h0M29.6 178.3h0M34.6 203.6h0M27.6 170.7h0M33.3 174.8h0M29.5 203.1h0M36.7 199.1h0M31.8 191.9h0M27.9 205.1h0M29.0 177.1h0M32.0 200.5h0M28.5 173.2h0M30.7 198.8h0M24.7 186.7h0M27.4 173.1h0M31.0 175.8h0M36.1 176.2h0M33.9 175.1h0M34.4 198.4h0M30.3 204.1h0M31.1 200.9h0M35.9 207.6h0M26.7 165.1h0M33.8 192.7h0M40.3 192.4h0M33.5 176.3h0M31.1 196.4h0M30.7 208.8h0M32.7 196.3h0M35.0 177.6h0M32.4 177.1h0M28.0 167.9h0M30.3 195.5h0M24.1 164.5h0M29.2 197.2h0M38.2 170.7h0M25.5 182.9h0M28.0 184.8h0M35.9 191.1h0M34.6 200.0h0M34.7 202.7h0M32.5 198.2h0M34.0 187.7h0M35.2 194.8h0M28.5 175.5h0M29.0 200.8h0M28.4 173.1h0M32.6 206.6h0M28.7 170.6h0M26.2 196.8h0M39.8 175.5h0M26.7 168.3h0M34.4 200.3h0M24.8 181.4h0M32.0 173.5h0M32.7 173.2h0M28.0 197.5h0M28.8 169.2h0M30.7 177.9h0M34.7 197.3h0M29.1 175.9h0M29.7 186.0h0M37.2 189.9h0M33.4 168.8h0M25.5 199.2h0M29.8 188.4h0M32.8 175.4h0M35.8 181.9h0M33.0 206.6h0M35.2 178.4h0M32.6 169.3h0M26.4 198.3h0M32.1 183.5h0M30.6 188.7h0M32.4 197.6h0M27.6 188.0h0M30.7 168.9h0M30.5 180.3h0M32.1 177.9h0M32.6 177.7h0M24.5 201.5h0M29.5 163.0h0M31.3 196.7h0M36.0 189.4h0M39.2 169.5h0M23.9 182.2h0M27.3 205.1h0M28.9 191.2h0M33.3 170.8h0M32.8 180.2h0M34.6 176.0h0M41.7 197.8h0M31.2 185.0h0M33.5 176.1h0M29.3 207.3h0M36.1 163.9h0M32.5 188.4h0M30.3 195.5h0M24.8 183.5h0M36.4 199.2h0M35.9 183.8h0M29.2 191.9h0M32.0 193.0h0M30.7 198.1h0M33.2 195.4h0M38.2 195.2h0M32.9 167.2h0M36.9 177.3h0M29.1 177.5h0M32.6 157.3h0M32.5 186.2h0M26.6 171.1h0M30.2 180.0h0M29.3 199.4h0M30.2 192.5h0M29.5 178.2h0M31.1 178.4h0M27.6 162.3h0M27.5 170.7h0M28.8 204.2h0M31.5 204.5h0M31.0 204.3h0M33.8 182.3h0M26.6 195.2h0M31.0 165.8h0M27.6 184.6h0M29.9 198.7h0M35.5 199.6h0M28.0 179.6h0M33.4 167.7h0M32.8 200.9h0M29.2 174.7h0M33.8 198.8h0M29.9 203.2h0M29.5 204.4h0M30.6 199.0h0M31.0 158.3h0M25.8 167.9h0M33.8 177.1h0M28.2 161.8h0M31.0 185.4h0M27.9 177.6h0M28.2 199.7h0M26.6 199.6h0M31.6 161.2h0M32.2 185.5h0M32.3 193.7h0M26.4 170.9h0M35.2 164.0h0M31.8 189.4h0M34.2 170.8h0M31.0 184.0h0M30.7 166.6h0M31.5 175.0h0M28.5 176.5h0M24.0 201.8h0M33.5 172.3h0M27.0 197.7h0M36.1 191.1h0M29.4 166.2h0M24.8 166.4h0M23.4 172.7h0M35.6 167.4h0M31.4 208.3h0M26.9 184.5h0M30.1 197.1h0M26.8 178.4h0M26.1 180.0h0M34.5 204.1h0M35.9 195.6h0M33.4 172.9h0M32.6 172.6h0M31.7 164.7h0M23.0 169.6h0M27.9 180.2h0M31.4 154.6h0M27.6 203.7h0M28.6 202.6h0M32.7 175.5h0M29.4 163.2h0M33.1 178.6h0M30.8 163.8h0M36.0 174.1h0M30.6 158.1h0M29.9 183.2h0" stroke="#000" stroke-opacity="0.45" stroke-width="1" stroke-linecap="square" fill="none"/>
<path d="M28.6 169.2h0M25.5 179.7h0M30.8 198.5h0M24.9 207.4h0M31.6 206.1h0M35.5 170.7h0M32.5 171.4h0M35.9 179.7h0M30.5 186.7h0M26.7 186.2h0M25.5 206.2h0M30.4 200.7h0M31.1 173.2h0M25.7 201.0h0M30.6 171.4h0M27.2 195.1h0M38.9 165.9h0M31.8 178.6h0M25.5 195.8h0M33.7 199.2h0M27.5 176.0h0M27.4 171.7h0M29.9 204.7h0M26.6 197.5h0M28.0 176.2h0M35.1 198.1h0M34.2 188.1h0M26.0 171.5h0M29.9 183.3h0M29.7 184.4h0M33.1 179.3h0M33.4 167.4h0M30.5 190.1h0M26.9 169.7h0M32.1 198.2h0M31.1 189.0h0M27.4 192.2h0M33.9 188.9h0M26.2 167.9h0M27.1 181.6h0M30.9 202.7h0M24.5 169.4h0M30.0 205.0h0M31.7 171.4h0M35.8 174.3h0M24.0 165.6h0M37.1 198.7h0M28.6 201.5h0M38.7 201.1h0M34.8 175.3h0M29.7 164.3h0M27.6 167.2h0M29.1 184.7h0M28.2 174.3h0M30.6 183.3h0M29.1 197.8h0M34.8 207.6h0M35.6 171.1h0M31.3 190.2h0M34.4 170.6h0M28.1 177.4h0M27.7 201.3h0M31.4 205.9h0M26.6 184.4h0M31.8 196.8h0M26.7 191.8h0M30.6 190.7h0M28.3 191.4h0M35.4 172.4h0M29.2 170.7h0M30.8 192.1h0M28.6 174.5h0M28.9 202.3h0M31.8 197.1h0M36.5 168.6h0M32.5 198.3h0M31.2 198.0h0M27.7 171.8h0M34.5 198.5h0M27.4 168.6h0M28.3 203.4h0M29.3 201.3h0M26.4 175.2h0M28.7 179.1h0M34.8 163.8h0M23.6 193.5h0M27.8 197.0h0M31.0 175.1h0M33.2 168.6h0M35.0 185.3h0M29.7 194.7h0M27.4 169.6h0M33.5 181.7h0M25.8 187.6h0M30.3 165.8h0M33.3 207.1h0M30.0 175.7h0M26.6 207.3h0M33.3 184.4h0M25.8 201.9h0M32.8 175.0h0M30.8 173.0h0M29.8 193.7h0M34.7 178.9h0M27.4 174.3h0M27.9 168.1h0M36.4 171.5h0M31.1 166.7h0M29.3 195.3h0M28.8 199.9h0M27.8 184.7h0M26.5 183.2h0M31.8 180.3h0M29.2 169.3h0M32.7 197.7h0M35.4 174.9h0M30.1 203.8h0M27.9 199.0h0M36.6 203.3h0M31.2 203.4h0M35.8 167.0h0M31.6 182.0h0M26.6 165.8h0M29.3 189.4h0M31.8 168.6h0M36.1 170.5h0M31.0 197.8h0M33.9 200.4h0M22.9 189.6h0M36.9 169.3h0M31.7 165.6h0M23.2 195.7h0M30.9 178.7h0M29.9 187.6h0M29.3 174.3h0M41.4 170.6h0M33.9 193.7h0M36.4 196.4h0M32.9 176.5h0M32.5 173.2h0M27.1 199.7h0M28.0 169.7h0M32.5 178.2h0M31.1 203.1h0M35.6 179.5h0M37.2 178.9h0M30.1 174.3h0M29.9 181.8h0M30.5 197.8h0M37.9 201.0h0M30.1 193.4h0M24.7 166.6h0M36.5 200.2h0M30.7 173.3h0M32.1 175.3h0M25.9 196.9h0M31.8 200.9h0M36.7 177.1h0M31.1 201.8h0M33.5 166.2h0M27.8 187.9h0M29.2 166.7h0M29.8 180.0h0M36.8 190.8h0M30.3 188.6h0M30.6 168.6h0M34.9 188.0h0M25.3 188.7h0M25.6 177.5h0M28.5 197.5h0M27.9 168.5h0M35.1 172.8h0M29.7 179.7h0M36.6 186.8h0M24.6 178.1h0M31.9 199.0h0M30.5 199.0h0M36.3 200.6h0M28.8 164.6h0M29.4 172.9h0M30.3 173.1h0M22.0 169.9h0M31.4 179.0h0M24.5 192.8h0M31.1 165.9h0M36.2 174.2h0M30.1 164.3h0M31.8 207.1h0M27.8 178.6h0M35.8 200.0h0M38.0 181.6h0M30.3 177.6h0M27.0 176.4h0M28.0 179.0h0M29.3 198.8h0M30.3 191.8h0M24.9 193.3h0M33.7 184.6h0M26.3 182.9h0M29.2 169.5h0M24.7 179.9h0M29.5 202.6h0M28.0 173.0h0M30.0 172.1h0M27.6 163.3h0M25.1 195.3h0M33.0 169.0h0M25.1 199.5h0M25.9 168.1h0M37.1 195.8h0M29.9 186.9h0M27.9 196.6h0M37.4 171.6h0M32.3 199.6h0M27.0 197.6h0M34.1 177.0h0M28.4 200.4h0M34.9 194.1h0M32.1 176.1h0M24.5 169.8h0M23.3 199.0h0M31.0 180.7h0M29.3 170.5h0M27.8 205.5h0M34.7 193.8h0M27.5 173.2h0M28.8 174.6h0M33.1 159.4h0M38.3 201.1h0M33.2 187.9h0M32.5 172.6h0M32.2 162.9h0M29.5 171.3h0M29.3 179.4h0M34.6 205.5h0M34.9 178.8h0M30.3 198.8h0M27.9 202.5h0M30.6 178.6h0M26.5 198.5h0M31.1 199.2h0M29.3 163.6h0M32.9 183.3h0M27.0 193.6h0M35.9 186.7h0M27.1 172.8h0M36.3 179.5h0M30.3 186.9h0M29.5 178.5h0M40.2 184.1h0M29.5 185.4h0M30.4 200.9h0M28.8 174.3h0M31.7 195.3h0M27.5 184.3h0M31.7 187.7h0M31.7 183.4h0M34.7 184.1h0M35.9 177.0h0M32.9 167.9h0M28.4 188.7h0M30.5 197.2h0M33.5 174.6h0M33.4 175.7h0M30.6 177.7h0M33.7 180.3h0M35.2 196.3h0M28.6 203.3h0M28.1 182.9h0M31.7 176.0h0M31.6 171.2h0M28.2 179.8h0M27.9 189.6h0M26.1 205.7h0M31.3 171.3h0M31.4 183.0h0M30.5 180.6h0M27.5 205.7h0M33.4 198.2h0M29.6 184.9h0M29.2 178.8h0M28.8 202.9h0M28.1 203.5h0M31.0 187.1h0M33.6 180.7h0M34.6 167.8h0M41.8 175.0h0M31.5 174.4h0M35.5 199.4h0M24.3 188.7h0M34.7 168.5h0M28.8 165.5h0M33.5 204.3h0M28.9 177.4h0M32.7 198.4h0M28.0 175.5h0M31.9 200.5h0M28.1 185.7h0M34.2 176.9h0M33.4 169.4h0M34.1 168.4h0M30.1 166.4h0M34.2 186.2h0M31.3 192.1h0M31.5 204.6h0M27.2 167.5h0M29.8 197.1h0M38.4 176.1h0M27.7 184.9h0M28.0 173.9h0M25.4 189.6h0M33.9 173.5h0M26.8 188.7h0M23.5 197.3h0M30.4 176.4h0M32.4 191.3h0M34.1 195.6h0M31.7 194.6h0M32.5 192.9h0M26.7 202.1h0M25.7 203.7h0M31.5 197.1h0M27.8 173.7h0M31.5 170.4h0M32.8 202.3h0M34.1 205.5h0M29.0 191.4h0M32.5 200.9h0M32.2 179.1h0M35.9 162.5h0M24.1 175.5h0M30.9 197.4h0M34.1 196.3h0M34.6 208.7h0M31.2 179.3h0M31.5 179.1h0M33.8 203.4h0M28.6 190.9h0M32.6 161.0h0M30.2 190.4h0M31.4 197.9h0M32.7 174.4h0M32.2 193.3h0M28.1 193.1h0M26.6 203.3h0M28.7 170.1h0M28.1 170.0h0M26.1 202.1h0M30.9 172.8h0M30.8 206.7h0M27.0 205.7h0M27.8 188.8h0M29.4 185.8h0M37.3 174.3h0M26.8 178.5h0M34.4 205.2h0M24.6 202.2h0M33.8 175.3h0M28.0 168.6h0M30.8 200.1h0M31.0 176.2h0M25.6 200.6h0M29.1 170.4h0M34.3 180.2h0M34.3 196.2h0M35.0 174.9h0M32.6 173.5h0M30.8 183.5h0M22.0 205.5h0M23.9 178.6h0M28.7 192.9h0M24.2 203.1h0M30.6 191.3h0M30.6 171.9h0M31.8 169.6h0M36.6 186.5h0M29.5 180.2h0M34.1 168.9h0M23.9 204.6h0M29.6 163.1h0M33.3 186.8h0M29.5 185.1h0M25.5 186.8h0M30.2 167.5h0M36.3 174.8h0M24.5 191.4h0M25.8 168.0h0M31.6 181.8h0M25.9 199.9h0M28.8 179.1h0M27.5 193.3h0M27.0 191.9h0M30.7 170.0h0M26.4 197.8h0M26.5 142.9h0M27.5 190.1h0M33.2 174.7h0M29.7 206.8h0M37.9 169.7h0M28.8 175.1h0M28.2 191.4h0M25.9 183.1h0M35.6 161.5h0M34.0 180.8h0M29.8 180.5h0M33.5 186.0h0M28.7 171.4h0M30.0 175.8h0M30.1 203.8h0M30.0 197.7h0M30.8 192.6h0M34.4 200.6h0M33.2 186.2h0M28.5 193.8h0M26.0 165.2h0M36.1 193.6h0M35.4 203.8h0M33.8 178.0h0M23.7 189.0h0M28.7 182.3h0M29.8 177.1h0M32.8 172.7h0M34.0 171.0h0M34.2 185.5h0M33.2 169.3h0M34.9 182.9h0M28.2 181.9h0M29.4 173.0h0M33.4 201.1h0M28.0 198.5h0M36.9 186.4h0M26.3 173.0h0M30.3 159.5h0M31.4 174.7h0M34.2 167.8h0M39.8 167.7h0M35.2 182.5h0M26.2 204.6h0M34.8 167.3h0M28.2 193.1h0M32.3 207.8h0M28.0 196.6h0M26.0 198.4h0M31.7 200.3h0M29.1 171.4h0M31.6 177.6h0M31.1 200.8h0M29.0 188.8h0M25.8 177.1h0M32.8 184.8h0M34.4 170.5h0M35.0 145.9h0M32.9 204.4h0M36.0 202.5h0M34.4 162.2h0M38.1 166.9h0M29.2 204.6h0M27.3 196.1h0M33.5 208.0h0M26.2 193.5h0M27.9 171.0h0M31.8 197.7h0M25.6 174.5h0M28.0 196.4h0M26.2 174.1h0M33.4 184.4h0M32.3 177.9h0M22.5 176.6h0M24.5 172.0h0M30.5 192.7h0M28.1 189.2h0M26.1 176.9h0M26.5 166.9h0M29.9 168.2h0M31.0 190.0h0M31.3 206.3h0M32.3 177.1h0M31.3 168.5h0M32.7 171.4h0M29.9 169.9h0M28.5 178.4h0M36.5 175.1h0M27.7 195.0h0M32.7 172.5h0M23.0 182.1h0M32.4 179.8h0M33.6 175.2h0M27.4 167.1h0M30.5 186.1h0M32.7 197.6h0M35.0 185.5h0M23.4 182.7h0M31.9 174.1h0M25.5 175.1h0M26.7 167.8h0M31.8 174.6h0M40.8 182.0h0M32.0 161.9h0M33.6 187.9h0M23.1 166.1h0M31.7 175.6h0M36.1 189.2h0M32.5 185.1h0M28.9 173.9h0M32.6 189.9h0M31.5 177.6h0M30.1 168.6h0M36.4 167.1h0M33.9 201.7h0M24.5 178.5h0M27.3 180.8h0M30.9 181.4h0M31.0 163.1h0M33.6 186.1h0M22.7 192.0h0M27.7 175.4h0M24.2 205.0h0M32.5 184.5h0M29.4 194.5h0M26.4 191.2h0M28.5 162.4h0M23.6 172.4h0M23.6 195.1h0M30.7 177.2h0M30.9 165.8h0M32.7 156.6h0M38.0 175.4h0M29.3 183.7h0M31.6 191.4h0M25.6 188.4h0M25.2 175.4h0M28.5 166.7h0M31.1 187.3h0M26.9 198.4h0M32.4 164.0h0" stroke="#000" stroke-opacity="0.45" stroke-width="1" stroke-linecap="square" fill="none"/>
<path d="M35.2 192.6h0M37.0 168.8h0M28.6 196.9h0M24.5 184.4h0M28.6 192.9h0M31.4 203.3h0M27.9 188.3h0M30.8 188.5h0M36.0 202.2h0M28.2 171.2h0M26.5 194.1h0M25.6 188.1h0M30.8 187.6h0M33.7 164.9h0M28.9 175.5h0M31.2 171.7h0M31.0 202.5h0M26.5 200.9h0M30.6 185.8h0M32.3 203.9h0M40.2 154.4h0M32.7 180.7h0M25.7 163.7h0M35.1 191.2h0M29.9 184.4h0M36.1 199.7h0M34.8 199.5h0M29.0 184.4h0M36.0 184.8h0M27.9 182.2h0M25.3 192.1h0M29.8 177.1h0M25.3 178.7h0M29.1 177.8h0M34.2 172.8h0M35.8 203.6h0M38.6 182.5h0M35.0 170.2h0M31.8 171.8h0M32.7 172.8h0M31.4 165.6h0M30.2 170.0h0M30.4 175.5h0M27.1 199.9h0M30.7 172.7h0M27.1 201.5h0M32.8 195.0h0M30.7 200.3h0M34.5 171.4h0M39.9 168.4h0M26.3 199.5h0M28.9 192.2h0M28.0 202.0h0M25.1 193.8h0M26.1 178.1h0M29.8 177.0h0M27.4 177.5h0M22.8 172.4h0M29.5 167.0h0M31.9 177.5h0M29.9 181.9h0M36.6 173.6h0M39.4 186.5h0M36.3 174.0h0M32.9 183.9h0M28.5 200.6h0M30.1 185.2h0M28.0 189.7h0M29.4 158.3h0M29.0 178.1h0M28.5 195.0h0M30.6 197.9h0M31.7 173.1h0M24.7 179.4h0M34.8 159.0h0M27.8 168.0h0M24.7 181.5h0M33.0 204.2h0M35.7 164.9h0M27.6 178.7h0M26.8 173.8h0M31.7 173.9h0M24.6 184.9h0M37.9 168.1h0M26.3 186.1h0M30.4 176.1h0M33.7 167.7h0M33.2 176.3h0M30.3 170.8h0M28.5 166.9h0M26.4 175.2h0M24.6 190.2h0M24.1 195.5h0M33.0 207.3h0M34.3 182.6h0M27.9 197.0h0M31.6 197.8h0M31.9 201.3h0M33.9 190.5h0M30.6 184.3h0M25.5 187.0h0M24.8 168.8h0M27.7 174.1h0M30.4 195.1h0M32.1 172.8h0M28.4 200.5h0M30.7 200.4h0M34.8 193.2h0M31.8 182.5h0M32.7 183.1h0M31.5 168.4h0M27.5 177.6h0M39.2 183.6h0M25.3 155.4h0M26.0 179.7h0M29.9 182.9h0M30.9 196.4h0M35.4 174.5h0M32.7 197.4h0M24.7 200.0h0M24.4 198.9h0M30.3 175.1h0M33.3 178.5h0M28.5 166.8h0M30.1 184.7h0M32.5 194.4h0M31.6 169.0h0M24.8 172.9h0M31.4 187.5h0M36.9 195.6h0M32.5 179.5h0M33.6 174.8h0M32.1 168.2h0M35.0 204.5h0M33.6 202.2h0M26.5 198.4h0M37.3 204.1h0M30.5 173.0h0M26.7 177.0h0M29.9 194.3h0M30.8 162.5h0M30.3 196.2h0M27.0 184.9h0M29.7 204.8h0M38.6 196.0h0M28.5 183.1h0M25.9 181.0h0M33.2 191.6h0M37.0 183.7h0M25.4 168.6h0M41.7 187.1h0M32.9 203.0h0M31.8 176.5h0M27.5 200.1h0M30.0 204.5h0M37.6 186.3h0M34.8 172.1h0M31.3 167.9h0M32.1 193.8h0M30.1 169.9h0M37.7 169.4h0M30.0 171.2h0M24.1 199.0h0M31.3 199.2h0M25.2 174.8h0M30.9 186.5h0M29.7 174.1h0M30.6 161.9h0M34.0 192.7h0M32.6 180.6h0M30.3 202.9h0M26.5 194.6h0M27.6 187.0h0M26.1 186.6h0M26.2 205.9h0M28.0 171.6h0M32.0 179.3h0M25.0 196.9h0M27.5 196.8h0M30.0 193.7h0M28.2 173.5h0M30.5 171.7h0M34.4 206.6h0M27.5 171.2h0M30.0 179.2h0M28.0 200.6h0M31.2 181.8h0M31.1 175.4h0M27.3 166.8h0M30.1 194.3h0M34.5 181.9h0M28.6 199.9h0M34.2 187.4h0M26.9 174.3h0M31.9 192.6h0M31.2 197.8h0M36.6 169.5h0M32.4 166.0h0M27.1 199.0h0M31.4 196.1h0M34.8 169.1h0M27.0 207.4h0M32.7 176.9h0M29.7 174.4h0M29.2 199.8h0M27.3 179.7h0M26.6 206.7h0M33.5 188.4h0M33.5 195.4h0M30.6 185.5h0M41.3 178.5h0M31.1 197.4h0M32.4 175.1h0M33.1 177.3h0M25.6 186.4h0M26.2 199.4h0M28.2 186.9h0M26.5 180.0h0M32.0 178.9h0M25.2 184.5h0M32.5 168.9h0M25.8 179.6h0M31.3 189.5h0M27.7 192.1h0M30.7 182.2h0M26.3 179.7h0M28.3 190.3h0M28.9 171.8h0M36.6 204.2h0M29.5 174.4h0M28.8 168.2h0M29.7 191.4h0M29.9 170.9h0M29.9 189.0h0M27.0 177.1h0M33.8 204.3h0M30.6 177.6h0M31.5 187.2h0M31.1 172.4h0M31.4 170.3h0M32.1 201.4h0M25.8 179.2h0M27.8 187.7h0M33.2 167.6h0M30.9 164.6h0M30.7 172.1h0M32.2 171.1h0M33.9 180.5h0M32.9 174.7h0M28.9 174.7h0M29.5 195.5h0M34.1 177.6h0M31.2 184.7h0M29.6 203.0h0M35.2 199.2h0M25.5 189.7h0M27.5 208.1h0M29.2 187.2h0M30.8 198.7h0M28.1 188.4h0M36.4 192.5h0M32.2 163.6h0M34.6 190.7h0M29.9 197.5h0M27.1 184.6h0M29.9 170.4h0M27.4 207.2h0M32.1 162.8h0M28.0 176.3h0M32.5 187.2h0M25.5 205.6h0M26.9 174.4h0M35.7 177.0h0M24.6 208.9h0M29.2 195.6h0M32.3 181.9h0M35.5 158.1h0M23.0 207.2h0M29.5 182.4h0M22.3 168.7h0M31.4 168.0h0M37.8 175.1h0M28.7 202.9h0M28.5 185.7h0M28.5 167.9h0M32.1 190.9h0M30.2 169.7h0M28.5 172.5h0M35.8 176.7h0M35.4 196.6h0M27.8 183.3h0M29.1 199.1h0M23.8 198.2h0M26.6 188.5h0M31.4 170.1h0M34.2 171.5h0M25.3 188.1h0M29.4 192.9h0M26.9 171.9h0M29.4 203.5h0M30.6 204.3h0M28.7 172.0h0M25.3 205.9h0M33.1 177.8h0M29.1 195.2h0M31.5 192.4h0M29.3 197.1h0M29.4 196.2h0M38.2 194.8h0M31.8 192.5h0M33.8 166.2h0M32.1 178.7h0M30.2 166.7h0M32.3 190.1h0M31.5 182.5h0M31.2 190.0h0M30.6 171.5h0M34.9 201.2h0M34.3 202.5h0M31.1 169.5h0M32.8 199.5h0M29.3 179.8h0M24.7 204.3h0M31.3 182.1h0M28.9 206.5h0M34.1 175.8h0M27.6 175.5h0M32.0 196.7h0M28.6 197.3h0M24.1 177.9h0M27.7 178.5h0M32.8 162.0h0M29.4 203.2h0M31.1 203.2h0M33.6 165.5h0M34.3 166.7h0M29.2 166.7h0M22.9 202.3h0M30.1 161.5h0M32.4 163.4h0M30.7 197.3h0M35.9 191.5h0M33.2 190.7h0M34.6 169.1h0M27.9 187.3h0M27.7 177.6h0M28.5 173.8h0M28.9 176.1h0M28.6 170.6h0M31.6 175.5h0M26.8 184.9h0M30.7 179.0h0M36.3 205.5h0M24.8 170.6h0M26.4 167.7h0M35.8 192.2h0M31.2 174.7h0M32.8 176.4h0M29.5 175.7h0M30.7 182.1h0M27.4 161.9h0M32.9 173.8h0M28.5 204.8h0M32.4 203.9h0M32.5 199.8h0M32.9 182.2h0M33.8 179.3h0M35.4 190.5h0M29.4 186.9h0M31.6 204.0h0M30.8 185.3h0M33.0 186.4h0M28.7 178.5h0M31.1 197.7h0M31.1 161.6h0M26.4 176.6h0M29.2 170.6h0M27.6 168.7h0M28.8 195.8h0M28.4 195.5h0M30.3 199.6h0M34.5 168.2h0M30.7 167.6h0M34.1 198.9h0M30.9 179.5h0M27.3 169.5h0M28.4 190.2h0M31.5 176.3h0M34.1 184.2h0M24.6 199.0h0M35.1 167.3h0M32.4 208.3h0M31.2 180.2h0M32.8 176.8h0M28.7 206.9h0M28.3 198.2h0M21.9 190.3h0M32.7 179.5h0M28.7 178.2h0M30.9 171.9h0M32.3 174.6h0M31.7 177.6h0M32.2 182.2h0M35.8 183.3h0M33.5 180.6h0M24.1 167.2h0M29.1 205.9h0M26.6 161.6h0M28.9 196.9h0M30.0 198.3h0M34.7 206.9h0M27.1 167.1h0M36.5 174.4h0M36.8 170.9h0M31.7 201.0h0M31.0 193.4h0M32.9 173.0h0M37.8 188.9h0M26.6 208.8h0M26.0 192.5h0M37.0 172.8h0M28.3 178.3h0M30.3 189.7h0M31.1 176.2h0M30.0 162.6h0M25.0 184.8h0M35.9 176.5h0M27.3 192.7h0M33.7 193.7h0M37.0 199.5h0M32.2 203.2h0M29.9 162.5h0M29.1 174.5h0M34.4 188.9h0M30.8 184.3h0M35.5 185.2h0M32.2 181.8h0M28.2 196.7h0M22.8 197.2h0M30.1 198.8h0M26.5 187.0h0M31.1 202.6h0M31.6 203.7h0M24.8 169.7h0M28.1 188.5h0M35.8 187.1h0M29.2 194.5h0M26.7 169.9h0M33.2 176.4h0M30.4 208.3h0M25.1 194.7h0M27.2 200.5h0M32.8 208.3h0M29.3 176.9h0M23.1 190.0h0M29.6 166.8h0M33.9 173.0h0M29.9 181.3h0M33.5 207.1h0M37.3 186.4h0M25.4 193.4h0M26.1 168.2h0M29.5 173.2h0M40.4 186.9h0M33.7 177.3h0M35.3 165.7h0M33.4 197.4h0M26.8 197.7h0M29.3 200.5h0M28.3 196.1h0M29.8 173.3h0M31.9 192.8h0M30.4 186.7h0M27.3 206.5h0M24.7 176.7h0M31.9 167.4h0M34.5 192.6h0M32.8 201.3h0M34.0 198.0h0M28.8 192.6h0M27.0 183.2h0M27.3 193.0h0M35.1 181.3h0M30.7 207.2h0M30.6 167.7h0M27.3 176.0h0M38.1 195.7h0M28.5 166.0h0M29.3 177.0h0M26.9 169.5h0M29.5 165.4h0M33.5 201.9h0M25.0 181.5h0M29.8 179.6h0M26.9 186.1h0M28.7 190.7h0M23.2 185.7h0M27.3 173.7h0M29.5 192.0h0M29.8 206.1h0M25.1 196.1h0M39.7 202.7h0M30.2 200.6h0M28.3 168.7h0M32.9 164.5h0M32.2 201.3h0M33.4 198.8h0M27.2 165.0h0M32.4 175.8h0M26.2 171.4h0M30.9 173.7h0M39.4 174.6h0M36.2 168.0h0M27.6 197.1h0M25.6 207.8h0M31.2 173.7h0M28.0 200.5h0M34.4 188.7h0M30.9 166.4h0M29.2 204.3h0M34.1 178.5h0M29.0 167.7h0M33.3 204.6h0M28.0 176.4h0M32.4 196.1h0M30.9 191.5h0M26.9 174.4h0M31.5 198.2h0M32.7 171.6h0M29.5 184.9h0M31.1 196.6h0M23.9 197.8h0" stroke="#000" stroke-opacity="0.45" stroke-width="1" stroke-linecap="square" fill="none"/>
<path d="M34.0 197.4h0M35.2 179.7h0M31.2 178.4h0M25.9 195.3h0M34.1 170.7h0M30.7 174.0h0M35.2 177.8h0M22.5 197.2h0M36.7 198.0h0M31.4 162.0h0M26.4 170.7h0M26.1 175.2h0M34.6 191.7h0M31.0 204.2h0M23.8 186.2h0M25.0 178.7h0M21.9 183.3h0M31.5 186.0h0M29.4 181.4h0M32.5 170.4h0M29.2 195.3h0M34.7 180.4h0M34.0 195.0h0M32.7 188.3h0M32.3 202.8h0M35.9 183.1h0M25.1 191.5h0M27.0 203.9h0M31.2 180.6h0M35.9 164.8h0M28.5 206.0h0M31.7 177.6h0M34.2 181.4h0M32.4 176.1h0M31.6 164.5h0M22.9 194.6h0M36.2 174.2h0M25.2 180.3h0M35.5 198.8h0M38.1 192.0h0M31.7 191.0h0M30.2 199.6h0M28.8 200.7h0M24.3 178.9h0M35.9 180.7h0M37.0 172.0h0M33.6 202.9h0M31.0 192.8h0M24.7 203.2h0M30.2 192.8h0M36.9 169.1h0M26.0 162.4h0M32.4 183.9h0M27.8 196.9h0M29.7 168.7h0M30.4 190.0h0M34.0 165.0h0M25.5 179.3h0M28.2 202.6h0M27.3 201.2h0M30.1 184.9h0M29.4 172.9h0M31.1 203.1h0M24.9 171.4h0M29.0 205.6h0M32.0 183.6h0M27.3 198.3h0M25.0 198.7h0M25.5 204.3h0M30.0 172.1h0M29.4 166.0h0M33.5 167.0h0M30.1 176.7h0M25.3 199.7h0M24.8 196.2h0M36.3 166.2h0M30.7 173.0h0M33.4 169.1h0M25.7 181.9h0M30.6 179.7h0M33.4 185.3h0M33.1 206.4h0M26.8 183.2h0M25.6 190.2h0M35.5 191.9h0M26.8 173.8h0M31.7 179.6h0M33.1 165.1h0M29.3 188.0h0M35.2 174.5h0M35.4 208.6h0M26.2 181.6h0M29.8 201.8h0M31.8 203.5h0M28.3 171.2h0M23.3 200.1h0M23.1 169.3h0M31.7 170.7h0M29.9 200.0h0M38.1 163.5h0M35.0 188.3h0M33.7 160.4h0M30.7 188.7h0M33.2 190.1h0M22.9 168.2h0M30.9 181.7h0M33.8 195.7h0M27.3 203.6h0M31.5 188.8h0M29.9 202.4h0M38.5 190.3h0M33.4 180.2h0M35.5 162.5h0M27.8 174.1h0M27.7 197.6h0M23.0 178.3h0M27.7 189.1h0M38.2 177.4h0M35.3 183.9h0M30.2 203.6h0M31.4 164.9h0M38.1 197.9h0M35.5 202.7h0M32.0 181.0h0M28.9 184.9h0M29.1 194.5h0M29.3 178.8h0M31.9 175.7h0M27.3 168.2h0M32.7 172.5h0M31.9 200.3h0M33.7 183.0h0M31.4 186.4h0M25.5 176.8h0M29.9 184.1h0M24.1 207.2h0M33.3 178.8h0M32.7 165.0h0M28.7 187.8h0M35.3 175.6h0M26.9 201.5h0M36.4 170.8h0M30.1 197.6h0M37.5 178.2h0M31.7 178.1h0M37.7 166.9h0M33.5 195.9h0M35.8 178.3h0M35.4 199.7h0M26.4 158.2h0M27.4 163.1h0M31.8 170.7h0M31.9 169.1h0M33.3 169.6h0M29.3 200.5h0M33.7 176.1h0M32.3 172.2h0M33.2 174.7h0M32.7 169.4h0M34.7 190.9h0M27.7 187.8h0M33.1 196.7h0M28.3 184.1h0M30.1 188.9h0M29.8 194.3h0M24.9 200.7h0M39.5 162.0h0M25.0 173.2h0M27.6 199.6h0M26.5 203.1h0M24.8 184.9h0M33.2 170.0h0M31.8 187.4h0M30.9 187.3h0M32.3 186.6h0M31.2 177.4h0M31.9 170.7h0M28.3 188.5h0M27.1 178.3h0M29.5 183.5h0M27.0 176.4h0M29.0 205.0h0M29.3 172.3h0M24.9 201.7h0M35.9 167.5h0M24.6 199.1h0M30.3 176.4h0M29.1 177.0h0M22.1 205.1h0M26.3 201.0h0M34.3 192.9h0M27.4 183.9h0M29.4 186.3h0M35.5 195.8h0M34.2 193.9h0M37.1 188.6h0M36.1 204.3h0M30.2 188.2h0M31.3 204.6h0M33.7 176.9h0M33.7 168.3h0M25.7 185.8h0M29.4 196.8h0M37.0 167.3h0M35.4 195.8h0M32.5 206.6h0M30.4 194.4h0M35.2 194.1h0M24.6 198.0h0M26.5 196.5h0M29.3 174.9h0M26.2 201.5h0M27.8 201.8h0M28.6 176.2h0M28.3 206.8h0M32.5 199.5h0M26.5 186.7h0M38.6 196.0h0M39.4 173.7h0M32.9 162.7h0M34.4 170.3h0M22.4 203.4h0M33.4 169.2h0M31.1 206.8h0M24.4 172.4h0M30.2 164.5h0M25.4 198.5h0M24.4 176.9h0M36.3 181.9h0M30.3 201.7h0M26.2 175.6h0M26.2 194.6h0M35.3 200.5h0M32.6 185.4h0M30.9 180.3h0M32.9 169.8h0M32.9 202.7h0M29.0 202.7h0M22.3 171.7h0M26.0 203.5h0M33.0 200.5h0M25.3 175.4h0M39.0 188.2h0M34.6 161.2h0M24.0 180.2h0M30.9 197.1h0M26.0 177.0h0M33.4 203.9h0M32.9 200.4h0M35.2 189.8h0M31.4 196.2h0M37.1 181.0h0M28.4 184.4h0M34.1 186.2h0M35.7 179.2h0M26.5 199.5h0M31.5 199.5h0M31.5 186.2h0M37.8 169.4h0M24.1 195.9h0M28.9 193.7h0M25.4 190.5h0M28.2 178.1h0M27.3 197.2h0M30.9 174.7h0M25.0 199.9h0M33.2 175.6h0M31.3 168.9h0M28.8 174.6h0M26.9 201.0h0M31.6 191.2h0M26.1 169.0h0M30.9 201.6h0M31.4 183.6h0M29.4 187.1h0M31.2 173.1h0M25.7 179.3h0M32.8 171.7h0M33.0 173.9h0M35.2 197.2h0M34.7 208.8h0M31.8 181.9h0M23.5 198.8h0M27.2 196.8h0M21.9 178.5h0M34.7 200.9h0M31.6 176.1h0M23.3 204.4h0M32.6 186.6h0M27.0 199.6h0M27.9 180.5h0M26.4 198.5h0M26.6 175.4h0M28.0 161.8h0M33.0 186.7h0M28.7 168.7h0M29.2 203.3h0M33.4 176.6h0M31.1 170.4h0M26.0 166.5h0M35.5 166.2h0M31.4 207.7h0M33.1 169.8h0M33.7 191.9h0M31.3 195.3h0M30.5 174.0h0M28.4 197.3h0M29.4 176.7h0M29.6 186.2h0M32.4 174.8h0M31.0 176.1h0M30.4 201.3h0M29.3 190.8h0M35.4 194.4h0M35.9 174.4h0M32.0 171.0h0M31.4 165.2h0M30.8 193.3h0M24.9 178.6h0M34.2 188.5h0M24.5 166.0h0M29.5 194.5h0M30.9 183.3h0M32.0 183.0h0M32.3 177.1h0M31.9 169.0h0M29.9 207.2h0M28.4 185.8h0M29.0 204.6h0M34.2 171.4h0M42.1 190.8h0M32.9 196.9h0M29.1 175.6h0M30.1 184.7h0M28.5 204.0h0M25.2 184.0h0M38.8 160.6h0M37.0 190.7h0M30.4 172.5h0M35.2 171.8h0M33.5 184.8h0M32.3 202.1h0M30.7 170.8h0M32.9 195.5h0M32.6 172.1h0M33.3 185.2h0M26.3 191.7h0M26.3 190.1h0M30.3 167.3h0M27.9 176.4h0M36.0 183.7h0M35.7 164.0h0M26.5 179.3h0M28.4 177.9h0M24.5 175.6h0M36.9 188.6h0M33.1 197.2h0M30.7 205.0h0M33.0 198.5h0M29.0 181.9h0M30.7 169.0h0M28.0 198.5h0M32.8 180.4h0M30.4 174.8h0M31.2 174.0h0M31.5 173.6h0M27.5 163.6h0M33.7 198.9h0M30.1 198.3h0M34.9 185.4h0M36.2 201.8h0M30.8 185.8h0M28.0 199.2h0M31.4 168.5h0M29.5 179.1h0M33.1 185.3h0M39.0 187.3h0M32.0 166.3h0M28.6 199.0h0M35.8 205.1h0M32.8 198.4h0M35.7 169.0h0M26.9 169.6h0M31.6 168.8h0M27.1 180.0h0M25.6 194.8h0M30.5 180.3h0M25.2 169.8h0M31.8 175.7h0M30.8 205.4h0M25.4 177.0h0M29.7 177.7h0M34.5 191.9h0M30.0 201.5h0M34.9 182.7h0M29.9 170.9h0M28.3 172.4h0M29.2 193.5h0M34.7 202.2h0M27.7 174.8h0M35.0 175.1h0M30.6 172.1h0M36.9 180.4h0M27.9 170.8h0M37.5 187.3h0M25.6 173.2h0M34.3 195.5h0M30.5 199.3h0M29.3 185.5h0M35.7 180.2h0M25.7 197.5h0M33.3 184.5h0M33.9 198.5h0M22.9 174.7h0M29.4 167.4h0M31.8 164.7h0M30.0 190.8h0M27.2 177.1h0M38.3 197.9h0M33.5 183.1h0M30.5 180.2h0M30.3 200.4h0M32.5 168.8h0M35.3 172.4h0M32.1 177.1h0M28.7 200.6h0M24.9 195.6h0M31.5 194.8h0M32.8 179.1h0M32.3 170.3h0M24.9 199.1h0M30.2 203.6h0M36.8 194.1h0M30.1 199.3h0M26.0 193.6h0M31.4 174.6h0M30.6 208.7h0M29.1 197.0h0M34.1 198.4h0M28.7 204.5h0M22.9 179.0h0M29.1 164.6h0M31.3 195.9h0M31.9 182.1h0M29.1 182.7h0M24.1 189.9h0M26.4 184.5h0M30.7 191.9h0M33.9 170.2h0M30.7 177.9h0M29.7 192.2h0M38.5 195.0h0M34.2 179.8h0M29.6 199.7h0M27.8 203.5h0M28.1 187.5h0M26.8 170.2h0M28.1 170.6h0M35.3 194.9h0M29.2 165.5h0M28.4 170.4h0M32.7 201.7h0M30.1 186.8h0M26.4 169.8h0M26.4 172.1h0M33.4 202.6h0M28.7 176.0h0M32.3 196.8h0M29.2 174.1h0M36.6 176.0h0M32.9 195.4h0M24.7 171.0h0M27.3 198.3h0M34.5 203.5h0M30.2 186.8h0M36.9 199.0h0M27.7 168.8h0M32.6 183.5h0M26.9 174.6h0M34.8 175.3h0M31.9 197.9h0M32.4 204.9h0M32.0 161.6h0M33.3 169.2h0M31.2 190.4h0M30.3 199.1h0M25.0 186.2h0M34.6 171.3h0M26.9 177.5h0M31.2 190.0h0M36.7 179.2h0M28.4 181.0h0M25.0 188.0h0M35.4 171.9h0M33.0 199.6h0M27.9 193.4h0M33.8 171.9h0M28.4 165.2h0M31.1 177.5h0M35.6 160.7h0M29.9 188.4h0M40.2 170.2h0M27.2 172.6h0M29.8 174.4h0M32.1 167.9h0M28.8 196.5h0M30.9 182.1h0M32.5 200.2h0M24.2 172.8h0M28.6 199.0h0M28.3 167.2h0M26.8 200.6h0M38.9 189.6h0M36.4 190.0h0M26.7 188.9h0M31.6 180.5h0M32.6 193.2h0M36.3 171.0h0M26.7 164.6h0M30.3 177.3h0M34.5 188.4h0M30.4 175.9h0M33.4 177.3h0M41.2 200.8h0M34.2 178.3h0M29.3 178.4h0" stroke="#000" stroke-opacity="0.45" stroke-width="1" stroke-linecap="square" fill="none"/>
<rect x="21.6" y="139.3" width="75.69999999999999" height="69.79999999999998" fill="none" stroke="#444" stroke-width="0.9"/>
<line x1="40.5" y1="139.3" x2="40.5" y2="209.1" stroke="#222" stroke-width="0.9"/>
<line x1="21.6" y1="193.8" x2="97.3" y2="193.8" stroke="#222" stroke-width="0.9"/>
<line x1="16.6" y1="191.7" x2="21.6" y2="191.7" stroke="#555" stroke-width="0.85"/>
<line x1="16.6" y1="174.2" x2="21.6" y2="174.2" stroke="#555" stroke-width="0.85"/>
<line x1="16.6" y1="156.8" x2="21.6" y2="156.8" stroke="#555" stroke-width="0.85"/>
<line x1="16.6" y1="139.3" x2="21.6" y2="139.3" stroke="#555" stroke-width="0.85"/>
<line x1="40.5" y1="209.1" x2="40.5" y2="214.6" stroke="#555" stroke-width="0.85"/>
<line x1="59.4" y1="209.1" x2="59.4" y2="214.6" stroke="#555" stroke-width="0.85"/>
<line x1="78.4" y1="209.1" x2="78.4" y2="214.6" stroke="#555" stroke-width="0.85"/>
<line x1="97.3" y1="209.1" x2="97.3" y2="214.6" stroke="#555" stroke-width="0.85"/>
<line x1="19.6" y1="203.8" x2="21.6" y2="203.8" stroke="#aaa" stroke-width="0.5"/>
<line x1="27.3" y1="209.1" x2="27.3" y2="211.1" stroke="#aaa" stroke-width="0.5"/>
<line x1="19.6" y1="200.8" x2="21.6" y2="200.8" stroke="#aaa" stroke-width="0.5"/>
<line x1="30.6" y1="209.1" x2="30.6" y2="211.1" stroke="#aaa" stroke-width="0.5"/>
<line x1="19.6" y1="198.6" x2="21.6" y2="198.6" stroke="#aaa" stroke-width="0.5"/>
<line x1="33.0" y1="209.1" x2="33.0" y2="211.1" stroke="#aaa" stroke-width="0.5"/>
<line x1="19.6" y1="196.9" x2="21.6" y2="196.9" stroke="#aaa" stroke-width="0.5"/>
<line x1="34.8" y1="209.1" x2="34.8" y2="211.1" stroke="#aaa" stroke-width="0.5"/>
<line x1="19.6" y1="195.5" x2="21.6" y2="195.5" stroke="#aaa" stroke-width="0.5"/>
<line x1="36.3" y1="209.1" x2="36.3" y2="211.1" stroke="#aaa" stroke-width="0.5"/>
<line x1="19.6" y1="194.4" x2="21.6" y2="194.4" stroke="#aaa" stroke-width="0.5"/>
<line x1="37.6" y1="209.1" x2="37.6" y2="211.1" stroke="#aaa" stroke-width="0.5"/>
<line x1="19.6" y1="193.3" x2="21.6" y2="193.3" stroke="#aaa" stroke-width="0.5"/>
<line x1="38.7" y1="209.1" x2="38.7" y2="211.1" stroke="#aaa" stroke-width="0.5"/>
<line x1="19.6" y1="192.4" x2="21.6" y2="192.4" stroke="#aaa" stroke-width="0.5"/>
<line x1="39.7" y1="209.1" x2="39.7" y2="211.1" stroke="#aaa" stroke-width="0.5"/>
<line x1="19.6" y1="186.4" x2="21.6" y2="186.4" stroke="#aaa" stroke-width="0.5"/>
<line x1="46.2" y1="209.1" x2="46.2" y2="211.1" stroke="#aaa" stroke-width="0.5"/>
<line x1="19.6" y1="183.3" x2="21.6" y2="183.3" stroke="#aaa" stroke-width="0.5"/>
<line x1="49.6" y1="209.1" x2="49.6" y2="211.1" stroke="#aaa" stroke-width="0.5"/>
<line x1="19.6" y1="181.1" x2="21.6" y2="181.1" stroke="#aaa" stroke-width="0.5"/>
<line x1="51.9" y1="209.1" x2="51.9" y2="211.1" stroke="#aaa" stroke-width="0.5"/>
<line x1="19.6" y1="179.5" x2="21.6" y2="179.5" stroke="#aaa" stroke-width="0.5"/>
<line x1="53.8" y1="209.1" x2="53.8" y2="211.1" stroke="#aaa" stroke-width="0.5"/>
<line x1="19.6" y1="178.1" x2="21.6" y2="178.1" stroke="#aaa" stroke-width="0.5"/>
<line x1="55.3" y1="209.1" x2="55.3" y2="211.1" stroke="#aaa" stroke-width="0.5"/>
<line x1="19.6" y1="176.9" x2="21.6" y2="176.9" stroke="#aaa" stroke-width="0.5"/>
<line x1="56.5" y1="209.1" x2="56.5" y2="211.1" stroke="#aaa" stroke-width="0.5"/>
<line x1="19.6" y1="175.9" x2="21.6" y2="175.9" stroke="#aaa" stroke-width="0.5"/>
<line x1="57.6" y1="209.1" x2="57.6" y2="211.1" stroke="#aaa" stroke-width="0.5"/>
<line x1="19.6" y1="175.0" x2="21.6" y2="175.0" stroke="#aaa" stroke-width="0.5"/>
<line x1="58.6" y1="209.1" x2="58.6" y2="211.1" stroke="#aaa" stroke-width="0.5"/>
<line x1="19.6" y1="168.9" x2="21.6" y2="168.9" stroke="#aaa" stroke-width="0.5"/>
<line x1="65.1" y1="209.1" x2="65.1" y2="211.1" stroke="#aaa" stroke-width="0.5"/>
<line x1="19.6" y1="165.9" x2="21.6" y2="165.9" stroke="#aaa" stroke-width="0.5"/>
<line x1="68.5" y1="209.1" x2="68.5" y2="211.1" stroke="#aaa" stroke-width="0.5"/>
<line x1="19.6" y1="163.7" x2="21.6" y2="163.7" stroke="#aaa" stroke-width="0.5"/>
<line x1="70.8" y1="209.1" x2="70.8" y2="211.1" stroke="#aaa" stroke-width="0.5"/>
<line x1="19.6" y1="162.0" x2="21.6" y2="162.0" stroke="#aaa" stroke-width="0.5"/>
<line x1="72.7" y1="209.1" x2="72.7" y2="211.1" stroke="#aaa" stroke-width="0.5"/>
<line x1="19.6" y1="160.6" x2="21.6" y2="160.6" stroke="#aaa" stroke-width="0.5"/>
<line x1="74.2" y1="209.1" x2="74.2" y2="211.1" stroke="#aaa" stroke-width="0.5"/>
<line x1="19.6" y1="159.5" x2="21.6" y2="159.5" stroke="#aaa" stroke-width="0.5"/>
<line x1="75.4" y1="209.1" x2="75.4" y2="211.1" stroke="#aaa" stroke-width="0.5"/>
<line x1="19.6" y1="158.4" x2="21.6" y2="158.4" stroke="#aaa" stroke-width="0.5"/>
<line x1="76.5" y1="209.1" x2="76.5" y2="211.1" stroke="#aaa" stroke-width="0.5"/>
<line x1="19.6" y1="157.5" x2="21.6" y2="157.5" stroke="#aaa" stroke-width="0.5"/>
<line x1="77.5" y1="209.1" x2="77.5" y2="211.1" stroke="#aaa" stroke-width="0.5"/>
<line x1="19.6" y1="151.5" x2="21.6" y2="151.5" stroke="#aaa" stroke-width="0.5"/>
<line x1="84.1" y1="209.1" x2="84.1" y2="211.1" stroke="#aaa" stroke-width="0.5"/>
<line x1="19.6" y1="148.4" x2="21.6" y2="148.4" stroke="#aaa" stroke-width="0.5"/>
<line x1="87.4" y1="209.1" x2="87.4" y2="211.1" stroke="#aaa" stroke-width="0.5"/>
<line x1="19.6" y1="146.2" x2="21.6" y2="146.2" stroke="#aaa" stroke-width="0.5"/>
<line x1="89.8" y1="209.1" x2="89.8" y2="211.1" stroke="#aaa" stroke-width="0.5"/>
<line x1="19.6" y1="144.6" x2="21.6" y2="144.6" stroke="#aaa" stroke-width="0.5"/>
<line x1="91.6" y1="209.1" x2="91.6" y2="211.1" stroke="#aaa" stroke-width="0.5"/>
<line x1="19.6" y1="143.2" x2="21.6" y2="143.2" stroke="#aaa" stroke-width="0.5"/>
<line x1="93.1" y1="209.1" x2="93.1" y2="211.1" stroke="#aaa" stroke-width="0.5"/>
<line x1="19.6" y1="142.0" x2="21.6" y2="142.0" stroke="#aaa" stroke-width="0.5"/>
<line x1="94.4" y1="209.1" x2="94.4" y2="211.1" stroke="#aaa" stroke-width="0.5"/>
<line x1="19.6" y1="141.0" x2="21.6" y2="141.0" stroke="#aaa" stroke-width="0.5"/>
<line x1="95.5" y1="209.1" x2="95.5" y2="211.1" stroke="#aaa" stroke-width="0.5"/>
<line x1="19.6" y1="140.1" x2="21.6" y2="140.1" stroke="#aaa" stroke-width="0.5"/>
<line x1="96.4" y1="209.1" x2="96.4" y2="211.1" stroke="#aaa" stroke-width="0.5"/>
<text x="32.2" y="148.5" font-size="10.2" text-anchor="middle">70</text>
<text x="85.7" y="148.5" font-size="10.2" text-anchor="middle">0.2</text>
<text x="90.4" y="205.8" font-size="10.2" text-anchor="middle">0</text>
<path d="M121.7 184.9h0M118.0 188.4h0M125.1 166.8h0M123.2 181.1h0M126.4 185.2h0M123.2 172.3h0M118.3 172.2h0M114.7 169.6h0M118.5 173.7h0M115.8 176.6h0M124.4 185.7h0M124.4 180.5h0M121.9 176.7h0M115.8 155.7h0M116.9 172.8h0M112.5 176.7h0M127.0 160.5h0M118.2 173.7h0M116.3 185.1h0M114.6 162.8h0M124.9 184.4h0M120.4 169.2h0M119.4 186.1h0M116.5 180.9h0M118.6 181.7h0M119.9 174.6h0M113.8 180.3h0M123.6 191.9h0M118.5 198.0h0M120.0 186.5h0M123.1 170.7h0M114.8 161.1h0M120.2 179.5h0M125.6 181.9h0M127.0 174.4h0M125.4 150.8h0M125.3 173.3h0M117.7 179.4h0M118.8 159.2h0M124.5 169.9h0M122.7 170.1h0M125.8 183.9h0M116.1 180.3h0M121.9 162.5h0M122.7 169.5h0M126.2 193.1h0M124.6 188.6h0M112.2 190.9h0M116.0 182.8h0M120.5 185.8h0M121.6 179.5h0M121.9 171.6h0M121.2 191.9h0M117.5 183.5h0M123.1 178.4h0M119.7 187.8h0M116.8 187.5h0M123.1 177.5h0M122.3 180.1h0M121.5 171.2h0M123.5 184.8h0M122.6 162.2h0M126.6 184.0h0M114.5 167.0h0M122.3 168.8h0M131.6 193.4h0M124.8 175.9h0M115.2 185.1h0M129.0 186.6h0M120.7 166.7h0M122.3 155.9h0M125.1 190.8h0M118.6 172.4h0M132.2 169.4h0M121.9 176.0h0M126.5 188.2h0M119.5 183.1h0M123.3 174.3h0M121.0 191.0h0M118.6 171.1h0M118.2 168.9h0M121.7 170.1h0M122.3 177.1h0M124.5 188.6h0M113.9 167.8h0M122.7 184.8h0M126.0 191.0h0M122.7 167.7h0M127.8 170.6h0M118.0 180.2h0M121.4 186.7h0M120.4 178.3h0M128.3 172.0h0M119.4 179.1h0M118.1 163.5h0M113.1 165.5h0M124.7 169.8h0M120.2 195.8h0M115.5 187.0h0M120.5 175.3h0M120.0 173.0h0M116.3 174.3h0M116.6 182.5h0M125.4 194.1h0M125.1 181.0h0M123.7 179.8h0M116.5 159.9h0M126.9 182.6h0M124.7 187.0h0M115.8 182.8h0M121.3 185.7h0M119.3 165.0h0M121.7 188.9h0M119.2 178.9h0M121.4 182.8h0M121.7 177.8h0M120.1 179.2h0M116.9 174.8h0M116.6 176.0h0M122.7 175.0h0M122.2 172.4h0M114.7 179.4h0M119.7 181.5h0M124.3 200.7h0M121.4 194.1h0M118.3 168.6h0M124.4 188.4h0M117.5 197.3h0M127.5 166.5h0M116.1 186.2h0M122.3 195.2h0M123.5 176.2h0M125.3 181.3h0M126.4 177.9h0M115.4 188.8h0M126.2 161.4h0M114.9 204.5h0M118.3 177.0h0M119.7 172.6h0M118.9 193.4h0M122.8 182.7h0M117.2 174.0h0M115.0 179.2h0M122.1 184.7h0M117.5 187.2h0M119.8 188.9h0M128.3 166.0h0M135.6 176.1h0M133.9 170.4h0M136.9 167.1h0M136.2 173.5h0M127.9 171.4h0M131.7 171.3h0M130.1 168.2h0M130.7 174.0h0M124.4 165.0h0M128.6 170.2h0M131.3 171.8h0M129.6 167.9h0M136.1 171.5h0M128.9 169.8h0M128.7 166.6h0M136.1 164.5h0M137.6 168.8h0M133.3 167.4h0M131.7 175.1h0M134.2 173.6h0M135.3 169.4h0M133.5 175.2h0M126.8 166.9h0M132.9 175.5h0M132.9 168.7h0M133.0 160.0h0M136.4 169.5h0M122.8 166.6h0M134.1 170.0h0M134.2 170.5h0M132.1 169.6h0M130.1 169.2h0M126.1 171.3h0M133.2 173.1h0M130.6 168.2h0M131.8 165.7h0M133.5 172.7h0M128.8 167.5h0M131.2 160.7h0M131.6 175.1h0M138.0 163.0h0M129.7 170.8h0M138.1 173.7h0M127.0 165.6h0M124.4 170.9h0M126.5 175.4h0M132.8 170.2h0M124.2 174.0h0M129.2 173.0h0M132.4 169.5h0M126.8 165.1h0M136.8 169.5h0M138.0 169.8h0M133.6 174.1h0M130.1 179.5h0M133.7 177.0h0M133.4 172.9h0M133.0 166.4h0M130.7 171.2h0M139.7 170.7h0M136.3 190.1h0M137.8 189.4h0M146.3 164.5h0M130.9 184.1h0M144.2 177.8h0M150.4 178.5h0M136.5 182.8h0M134.4 191.2h0M142.1 167.9h0M143.3 167.3h0M139.2 187.8h0M154.5 183.3h0M146.0 196.7h0M149.4 163.8h0M137.0 188.4h0M139.7 184.6h0M157.5 164.4h0M149.5 177.5h0M159.5 162.4h0M150.1 176.1h0M149.0 164.1h0M132.6 176.6h0M145.9 174.9h0M154.9 176.3h0M144.9 182.6h0M134.9 176.1h0M136.9 182.5h0M132.8 165.5h0M164.9 172.1h0M135.7 179.7h0M136.5 177.3h0M157.6 176.2h0M134.5 171.6h0M147.6 173.5h0M151.1 168.7h0M152.5 167.9h0M158.7 166.5h0M142.2 167.9h0M132.2 186.9h0M165.3 165.8h0M143.1 183.4h0M145.9 175.3h0M142.6 161.3h0M153.0 166.0h0M138.0 172.5h0M132.2 191.1h0M149.5 191.6h0M154.7 167.4h0M134.6 171.6h0M133.1 184.1h0M135.5 185.6h0M158.0 178.8h0M126.1 183.7h0M143.0 170.7h0M147.3 182.8h0M131.5 178.0h0M124.4 170.6h0M145.8 179.2h0M132.3 187.5h0M151.8 170.0h0M150.3 172.0h0M149.0 174.7h0M142.1 178.0h0M157.4 168.6h0M136.4 182.9h0M163.2 167.5h0M148.2 170.4h0M139.1 179.3h0M160.5 164.5h0M161.6 162.7h0M135.9 187.7h0M139.8 185.8h0M139.9 178.4h0M150.7 165.3h0M142.8 170.7h0M138.3 180.0h0M135.8 187.8h0M141.1 182.8h0M141.7 188.9h0M144.5 156.8h0M133.7 168.4h0M131.9 164.5h0M132.3 164.7h0M138.5 161.0h0M139.4 158.6h0M141.5 160.2h0M140.6 158.8h0M127.9 168.5h0M126.2 165.3h0M143.2 161.3h0M135.0 165.3h0M133.9 161.1h0M128.1 163.4h0M129.7 166.2h0M139.4 156.6h0M146.4 162.8h0M137.1 162.5h0M128.1 166.9h0M141.4 157.2h0M139.6 162.6h0M139.5 165.6h0M133.8 160.7h0M138.5 160.5h0M133.8 163.7h0M134.5 168.6h0M128.9 168.2h0M145.0 160.3h0M136.2 163.9h0M138.2 158.9h0M129.8 169.5h0M136.6 166.5h0M126.6 161.7h0M138.1 164.7h0M134.7 162.9h0M140.1 160.8h0M141.6 159.4h0M142.6 162.9h0M139.5 153.8h0M133.7 166.9h0M134.2 164.0h0M140.4 162.2h0M146.5 160.1h0M133.8 165.6h0M135.0 161.6h0M132.8 168.8h0M138.2 163.4h0M137.2 160.7h0M142.7 160.0h0M132.8 164.7h0M131.6 166.7h0M136.3 165.4h0M130.0 163.1h0M136.0 166.2h0M140.7 161.2h0M134.2 161.8h0M146.9 157.5h0M142.3 156.5h0M136.9 160.7h0M142.3 160.0h0" stroke="#000" stroke-opacity="0.3" stroke-width="1" stroke-linecap="square" fill="none"/>
<path d="M123.3 195.1h0M122.0 179.0h0M143.1 157.3h0M123.0 198.1h0M124.8 175.0h0M115.4 199.4h0M131.4 165.9h0M125.6 187.0h0M117.4 202.9h0M119.2 196.1h0M120.1 166.2h0M124.3 159.0h0M122.3 158.7h0M126.0 208.7h0M126.3 160.7h0M127.3 182.0h0M117.9 199.0h0M125.0 159.9h0M123.6 203.6h0M118.6 197.6h0M123.9 205.8h0M119.3 185.0h0M119.0 201.0h0M120.7 203.0h0M123.9 202.6h0M141.2 159.9h0M123.5 165.5h0M118.8 150.4h0M138.9 160.8h0M123.5 171.7h0M112.4 194.2h0M123.0 206.5h0M144.0 157.2h0M130.6 198.6h0M142.3 162.8h0M139.1 161.4h0M122.4 204.0h0M115.7 198.2h0M130.4 162.9h0M122.5 196.2h0M119.5 207.2h0M123.8 203.5h0M120.7 187.7h0M124.5 183.1h0M122.3 192.7h0M126.1 201.8h0M122.2 201.0h0M117.9 160.8h0M120.8 184.5h0M120.4 195.6h0M123.8 200.7h0M123.0 206.4h0M112.9 199.8h0M119.9 197.0h0M118.2 195.9h0M117.2 201.8h0M142.9 161.5h0M120.0 200.0h0M119.8 201.0h0M125.5 181.0h0M121.7 198.8h0M120.3 205.9h0M120.1 172.4h0M123.7 165.7h0M122.3 186.0h0M121.7 202.6h0M117.6 184.6h0M118.5 200.7h0M141.1 157.8h0M119.0 204.1h0M119.4 198.4h0M121.2 201.4h0M123.8 198.3h0M118.3 196.9h0M115.6 202.9h0M119.0 196.7h0M122.8 196.6h0M122.9 160.7h0M119.6 196.7h0M123.6 208.6h0M121.5 205.3h0M114.0 205.8h0M121.9 202.3h0M144.5 158.9h0M119.7 198.7h0M124.5 172.3h0M120.7 199.0h0M117.3 196.1h0M114.8 166.6h0M123.4 206.1h0M118.5 155.5h0M119.7 199.8h0M118.2 201.6h0M124.9 174.5h0M116.7 204.7h0M123.3 185.2h0M142.5 156.0h0M115.8 201.7h0M119.7 167.8h0M126.3 208.7h0M123.3 201.7h0M121.6 203.0h0M116.7 201.3h0M117.1 198.7h0M127.4 206.4h0M117.6 199.5h0M120.2 200.4h0M140.1 160.8h0M127.4 181.1h0M119.8 202.9h0M124.8 203.3h0M121.1 200.2h0M116.6 198.5h0M116.2 197.7h0M120.1 186.6h0M121.8 198.7h0M118.7 207.3h0M123.6 197.3h0M120.0 177.5h0M122.4 160.7h0M120.8 199.9h0M127.3 172.7h0M119.7 201.8h0M120.5 208.1h0M118.6 201.6h0M120.2 179.7h0M115.7 171.0h0M144.6 159.0h0M118.5 202.3h0M116.0 182.3h0M119.3 203.9h0M123.7 199.9h0M114.0 201.7h0M117.5 197.0h0M121.1 199.7h0M120.2 193.7h0M120.6 181.6h0M119.3 178.7h0M125.0 201.9h0M116.6 170.8h0M122.9 201.4h0M117.7 197.6h0M121.8 201.7h0M119.5 169.5h0M117.1 197.4h0M122.7 200.2h0M123.5 198.6h0M125.0 197.1h0M123.2 203.1h0M120.3 174.1h0M123.1 201.4h0M119.5 199.2h0M123.7 203.4h0M121.0 181.1h0M115.8 164.4h0M118.7 158.5h0M118.7 193.3h0M121.4 194.1h0M116.4 201.9h0M120.8 167.2h0M119.1 205.4h0M124.0 180.9h0M121.5 168.6h0M119.0 201.1h0M125.3 180.6h0M115.9 197.2h0M121.3 199.8h0M115.5 196.3h0M123.4 196.2h0M117.3 201.4h0M120.4 199.6h0M123.7 171.4h0M124.5 198.7h0M122.0 202.2h0M121.6 204.1h0M121.0 197.6h0M114.0 179.1h0M128.5 202.2h0M118.9 207.9h0M135.3 167.4h0M123.0 200.9h0M122.1 185.0h0M121.7 203.9h0M115.2 184.0h0M127.8 195.9h0M121.6 199.6h0M112.1 163.6h0M128.0 194.7h0M118.2 200.9h0M117.8 201.8h0M143.9 159.5h0M116.4 203.3h0M119.0 198.8h0M118.0 196.0h0M117.6 187.9h0M117.4 165.0h0M119.3 207.0h0M119.7 205.6h0M116.6 180.3h0M112.1 186.5h0M115.7 193.3h0M113.2 201.6h0M115.9 199.5h0M117.0 205.9h0M123.0 207.0h0M118.1 173.2h0M122.8 203.7h0M122.0 199.0h0M126.5 166.6h0M125.1 206.6h0M119.4 206.5h0M116.2 203.3h0M122.2 169.0h0M115.5 165.7h0M125.0 197.5h0M118.0 195.6h0M117.7 193.9h0M118.1 201.4h0M118.5 160.4h0M121.3 204.3h0M126.7 198.4h0M120.6 172.3h0M113.5 201.4h0M122.9 205.1h0M118.5 194.7h0M113.9 176.2h0M118.6 176.4h0M123.8 197.6h0M119.9 203.3h0M117.4 186.8h0M118.7 197.6h0M115.7 188.5h0M121.0 198.4h0M144.8 159.3h0M123.7 194.2h0M118.7 159.2h0M119.8 167.4h0M113.5 203.6h0M123.3 203.5h0M121.0 196.7h0M122.4 168.8h0M122.0 201.3h0M119.7 185.0h0M118.9 197.8h0M128.0 172.0h0M125.9 197.9h0M118.0 195.2h0M134.7 163.0h0M117.3 193.1h0M125.5 206.2h0M119.5 200.0h0M117.0 196.6h0M119.1 202.2h0M142.4 159.0h0M123.6 163.9h0M144.2 156.7h0M121.2 196.0h0M116.1 203.1h0M125.2 198.5h0M121.3 170.2h0M115.8 182.5h0M118.2 200.6h0M120.5 205.8h0M112.8 194.5h0M122.1 202.9h0M115.6 166.1h0M120.7 200.5h0M142.6 161.3h0M116.8 171.6h0M123.2 178.2h0M120.5 202.6h0M125.0 206.1h0M115.3 178.9h0M118.5 164.4h0M122.7 176.5h0M114.9 206.7h0M120.4 201.1h0M120.2 196.0h0M138.8 164.1h0M119.4 162.5h0M117.9 205.2h0M123.0 177.6h0M117.3 203.9h0M125.2 179.8h0M121.0 200.6h0M116.8 199.5h0M116.3 177.8h0M120.4 208.6h0M117.4 201.5h0M120.6 200.3h0M129.1 166.4h0M121.4 168.9h0M121.5 201.2h0M122.7 195.6h0M115.4 199.4h0M122.8 189.2h0M115.7 203.0h0M123.5 198.8h0M123.9 199.3h0M125.8 203.0h0M117.0 200.0h0M122.8 203.2h0M128.8 202.7h0M112.0 164.0h0M119.1 197.6h0M119.2 201.4h0M121.9 196.5h0M120.9 170.8h0M120.6 169.1h0M119.6 184.5h0M118.1 205.3h0M144.4 157.6h0M119.0 183.2h0M123.2 204.2h0M113.5 165.9h0M114.2 176.0h0M139.0 164.0h0M141.1 159.9h0M121.1 200.0h0M119.8 198.0h0M120.7 205.7h0M125.7 197.3h0M124.1 165.6h0M121.8 200.2h0M119.8 201.8h0M118.2 195.0h0M124.2 199.6h0M126.4 199.9h0M121.1 202.0h0M120.3 202.6h0M123.4 200.4h0M129.0 162.3h0M114.0 182.4h0M122.6 198.2h0M118.6 206.9h0M124.8 200.3h0M120.2 190.5h0M119.3 201.4h0M113.7 171.2h0M121.6 203.6h0M116.6 165.8h0M124.4 206.2h0M118.0 164.4h0M114.6 149.7h0M122.6 190.4h0M115.1 198.7h0M121.1 179.3h0M121.5 201.1h0M120.3 172.7h0M121.4 203.7h0M117.8 159.1h0M123.1 176.5h0M121.4 203.8h0M117.4 177.7h0M113.2 200.3h0M126.1 165.0h0M116.9 200.4h0M121.8 183.2h0M119.3 195.7h0M118.9 162.7h0M120.6 199.6h0M128.7 162.8h0M116.9 194.2h0M123.0 201.4h0M117.6 197.6h0M113.6 159.8h0M117.6 196.0h0M126.5 203.0h0M113.7 184.4h0M114.2 176.9h0M124.9 174.4h0M123.0 196.2h0M122.1 202.7h0M115.3 162.9h0M120.5 199.1h0M127.2 183.4h0M112.9 165.9h0M123.5 156.2h0M122.4 175.6h0M119.9 194.5h0M131.8 170.3h0M123.8 201.4h0M118.8 196.2h0M123.8 205.2h0M117.5 178.1h0M121.5 175.4h0M125.5 180.2h0M119.8 201.7h0M119.1 201.6h0M139.8 160.4h0M121.0 206.6h0M125.2 195.2h0M123.4 197.6h0M119.9 157.5h0M116.5 202.9h0M134.4 162.3h0M120.9 176.1h0M111.8 200.9h0M119.8 172.0h0M124.0 201.2h0M121.0 189.2h0M122.8 201.2h0M118.6 168.4h0M121.6 203.1h0M122.3 199.9h0M115.2 200.0h0M124.5 197.5h0M117.6 199.7h0M123.5 180.6h0" stroke="#000" stroke-opacity="0.45" stroke-width="1" stroke-linecap="square" fill="none"/>
<path d="M118.9 202.8h0M121.9 205.8h0M118.2 204.2h0M121.4 207.4h0M130.7 162.8h0M127.4 204.7h0M120.2 183.1h0M119.5 185.0h0M138.4 160.6h0M123.3 196.5h0M144.3 157.4h0M116.5 208.3h0M120.7 201.6h0M115.4 167.0h0M118.4 180.4h0M120.9 203.7h0M129.5 203.5h0M116.2 202.2h0M119.3 176.0h0M121.4 171.7h0M122.4 196.1h0M123.2 171.7h0M119.0 200.4h0M124.7 206.4h0M120.8 204.0h0M123.8 195.3h0M114.5 190.0h0M123.0 201.0h0M117.4 197.9h0M125.2 201.8h0M125.0 182.9h0M136.8 161.1h0M121.5 197.7h0M137.2 162.9h0M122.2 180.9h0M124.3 203.5h0M124.6 199.8h0M121.8 171.8h0M121.0 202.3h0M119.9 186.1h0M113.5 164.9h0M119.9 185.3h0M121.2 198.1h0M117.4 197.9h0M116.9 198.8h0M123.9 190.3h0M116.5 191.0h0M113.6 166.5h0M119.0 170.5h0M121.8 198.4h0M119.1 200.5h0M126.2 202.0h0M118.2 200.4h0M116.9 197.4h0M130.7 161.6h0M120.4 201.2h0M122.3 197.2h0M118.5 203.7h0M118.5 202.0h0M120.2 194.2h0M114.8 174.8h0M118.0 190.7h0M121.7 169.6h0M116.9 207.3h0M118.4 201.9h0M122.8 162.3h0M122.9 198.6h0M119.6 180.8h0M122.3 183.9h0M115.8 203.4h0M125.9 181.9h0M121.8 179.5h0M117.4 201.4h0M115.9 174.7h0M123.4 203.6h0M144.4 159.0h0M134.0 202.6h0M119.6 200.2h0M117.9 165.7h0M116.5 195.4h0M120.8 200.8h0M120.9 200.1h0M118.3 201.8h0M118.8 207.3h0M124.4 162.4h0M120.4 175.0h0M115.7 197.0h0M117.2 163.7h0M118.4 188.9h0M123.6 202.8h0M121.1 167.9h0M114.2 206.5h0M139.1 162.4h0M123.1 208.0h0M139.6 158.3h0M121.4 157.9h0M120.9 199.5h0M119.1 194.4h0M120.8 193.3h0M144.1 154.3h0M115.1 189.5h0M118.9 180.0h0M125.5 204.7h0M117.4 198.4h0M121.9 201.7h0M118.4 160.3h0M118.5 200.4h0M136.1 162.5h0M118.2 195.0h0M122.4 204.9h0M118.5 199.2h0M119.1 204.4h0M118.5 198.8h0M142.4 163.7h0M119.4 199.8h0M115.6 171.6h0M120.9 199.8h0M121.1 197.3h0M122.6 194.7h0M122.7 192.7h0M118.7 176.8h0M121.6 182.4h0M119.6 196.9h0M124.5 204.5h0M146.2 157.3h0M121.7 195.7h0M130.7 161.5h0M123.6 198.9h0M120.8 181.4h0M123.5 201.3h0M120.5 200.2h0M123.1 203.1h0M118.3 173.0h0M118.7 199.6h0M121.5 189.4h0M118.2 200.3h0M123.0 207.2h0M118.1 200.1h0M116.0 201.2h0M121.5 159.2h0M139.3 158.7h0M120.0 161.1h0M118.6 205.6h0M117.7 200.6h0M118.5 180.2h0M117.4 200.5h0M114.3 181.2h0M115.7 182.5h0M132.8 169.6h0M118.7 172.0h0M119.2 195.1h0M119.0 204.1h0M122.0 201.7h0M111.9 153.4h0M114.9 197.8h0M121.4 170.5h0M116.8 195.4h0M125.5 201.8h0M122.4 167.2h0M115.0 170.2h0M146.1 159.0h0M116.0 167.9h0M119.5 192.7h0M116.6 178.5h0M116.2 194.8h0M118.4 194.3h0M119.4 174.7h0M122.9 197.7h0M115.3 202.7h0M117.2 172.8h0M121.3 190.6h0M116.9 202.2h0M116.7 172.4h0M115.6 197.1h0M117.0 195.3h0M125.1 164.1h0M117.7 200.8h0M120.2 198.3h0M128.8 191.8h0M125.7 207.9h0M119.9 196.8h0M125.9 199.8h0M118.3 198.3h0M121.6 202.0h0M122.6 197.5h0M119.2 194.2h0M119.1 200.3h0M117.5 197.6h0M125.3 203.0h0M125.8 201.3h0M117.4 203.1h0M115.8 200.2h0M123.4 186.6h0M117.6 190.5h0M130.1 162.4h0M114.5 159.6h0M125.6 202.9h0M121.9 194.1h0M119.0 199.2h0M118.7 177.1h0M140.9 157.5h0M113.8 164.8h0M115.1 192.3h0M123.3 193.7h0M122.2 163.2h0M120.9 165.0h0M123.8 206.9h0M123.2 185.4h0M113.1 165.9h0M123.6 203.4h0M122.6 197.6h0M122.7 171.7h0M113.4 164.5h0M118.0 202.5h0M115.9 207.1h0M122.1 201.9h0M118.3 199.9h0M123.2 198.1h0M114.9 166.9h0M118.2 202.1h0M122.8 169.0h0M130.8 166.0h0M143.8 156.9h0M124.2 200.1h0M117.4 201.1h0M125.7 196.1h0M122.7 168.8h0M117.8 182.6h0M114.1 185.8h0M121.7 193.9h0M116.9 182.6h0M123.5 183.9h0M113.3 207.7h0M136.2 164.8h0M121.5 201.1h0M118.3 194.7h0M114.9 207.2h0M115.5 197.7h0M121.8 204.7h0M127.0 195.0h0M120.5 197.1h0M119.6 170.0h0M116.9 205.5h0M119.8 197.5h0M118.5 197.9h0M118.9 199.3h0M124.9 181.7h0M117.6 187.7h0M120.3 207.1h0M115.0 157.2h0M124.7 178.9h0M122.3 195.8h0M117.9 172.4h0M114.4 173.1h0M116.2 197.4h0M124.8 202.1h0M121.9 196.5h0M116.6 201.0h0M113.3 200.6h0M128.7 185.7h0M120.0 202.3h0M140.5 162.7h0M116.8 200.9h0M138.3 162.3h0M121.9 204.2h0M122.0 172.1h0M142.8 159.3h0M138.7 159.3h0M121.7 199.7h0M122.4 198.7h0M124.8 197.2h0M116.7 200.6h0M122.5 205.1h0M118.0 172.1h0M118.0 198.5h0M116.6 170.1h0M117.9 192.6h0M129.3 206.6h0M115.8 160.8h0M120.1 195.4h0M119.2 181.0h0M131.4 163.9h0M121.5 176.2h0M117.9 200.9h0M129.9 195.8h0M125.9 206.3h0M124.6 165.5h0M121.0 182.4h0M112.5 174.2h0M124.3 198.5h0M123.9 171.8h0M120.2 202.7h0M120.8 206.3h0M119.8 198.1h0M124.5 204.8h0M120.6 207.6h0M124.8 199.3h0M121.4 191.9h0M123.3 175.8h0M114.7 194.8h0M120.1 202.3h0M116.1 207.9h0M125.6 197.2h0M115.6 183.2h0M122.9 200.4h0M121.0 195.3h0M118.0 200.3h0M122.9 199.2h0M122.1 160.1h0M119.5 197.6h0M121.7 167.3h0M123.8 181.0h0M122.0 181.3h0M121.7 200.7h0M121.0 199.1h0M138.2 162.7h0M118.9 204.9h0M122.8 196.7h0M121.5 177.2h0M119.0 203.1h0M121.0 195.3h0M119.6 204.7h0M119.4 201.5h0M123.4 206.3h0M113.3 191.1h0M118.0 195.8h0M120.2 199.4h0M143.3 158.5h0M116.8 186.1h0M118.5 179.9h0M115.8 165.8h0M122.1 185.0h0M127.3 199.3h0M117.2 205.2h0M117.2 203.4h0M121.0 198.6h0M125.9 206.2h0M114.9 184.7h0M130.4 164.4h0M114.9 202.9h0M114.1 195.1h0M117.7 169.0h0M122.9 203.5h0M118.9 196.5h0M123.2 199.0h0M119.4 199.2h0M112.7 177.3h0M117.2 195.2h0M125.7 196.0h0M119.6 167.3h0M123.1 205.3h0M122.2 167.9h0M117.4 200.7h0M115.1 195.8h0M122.2 181.1h0M120.0 197.0h0M119.2 204.5h0M122.2 198.3h0M122.6 192.0h0M123.9 200.1h0M141.5 159.9h0M121.7 199.0h0M123.1 194.1h0M113.7 205.6h0M121.6 198.4h0M114.9 166.4h0M127.6 177.7h0M123.9 160.7h0M121.0 201.2h0M124.8 159.3h0M119.1 206.5h0M147.1 158.6h0M113.6 198.4h0M116.1 197.9h0M119.7 197.9h0M117.5 201.6h0M122.4 203.2h0M128.1 197.6h0M126.7 177.1h0M127.4 198.2h0M125.6 200.7h0M118.1 204.1h0M117.7 200.8h0M117.9 201.8h0M123.9 200.6h0M118.9 199.7h0M117.6 178.7h0M119.6 201.5h0M117.2 193.7h0M122.9 166.3h0M121.2 199.2h0M115.6 197.8h0M119.8 201.9h0M117.8 204.3h0M121.6 201.7h0M114.5 185.6h0M122.6 170.3h0M118.0 195.3h0M119.7 205.5h0M116.3 195.0h0M126.1 195.8h0M116.7 185.9h0M122.8 178.7h0M121.7 175.5h0M119.3 198.0h0M121.6 203.6h0" stroke="#000" stroke-opacity="0.45" stroke-width="1" stroke-linecap="square" fill="none"/>
<path d="M120.5 174.6h0M123.9 200.9h0M114.7 181.4h0M119.9 166.2h0M124.5 201.3h0M120.4 203.3h0M120.8 203.5h0M122.1 205.4h0M120.6 203.2h0M120.8 171.0h0M120.3 198.3h0M120.3 193.1h0M123.8 204.5h0M120.2 166.7h0M118.4 166.7h0M121.8 172.6h0M122.1 200.9h0M111.9 169.8h0M118.9 172.3h0M116.7 178.4h0M115.2 204.5h0M124.9 204.5h0M122.4 187.6h0M143.4 159.0h0M120.7 162.1h0M120.3 172.7h0M126.3 200.5h0M122.6 170.0h0M117.7 199.4h0M123.3 200.6h0M118.2 202.9h0M120.8 201.3h0M119.6 198.3h0M122.4 199.5h0M119.6 203.9h0M115.3 201.5h0M125.1 181.6h0M117.8 202.2h0M120.3 175.3h0M122.4 201.4h0M123.5 198.5h0M121.7 194.2h0M120.7 198.2h0M120.6 197.6h0M124.2 185.3h0M124.9 200.9h0M119.5 195.7h0M117.9 203.1h0M118.2 174.3h0M118.9 199.4h0M117.0 201.2h0M121.9 201.3h0M121.9 198.7h0M126.2 200.6h0M121.2 204.0h0M112.0 181.4h0M118.9 200.9h0M120.8 199.0h0M119.8 207.1h0M117.3 182.8h0M121.5 197.9h0M116.5 206.3h0M122.7 191.9h0M122.6 196.2h0M122.4 173.5h0M119.9 166.9h0M119.8 184.7h0M121.0 197.7h0M118.0 197.6h0M123.0 200.4h0M118.5 200.6h0M122.2 203.7h0M137.9 161.7h0M126.5 190.9h0M116.3 197.6h0M118.5 183.2h0M118.1 169.9h0M119.8 201.9h0M120.3 181.4h0M116.6 195.0h0M124.7 204.8h0M119.4 153.8h0M116.4 197.4h0M133.1 162.2h0M124.6 198.4h0M120.1 198.9h0M125.4 206.5h0M121.7 205.3h0M136.2 159.9h0M134.4 164.3h0M118.2 204.0h0M124.4 204.2h0M117.6 202.8h0M123.9 164.2h0M118.6 199.3h0M117.7 199.9h0M120.6 194.5h0M121.2 191.4h0M114.4 188.6h0M127.3 176.9h0M117.2 202.1h0M125.8 204.8h0M127.5 167.4h0M120.1 196.0h0M117.6 200.7h0M116.3 153.7h0M119.8 199.3h0M128.0 195.1h0M117.5 205.0h0M115.2 203.8h0M118.6 200.3h0M122.1 198.0h0M118.5 198.8h0M118.3 201.3h0M116.1 179.1h0M121.8 178.7h0M116.0 196.4h0M118.2 198.0h0M118.1 202.5h0M119.7 205.1h0M122.7 181.6h0M112.3 191.7h0M118.6 198.9h0M141.6 160.4h0M117.1 170.1h0M120.6 185.6h0M117.4 197.6h0M121.4 188.5h0M122.2 196.8h0M120.1 196.2h0M123.0 161.7h0M119.6 207.4h0M128.8 203.3h0M113.6 198.6h0M139.3 158.1h0M123.4 198.2h0M124.0 199.4h0M124.1 198.4h0M117.1 202.1h0M128.3 173.5h0M121.5 198.0h0M126.1 194.5h0M121.9 199.6h0M124.5 202.0h0M117.9 199.9h0M124.2 204.3h0M124.4 200.1h0M115.5 196.5h0M120.2 165.0h0M115.2 178.0h0M116.3 197.4h0M127.2 202.4h0M132.3 163.0h0M115.7 183.6h0M122.8 173.5h0M133.3 161.2h0M126.0 205.5h0M117.0 168.7h0M122.9 205.2h0M120.8 161.6h0M117.7 200.8h0M126.4 173.2h0M116.4 172.5h0M124.7 198.7h0M139.8 157.9h0M120.0 192.9h0M116.2 194.2h0M131.1 167.1h0M116.3 194.8h0M126.0 202.7h0M139.7 160.8h0M119.1 206.9h0M117.9 197.0h0M121.2 194.2h0M119.4 206.3h0M121.0 164.6h0M124.2 206.5h0M120.9 199.7h0M118.6 198.8h0M117.3 169.2h0M117.7 173.1h0M118.9 165.4h0M129.1 196.8h0M115.5 203.8h0M120.4 163.5h0M122.3 199.7h0M121.6 200.1h0M123.6 183.3h0M119.1 201.1h0M125.4 172.0h0M116.3 160.1h0M113.1 207.2h0M118.7 192.3h0M120.4 202.2h0M115.1 189.7h0M123.8 178.9h0M114.2 202.2h0M113.6 166.7h0M123.3 189.8h0M118.7 204.6h0M112.4 182.8h0M122.6 203.3h0M114.6 193.0h0M120.4 197.9h0M120.4 197.9h0M123.5 182.9h0M123.3 203.5h0M119.7 202.5h0M120.3 181.6h0M112.3 171.3h0M123.8 171.8h0M114.5 199.1h0M115.7 207.0h0M118.7 197.2h0M125.0 199.8h0M136.3 163.5h0M119.5 204.7h0M121.2 193.5h0M128.6 200.4h0M117.7 201.0h0M120.0 160.6h0M125.8 204.0h0M114.5 167.4h0M126.5 201.8h0M137.3 158.7h0M143.1 157.2h0M118.7 197.6h0M118.3 199.9h0M115.6 201.3h0M123.1 201.3h0M122.5 156.6h0M122.4 194.3h0M123.3 205.0h0M122.0 193.9h0M115.9 194.2h0M117.9 173.5h0M122.9 206.8h0M122.4 202.6h0M118.9 192.2h0M137.3 159.8h0M121.0 201.8h0M121.2 169.2h0M124.3 207.3h0M118.1 175.9h0M122.3 198.2h0M143.6 159.5h0M121.6 208.6h0M121.1 167.0h0M115.6 204.7h0M128.8 181.4h0M123.1 198.5h0M122.0 186.7h0M117.9 201.4h0M117.7 159.5h0M120.6 184.2h0M121.1 177.3h0M126.7 194.5h0M127.8 200.4h0M135.5 166.1h0M124.8 197.9h0M113.4 207.4h0M121.2 176.7h0M121.9 198.7h0M124.0 197.2h0M119.1 202.0h0M130.2 174.9h0M116.5 197.3h0M113.2 180.9h0M118.9 165.1h0M116.0 199.3h0M118.4 202.9h0M122.0 200.9h0M117.0 199.5h0M114.2 193.5h0M124.5 172.5h0M122.6 197.4h0M117.6 200.4h0M119.3 191.7h0M119.3 201.1h0M114.4 206.9h0M117.5 195.2h0M118.4 202.1h0M119.0 182.8h0M117.7 197.9h0M120.7 203.1h0M121.3 199.6h0M115.4 196.6h0M121.3 202.9h0M120.1 202.9h0M123.2 201.9h0M117.9 159.2h0M121.1 176.6h0M135.9 161.5h0M121.9 161.2h0M117.1 176.2h0M127.1 196.1h0M121.9 200.9h0M123.0 192.9h0M115.0 178.1h0M134.7 168.5h0M119.0 206.1h0M119.1 201.4h0M122.8 164.9h0M121.7 190.9h0M124.0 195.4h0M114.6 197.8h0M114.6 189.9h0M120.0 158.3h0M127.0 203.1h0M123.6 195.2h0M119.5 195.4h0M135.2 166.6h0M120.9 201.4h0M121.4 159.5h0M123.5 177.8h0M119.8 199.3h0M121.4 203.5h0M122.2 192.2h0M136.9 158.8h0M120.2 173.8h0M123.6 199.9h0M124.0 191.1h0M124.9 182.5h0M118.7 201.9h0M124.7 200.6h0M120.0 193.0h0M117.5 159.6h0M119.7 167.6h0M128.8 198.5h0M125.5 196.5h0M122.5 199.5h0M120.8 166.7h0M120.1 196.6h0M126.1 205.4h0M116.8 200.1h0M116.9 189.2h0M124.0 201.8h0M133.5 161.3h0M115.7 190.5h0M117.0 197.2h0M125.4 181.4h0M121.8 184.2h0M117.9 175.5h0M120.8 193.9h0M144.1 159.1h0M115.0 168.7h0M123.1 197.1h0M120.5 203.7h0M118.3 199.7h0M124.9 199.2h0M114.6 195.8h0M120.8 197.5h0M112.9 172.4h0M137.2 162.5h0M114.7 200.2h0M112.4 171.7h0M115.1 186.7h0M116.5 199.9h0M126.8 186.0h0M130.8 183.5h0M120.0 196.4h0M115.8 200.4h0M121.2 204.8h0M118.3 180.9h0M119.8 204.3h0M118.5 188.3h0M118.5 167.0h0M120.8 200.5h0M121.1 167.0h0M123.1 170.4h0M120.3 205.1h0M117.0 169.7h0M127.1 206.9h0M119.7 200.9h0M118.2 173.1h0M117.8 201.5h0M121.6 169.7h0M125.5 188.4h0M133.0 168.3h0M121.4 191.0h0M128.3 161.8h0M119.2 191.9h0M123.6 203.1h0M121.5 202.3h0M122.3 201.2h0M122.0 202.6h0M123.4 176.1h0M124.2 177.1h0M119.4 159.6h0M116.8 203.8h0M119.5 164.4h0M121.0 195.2h0M115.2 205.1h0M124.8 203.8h0M122.2 201.5h0M122.1 167.3h0M117.3 196.4h0M118.5 203.5h0M117.4 196.3h0M119.8 201.0h0M120.3 192.6h0M116.7 196.5h0M118.0 201.6h0M127.0 199.6h0M116.3 163.5h0M119.5 208.8h0M114.7 200.3h0M122.5 194.0h0" stroke="#000" stroke-opacity="0.45" stroke-width="1" stroke-linecap="square" fill="none"/>
<path d="M125.7 206.5h0M119.3 194.0h0M123.2 177.2h0M118.5 204.3h0M124.1 193.5h0M120.4 200.2h0M122.8 185.6h0M114.4 178.9h0M122.7 167.1h0M122.6 165.6h0M120.1 178.9h0M120.3 202.1h0M140.7 163.6h0M127.2 199.5h0M125.2 206.3h0M118.0 200.5h0M115.8 195.1h0M119.1 200.9h0M119.4 203.6h0M122.0 167.7h0M119.2 203.4h0M118.4 195.8h0M120.6 199.4h0M120.7 200.0h0M125.0 199.4h0M116.4 204.7h0M117.5 172.2h0M121.3 169.1h0M122.0 204.7h0M120.4 207.0h0M117.4 186.5h0M123.3 203.1h0M120.3 206.8h0M115.9 186.8h0M116.5 194.0h0M114.2 182.9h0M116.5 195.2h0M116.5 166.6h0M118.9 200.3h0M118.4 207.1h0M118.7 166.4h0M115.6 179.9h0M123.4 203.0h0M118.4 199.3h0M135.8 162.7h0M122.8 198.1h0M120.5 204.0h0M115.8 197.1h0M117.2 200.8h0M120.2 183.4h0M128.9 200.9h0M120.5 199.7h0M118.9 178.9h0M116.0 180.1h0M117.0 198.7h0M125.0 207.6h0M121.5 201.6h0M120.7 199.8h0M124.3 201.7h0M112.7 194.3h0M129.0 195.4h0M117.9 202.6h0M120.8 204.4h0M118.7 175.5h0M118.1 200.5h0M118.0 199.5h0M122.6 203.9h0M117.5 172.5h0M113.7 180.8h0M121.4 198.4h0M120.5 201.4h0M127.6 193.3h0M114.5 176.8h0M122.5 196.5h0M126.5 206.6h0M115.6 203.3h0M122.3 194.4h0M120.0 185.2h0M117.5 195.7h0M143.7 157.6h0M122.6 193.2h0M113.6 205.2h0M115.4 177.1h0M123.0 198.8h0M118.1 200.7h0M121.1 168.2h0M120.0 191.8h0M120.0 182.3h0M122.5 200.4h0M120.0 201.2h0M122.2 184.5h0M137.5 161.3h0M116.3 175.9h0M122.6 205.6h0M112.5 195.6h0M120.0 204.5h0M115.0 198.8h0M114.4 202.1h0M122.2 200.6h0M120.3 201.7h0M118.5 199.7h0M120.8 180.4h0M119.6 197.3h0M120.3 197.5h0M120.7 197.0h0M120.8 198.0h0M126.4 178.3h0M121.3 208.5h0M120.0 205.3h0M119.0 198.7h0M122.7 199.5h0M115.6 184.1h0M125.0 173.3h0M119.9 164.1h0M123.2 198.8h0M115.8 174.9h0M127.6 202.5h0M116.9 180.9h0M112.3 171.7h0M118.1 177.6h0M129.8 170.8h0M142.1 157.1h0M118.6 197.9h0M125.0 196.7h0M112.7 206.4h0M125.7 173.3h0M115.6 197.7h0M115.6 193.7h0M115.9 166.4h0M125.1 196.2h0M140.2 162.3h0M123.9 165.1h0M123.9 179.9h0M128.0 201.9h0M122.1 200.6h0M126.1 199.8h0M128.2 205.3h0M145.1 159.9h0M119.0 200.1h0M121.8 167.7h0M114.7 170.3h0M121.5 195.3h0M116.7 161.5h0M119.1 185.5h0M118.7 169.9h0M120.0 199.5h0M115.7 202.6h0M123.0 195.2h0M133.1 173.9h0M116.5 183.7h0M113.3 203.0h0M122.2 201.2h0M114.5 200.7h0M122.5 175.0h0M117.8 197.9h0M116.9 200.2h0M143.1 159.5h0M122.3 197.5h0M116.5 166.3h0M118.6 172.3h0M124.2 197.6h0M127.9 198.3h0M138.4 168.7h0M119.0 188.2h0M121.0 191.7h0M114.6 191.8h0M122.7 171.6h0M123.3 166.0h0M119.3 202.7h0M123.5 196.2h0M133.1 163.8h0M124.3 196.0h0M127.3 206.4h0M114.4 198.7h0M131.6 162.6h0M112.7 180.8h0M118.8 203.1h0M124.8 167.7h0M120.8 199.8h0M118.3 159.4h0M114.4 168.7h0M118.1 201.5h0M128.4 179.7h0M121.3 166.6h0M115.8 161.5h0M116.2 203.3h0M124.8 187.0h0M120.7 202.1h0M123.2 201.6h0M123.8 203.4h0M125.6 170.0h0M118.6 199.8h0M116.8 160.7h0M122.9 193.5h0M115.8 203.2h0M118.7 161.4h0M128.4 167.4h0M122.4 202.1h0M122.3 203.5h0M117.1 192.4h0M127.3 181.5h0M122.7 183.1h0M123.8 177.1h0M118.1 199.4h0M121.6 201.1h0M123.5 198.7h0M122.4 206.1h0M142.1 159.2h0M119.3 202.3h0M124.3 193.4h0M121.2 192.5h0M121.4 203.5h0M121.0 207.4h0M123.2 196.0h0M125.2 204.9h0M119.7 202.4h0M117.6 195.3h0M122.1 208.4h0M120.0 196.6h0M116.3 167.0h0M122.8 205.8h0M121.2 201.5h0M111.9 198.7h0M114.0 203.0h0M121.5 193.4h0M120.2 199.2h0M120.3 157.0h0M126.0 185.4h0M120.2 193.6h0M117.3 198.3h0M134.1 164.9h0M121.3 173.7h0M123.2 199.8h0M120.7 200.5h0M120.1 164.6h0M119.5 184.8h0M122.0 195.6h0M118.0 185.2h0M138.5 159.4h0M138.8 159.9h0M112.5 187.1h0M125.7 201.2h0M121.7 195.6h0M118.3 201.2h0M123.9 198.8h0M113.8 172.9h0M125.7 172.1h0M120.4 202.5h0M124.2 201.9h0M121.5 202.9h0M119.8 200.1h0M122.4 198.2h0M123.0 200.6h0M121.4 204.1h0M117.9 167.5h0M122.3 186.4h0M121.9 203.5h0M130.8 164.8h0M123.1 203.3h0M116.1 201.7h0M119.9 196.9h0M118.1 197.4h0M134.7 165.0h0M120.7 207.3h0M119.8 200.8h0M113.0 196.1h0M119.2 202.1h0M120.0 198.5h0M113.5 201.0h0M118.8 161.4h0M121.4 193.1h0M120.8 168.4h0M138.5 161.7h0M118.6 198.3h0M125.1 199.4h0M119.4 195.1h0M122.6 199.7h0M118.7 194.9h0M117.1 165.7h0M122.6 198.1h0M117.5 197.2h0M119.8 180.7h0M117.1 198.8h0M116.9 177.9h0M121.8 198.9h0M118.6 207.9h0M120.6 198.0h0M120.3 198.4h0M119.0 168.8h0M124.1 204.6h0M118.4 158.3h0M119.8 158.9h0M121.3 201.2h0M123.8 201.0h0M119.8 181.0h0M120.1 194.3h0M123.7 202.5h0M124.4 200.8h0M128.8 175.1h0M117.8 197.2h0M124.0 194.3h0M117.2 176.6h0M124.3 182.7h0M125.4 162.9h0M117.2 200.4h0M119.9 191.6h0M125.6 195.2h0M123.5 203.6h0M124.6 184.1h0M124.0 192.9h0M119.8 179.6h0M121.6 177.7h0M123.0 198.6h0M123.5 200.2h0M123.6 203.7h0M120.5 198.1h0M123.9 198.4h0M120.7 202.0h0M124.3 169.9h0M125.9 162.8h0M122.8 202.1h0M121.9 197.4h0M120.6 182.3h0M138.9 160.2h0M119.2 203.2h0M119.7 202.8h0M119.2 159.2h0M114.5 175.2h0M119.4 183.5h0M117.5 201.5h0M118.1 199.1h0M120.0 177.0h0M119.2 204.0h0M139.6 160.1h0M119.0 204.1h0M120.6 167.1h0M123.2 168.9h0M120.6 179.3h0M118.2 178.7h0M114.9 169.9h0M117.7 206.6h0M122.8 193.4h0M113.3 172.4h0M116.3 201.0h0M121.5 200.1h0M120.6 199.6h0M118.1 194.4h0M116.2 206.9h0M119.4 194.5h0M118.0 164.4h0M117.1 197.1h0M131.5 160.1h0M127.8 201.9h0M118.0 171.9h0M123.1 176.6h0M120.8 197.5h0M121.7 201.7h0M114.5 196.6h0M144.0 156.3h0M117.2 177.4h0M114.1 201.3h0M122.9 204.7h0M121.6 202.5h0M115.5 194.0h0M121.1 201.9h0M115.8 196.5h0M121.5 169.8h0M126.4 199.1h0M112.6 176.5h0M120.9 207.5h0M140.4 162.0h0M119.9 200.0h0M125.7 199.7h0M121.9 198.1h0M114.6 208.3h0M119.4 163.4h0M124.9 200.8h0M122.0 203.7h0M116.4 173.8h0M121.0 198.8h0M120.7 163.9h0M118.9 203.3h0M119.2 200.6h0M115.6 180.7h0M121.3 202.1h0M124.3 195.5h0M119.9 203.5h0M121.8 196.4h0M124.1 203.6h0M115.2 180.9h0M139.6 163.2h0M125.4 170.8h0M124.6 205.2h0M121.2 204.0h0M119.1 188.2h0M121.2 181.5h0M125.2 180.8h0M121.2 197.0h0M123.7 200.1h0M122.3 162.1h0M116.7 202.1h0M139.3 160.6h0M127.1 204.1h0" stroke="#000" stroke-opacity="0.45" stroke-width="1" stroke-linecap="square" fill="none"/>
<rect x="111.5" y="138.8" width="75.19999999999999" height="70.19999999999999" fill="none" stroke="#444" stroke-width="0.9"/>
<line x1="130.5" y1="138.8" x2="130.5" y2="209.0" stroke="#222" stroke-width="0.9"/>
<line x1="111.5" y1="193.5" x2="186.7" y2="193.5" stroke="#222" stroke-width="0.9"/>
<line x1="106.5" y1="191.4" x2="111.5" y2="191.4" stroke="#555" stroke-width="0.85"/>
<line x1="106.5" y1="173.9" x2="111.5" y2="173.9" stroke="#555" stroke-width="0.85"/>
<line x1="106.5" y1="156.4" x2="111.5" y2="156.4" stroke="#555" stroke-width="0.85"/>
<line x1="106.5" y1="138.8" x2="111.5" y2="138.8" stroke="#555" stroke-width="0.85"/>
<line x1="130.3" y1="209.0" x2="130.3" y2="214.5" stroke="#555" stroke-width="0.85"/>
<line x1="149.1" y1="209.0" x2="149.1" y2="214.5" stroke="#555" stroke-width="0.85"/>
<line x1="167.9" y1="209.0" x2="167.9" y2="214.5" stroke="#555" stroke-width="0.85"/>
<line x1="186.7" y1="209.0" x2="186.7" y2="214.5" stroke="#555" stroke-width="0.85"/>
<line x1="109.5" y1="203.7" x2="111.5" y2="203.7" stroke="#aaa" stroke-width="0.5"/>
<line x1="117.2" y1="209.0" x2="117.2" y2="211.0" stroke="#aaa" stroke-width="0.5"/>
<line x1="109.5" y1="200.6" x2="111.5" y2="200.6" stroke="#aaa" stroke-width="0.5"/>
<line x1="120.5" y1="209.0" x2="120.5" y2="211.0" stroke="#aaa" stroke-width="0.5"/>
<line x1="109.5" y1="198.4" x2="111.5" y2="198.4" stroke="#aaa" stroke-width="0.5"/>
<line x1="122.8" y1="209.0" x2="122.8" y2="211.0" stroke="#aaa" stroke-width="0.5"/>
<line x1="109.5" y1="196.7" x2="111.5" y2="196.7" stroke="#aaa" stroke-width="0.5"/>
<line x1="124.6" y1="209.0" x2="124.6" y2="211.0" stroke="#aaa" stroke-width="0.5"/>
<line x1="109.5" y1="195.3" x2="111.5" y2="195.3" stroke="#aaa" stroke-width="0.5"/>
<line x1="126.1" y1="209.0" x2="126.1" y2="211.0" stroke="#aaa" stroke-width="0.5"/>
<line x1="109.5" y1="194.2" x2="111.5" y2="194.2" stroke="#aaa" stroke-width="0.5"/>
<line x1="127.4" y1="209.0" x2="127.4" y2="211.0" stroke="#aaa" stroke-width="0.5"/>
<line x1="109.5" y1="193.2" x2="111.5" y2="193.2" stroke="#aaa" stroke-width="0.5"/>
<line x1="128.5" y1="209.0" x2="128.5" y2="211.0" stroke="#aaa" stroke-width="0.5"/>
<line x1="109.5" y1="192.3" x2="111.5" y2="192.3" stroke="#aaa" stroke-width="0.5"/>
<line x1="129.4" y1="209.0" x2="129.4" y2="211.0" stroke="#aaa" stroke-width="0.5"/>
<line x1="109.5" y1="186.2" x2="111.5" y2="186.2" stroke="#aaa" stroke-width="0.5"/>
<line x1="136.0" y1="209.0" x2="136.0" y2="211.0" stroke="#aaa" stroke-width="0.5"/>
<line x1="109.5" y1="183.1" x2="111.5" y2="183.1" stroke="#aaa" stroke-width="0.5"/>
<line x1="139.3" y1="209.0" x2="139.3" y2="211.0" stroke="#aaa" stroke-width="0.5"/>
<line x1="109.5" y1="180.9" x2="111.5" y2="180.9" stroke="#aaa" stroke-width="0.5"/>
<line x1="141.6" y1="209.0" x2="141.6" y2="211.0" stroke="#aaa" stroke-width="0.5"/>
<line x1="109.5" y1="179.2" x2="111.5" y2="179.2" stroke="#aaa" stroke-width="0.5"/>
<line x1="143.4" y1="209.0" x2="143.4" y2="211.0" stroke="#aaa" stroke-width="0.5"/>
<line x1="109.5" y1="177.8" x2="111.5" y2="177.8" stroke="#aaa" stroke-width="0.5"/>
<line x1="144.9" y1="209.0" x2="144.9" y2="211.0" stroke="#aaa" stroke-width="0.5"/>
<line x1="109.5" y1="176.6" x2="111.5" y2="176.6" stroke="#aaa" stroke-width="0.5"/>
<line x1="146.2" y1="209.0" x2="146.2" y2="211.0" stroke="#aaa" stroke-width="0.5"/>
<line x1="109.5" y1="175.6" x2="111.5" y2="175.6" stroke="#aaa" stroke-width="0.5"/>
<line x1="147.3" y1="209.0" x2="147.3" y2="211.0" stroke="#aaa" stroke-width="0.5"/>
<line x1="109.5" y1="174.7" x2="111.5" y2="174.7" stroke="#aaa" stroke-width="0.5"/>
<line x1="148.2" y1="209.0" x2="148.2" y2="211.0" stroke="#aaa" stroke-width="0.5"/>
<line x1="109.5" y1="168.6" x2="111.5" y2="168.6" stroke="#aaa" stroke-width="0.5"/>
<line x1="154.8" y1="209.0" x2="154.8" y2="211.0" stroke="#aaa" stroke-width="0.5"/>
<line x1="109.5" y1="165.5" x2="111.5" y2="165.5" stroke="#aaa" stroke-width="0.5"/>
<line x1="158.1" y1="209.0" x2="158.1" y2="211.0" stroke="#aaa" stroke-width="0.5"/>
<line x1="109.5" y1="163.3" x2="111.5" y2="163.3" stroke="#aaa" stroke-width="0.5"/>
<line x1="160.4" y1="209.0" x2="160.4" y2="211.0" stroke="#aaa" stroke-width="0.5"/>
<line x1="109.5" y1="161.6" x2="111.5" y2="161.6" stroke="#aaa" stroke-width="0.5"/>
<line x1="162.2" y1="209.0" x2="162.2" y2="211.0" stroke="#aaa" stroke-width="0.5"/>
<line x1="109.5" y1="160.2" x2="111.5" y2="160.2" stroke="#aaa" stroke-width="0.5"/>
<line x1="163.7" y1="209.0" x2="163.7" y2="211.0" stroke="#aaa" stroke-width="0.5"/>
<line x1="109.5" y1="159.1" x2="111.5" y2="159.1" stroke="#aaa" stroke-width="0.5"/>
<line x1="165.0" y1="209.0" x2="165.0" y2="211.0" stroke="#aaa" stroke-width="0.5"/>
<line x1="109.5" y1="158.1" x2="111.5" y2="158.1" stroke="#aaa" stroke-width="0.5"/>
<line x1="166.1" y1="209.0" x2="166.1" y2="211.0" stroke="#aaa" stroke-width="0.5"/>
<line x1="109.5" y1="157.2" x2="111.5" y2="157.2" stroke="#aaa" stroke-width="0.5"/>
<line x1="167.0" y1="209.0" x2="167.0" y2="211.0" stroke="#aaa" stroke-width="0.5"/>
<line x1="109.5" y1="151.1" x2="111.5" y2="151.1" stroke="#aaa" stroke-width="0.5"/>
<line x1="173.6" y1="209.0" x2="173.6" y2="211.0" stroke="#aaa" stroke-width="0.5"/>
<line x1="109.5" y1="148.0" x2="111.5" y2="148.0" stroke="#aaa" stroke-width="0.5"/>
<line x1="176.9" y1="209.0" x2="176.9" y2="211.0" stroke="#aaa" stroke-width="0.5"/>
<line x1="109.5" y1="145.8" x2="111.5" y2="145.8" stroke="#aaa" stroke-width="0.5"/>
<line x1="179.2" y1="209.0" x2="179.2" y2="211.0" stroke="#aaa" stroke-width="0.5"/>
<line x1="109.5" y1="144.1" x2="111.5" y2="144.1" stroke="#aaa" stroke-width="0.5"/>
<line x1="181.0" y1="209.0" x2="181.0" y2="211.0" stroke="#aaa" stroke-width="0.5"/>
<line x1="109.5" y1="142.7" x2="111.5" y2="142.7" stroke="#aaa" stroke-width="0.5"/>
<line x1="182.5" y1="209.0" x2="182.5" y2="211.0" stroke="#aaa" stroke-width="0.5"/>
<line x1="109.5" y1="141.5" x2="111.5" y2="141.5" stroke="#aaa" stroke-width="0.5"/>
<line x1="183.8" y1="209.0" x2="183.8" y2="211.0" stroke="#aaa" stroke-width="0.5"/>
<line x1="109.5" y1="140.5" x2="111.5" y2="140.5" stroke="#aaa" stroke-width="0.5"/>
<line x1="184.9" y1="209.0" x2="184.9" y2="211.0" stroke="#aaa" stroke-width="0.5"/>
<line x1="109.5" y1="139.6" x2="111.5" y2="139.6" stroke="#aaa" stroke-width="0.5"/>
<line x1="185.8" y1="209.0" x2="185.8" y2="211.0" stroke="#aaa" stroke-width="0.5"/>
<text x="119.9" y="149.3" font-size="10.2" text-anchor="middle">51</text>
<text x="176.45" y="149.4" font-size="10.2" text-anchor="middle">2.5</text>
<text x="180.5" y="206.5" font-size="10.2" text-anchor="middle">0</text>
<line x1="6.3" y1="46" x2="6.3" y2="104.6" stroke="#000" stroke-width="1.4"/>
<path d="M2 47.8 L6.4 39 L10.9 47.8 Z" fill="#000"/>
<text transform="translate(12.4,138.6) rotate(-90)" font-size="14" font-weight="bold">CD3</text>
<line x1="6.3" y1="143.7" x2="6.3" y2="210" stroke="#000" stroke-width="1.4"/>
<line x1="22" y1="124.1" x2="78.3" y2="124.1" stroke="#000" stroke-width="1.4"/>
<line x1="130.6" y1="124.1" x2="179.8" y2="124.1" stroke="#000" stroke-width="1.4"/>
<path d="M178.8 119.69999999999999 L187.6 124.1 L178.8 128.5 Z" fill="#000"/>
<text x="81.6" y="129.4" font-size="15" font-weight="bold" textLength="28.0" lengthAdjust="spacingAndGlyphs">TCR</text>
<text x="109.6" y="129.4" font-size="15.5" textLength="17.6" lengthAdjust="spacingAndGlyphs">αβ</text>
<line x1="22" y1="222.6" x2="79.6" y2="222.6" stroke="#000" stroke-width="1.4"/>
<line x1="130.4" y1="222.6" x2="179.2" y2="222.6" stroke="#000" stroke-width="1.4"/>
<path d="M178.2 218.2 L187.0 222.6 L178.2 227.0 Z" fill="#000"/>
<text x="84.2" y="228.1" font-size="15" font-weight="bold" textLength="27.6" lengthAdjust="spacingAndGlyphs">TCR</text>
<text x="110.9" y="228.1" font-size="15.5" textLength="15.0" lengthAdjust="spacingAndGlyphs">γδ</text>
<line x1="250.4" y1="38.0" x2="250.4" y2="197.3" stroke="#000" stroke-width="1.2"/>
<line x1="246.6" y1="197.3" x2="345.2" y2="197.3" stroke="#000" stroke-width="1.2"/>
<line x1="246.6" y1="197.3" x2="250.4" y2="197.3" stroke="#000" stroke-width="1.1"/>
<text x="244.4" y="201.2" font-size="11.1" text-anchor="end">1</text>
<line x1="248.4" y1="181.3" x2="250.4" y2="181.3" stroke="#000" stroke-width="0.8"/>
<line x1="248.4" y1="172.0" x2="250.4" y2="172.0" stroke="#000" stroke-width="0.8"/>
<line x1="248.4" y1="165.3" x2="250.4" y2="165.3" stroke="#000" stroke-width="0.8"/>
<line x1="248.4" y1="160.2" x2="250.4" y2="160.2" stroke="#000" stroke-width="0.8"/>
<line x1="248.4" y1="156.0" x2="250.4" y2="156.0" stroke="#000" stroke-width="0.8"/>
<line x1="248.4" y1="152.4" x2="250.4" y2="152.4" stroke="#000" stroke-width="0.8"/>
<line x1="248.4" y1="149.3" x2="250.4" y2="149.3" stroke="#000" stroke-width="0.8"/>
<line x1="248.4" y1="146.6" x2="250.4" y2="146.6" stroke="#000" stroke-width="0.8"/>
<line x1="246.6" y1="144.2" x2="250.4" y2="144.2" stroke="#000" stroke-width="1.1"/>
<text x="244.4" y="148.1" font-size="11.1" text-anchor="end">10</text>
<line x1="248.4" y1="128.2" x2="250.4" y2="128.2" stroke="#000" stroke-width="0.8"/>
<line x1="248.4" y1="118.9" x2="250.4" y2="118.9" stroke="#000" stroke-width="0.8"/>
<line x1="248.4" y1="112.2" x2="250.4" y2="112.2" stroke="#000" stroke-width="0.8"/>
<line x1="248.4" y1="107.1" x2="250.4" y2="107.1" stroke="#000" stroke-width="0.8"/>
<line x1="248.4" y1="102.9" x2="250.4" y2="102.9" stroke="#000" stroke-width="0.8"/>
<line x1="248.4" y1="99.3" x2="250.4" y2="99.3" stroke="#000" stroke-width="0.8"/>
<line x1="248.4" y1="96.2" x2="250.4" y2="96.2" stroke="#000" stroke-width="0.8"/>
<line x1="248.4" y1="93.5" x2="250.4" y2="93.5" stroke="#000" stroke-width="0.8"/>
<line x1="246.6" y1="91.1" x2="250.4" y2="91.1" stroke="#000" stroke-width="1.1"/>
<text x="244.4" y="95.0" font-size="11.1" text-anchor="end">100</text>
<line x1="248.4" y1="75.1" x2="250.4" y2="75.1" stroke="#000" stroke-width="0.8"/>
<line x1="248.4" y1="65.8" x2="250.4" y2="65.8" stroke="#000" stroke-width="0.8"/>
<line x1="248.4" y1="59.1" x2="250.4" y2="59.1" stroke="#000" stroke-width="0.8"/>
<line x1="248.4" y1="54.0" x2="250.4" y2="54.0" stroke="#000" stroke-width="0.8"/>
<line x1="248.4" y1="49.8" x2="250.4" y2="49.8" stroke="#000" stroke-width="0.8"/>
<line x1="248.4" y1="46.2" x2="250.4" y2="46.2" stroke="#000" stroke-width="0.8"/>
<line x1="248.4" y1="43.1" x2="250.4" y2="43.1" stroke="#000" stroke-width="0.8"/>
<line x1="248.4" y1="40.4" x2="250.4" y2="40.4" stroke="#000" stroke-width="0.8"/>
<line x1="246.6" y1="38.0" x2="250.4" y2="38.0" stroke="#000" stroke-width="1.1"/>
<text x="244.4" y="41.9" font-size="11.1" text-anchor="end">1000</text>
<line x1="276.79999999999995" y1="55.1" x2="276.79999999999995" y2="66.0" stroke="#000" stroke-width="1.15"/>
<line x1="273.79999999999995" y1="55.1" x2="279.79999999999995" y2="55.1" stroke="#000" stroke-width="1.2"/>
<rect x="262.4" y="66.0" width="28.80000000000001" height="131.3" fill="#fff" stroke="#000" stroke-width="1.2"/>
<line x1="321.54999999999995" y1="124.5" x2="321.54999999999995" y2="132.7" stroke="#000" stroke-width="1.15"/>
<line x1="318.54999999999995" y1="124.5" x2="324.54999999999995" y2="124.5" stroke="#000" stroke-width="1.2"/>
<rect x="306.9" y="132.7" width="29.30000000000001" height="64.6" fill="#000" stroke="#000" stroke-width="1.2"/>
<text transform="translate(212.8,175.5) rotate(-90)" font-size="11.7">Ratio TCRαβ<tspan dy="-4" font-size="7">+</tspan><tspan dy="4">/TCRγδ</tspan><tspan dy="-4" font-size="7">+</tspan></text>
<line x1="406.5" y1="37.3" x2="406.5" y2="197.4" stroke="#000" stroke-width="1"/>
<line x1="404.0" y1="197.4" x2="514.5" y2="197.4" stroke="#000" stroke-width="1"/>
<line x1="403.0" y1="196.9" x2="406.5" y2="196.9" stroke="#000" stroke-width="1"/>
<text x="401.3" y="200.8" font-size="11.1" text-anchor="end">0.1</text>
<line x1="404.5" y1="180.9" x2="406.5" y2="180.9" stroke="#000" stroke-width="0.8"/>
<line x1="404.5" y1="171.5" x2="406.5" y2="171.5" stroke="#000" stroke-width="0.8"/>
<line x1="404.5" y1="164.9" x2="406.5" y2="164.9" stroke="#000" stroke-width="0.8"/>
<line x1="404.5" y1="159.7" x2="406.5" y2="159.7" stroke="#000" stroke-width="0.8"/>
<line x1="404.5" y1="155.5" x2="406.5" y2="155.5" stroke="#000" stroke-width="0.8"/>
<line x1="404.5" y1="151.9" x2="406.5" y2="151.9" stroke="#000" stroke-width="0.8"/>
<line x1="404.5" y1="148.9" x2="406.5" y2="148.9" stroke="#000" stroke-width="0.8"/>
<line x1="404.5" y1="146.1" x2="406.5" y2="146.1" stroke="#000" stroke-width="0.8"/>
<line x1="403.0" y1="143.7" x2="406.5" y2="143.7" stroke="#000" stroke-width="1"/>
<text x="401.3" y="147.6" font-size="11.1" text-anchor="end">1</text>
<line x1="404.5" y1="127.7" x2="406.5" y2="127.7" stroke="#000" stroke-width="0.8"/>
<line x1="404.5" y1="118.3" x2="406.5" y2="118.3" stroke="#000" stroke-width="0.8"/>
<line x1="404.5" y1="111.7" x2="406.5" y2="111.7" stroke="#000" stroke-width="0.8"/>
<line x1="404.5" y1="106.5" x2="406.5" y2="106.5" stroke="#000" stroke-width="0.8"/>
<line x1="404.5" y1="102.3" x2="406.5" y2="102.3" stroke="#000" stroke-width="0.8"/>
<line x1="404.5" y1="98.7" x2="406.5" y2="98.7" stroke="#000" stroke-width="0.8"/>
<line x1="404.5" y1="95.7" x2="406.5" y2="95.7" stroke="#000" stroke-width="0.8"/>
<line x1="404.5" y1="92.9" x2="406.5" y2="92.9" stroke="#000" stroke-width="0.8"/>
<line x1="403.0" y1="90.5" x2="406.5" y2="90.5" stroke="#000" stroke-width="1"/>
<text x="401.3" y="94.4" font-size="11.1" text-anchor="end">10</text>
<line x1="404.5" y1="74.5" x2="406.5" y2="74.5" stroke="#000" stroke-width="0.8"/>
<line x1="404.5" y1="65.1" x2="406.5" y2="65.1" stroke="#000" stroke-width="0.8"/>
<line x1="404.5" y1="58.5" x2="406.5" y2="58.5" stroke="#000" stroke-width="0.8"/>
<line x1="404.5" y1="53.3" x2="406.5" y2="53.3" stroke="#000" stroke-width="0.8"/>
<line x1="404.5" y1="49.1" x2="406.5" y2="49.1" stroke="#000" stroke-width="0.8"/>
<line x1="404.5" y1="45.5" x2="406.5" y2="45.5" stroke="#000" stroke-width="0.8"/>
<line x1="404.5" y1="42.5" x2="406.5" y2="42.5" stroke="#000" stroke-width="0.8"/>
<line x1="404.5" y1="39.7" x2="406.5" y2="39.7" stroke="#000" stroke-width="0.8"/>
<line x1="403.0" y1="37.3" x2="406.5" y2="37.3" stroke="#000" stroke-width="1"/>
<text x="401.3" y="41.2" font-size="11.1" text-anchor="end">100</text>
<line x1="406.5" y1="197.4" x2="406.5" y2="200.5" stroke="#000" stroke-width="1"/>
<text x="406.5" y="213" font-size="11.3" text-anchor="middle">0</text>
<line x1="427.9" y1="197.4" x2="427.9" y2="200.5" stroke="#000" stroke-width="1"/>
<text x="427.9" y="213" font-size="11.3" text-anchor="middle">5</text>
<line x1="449.4" y1="197.4" x2="449.4" y2="200.5" stroke="#000" stroke-width="1"/>
<text x="449.4" y="213" font-size="11.3" text-anchor="middle">10</text>
<line x1="470.8" y1="197.4" x2="470.8" y2="200.5" stroke="#000" stroke-width="1"/>
<text x="470.8" y="213" font-size="11.3" text-anchor="middle">15</text>
<line x1="492.2" y1="197.4" x2="492.2" y2="200.5" stroke="#000" stroke-width="1"/>
<text x="492.2" y="213" font-size="11.3" text-anchor="middle">20</text>
<line x1="513.6" y1="197.4" x2="513.6" y2="200.5" stroke="#000" stroke-width="1"/>
<text x="513.6" y="213" font-size="11.3" text-anchor="middle">25</text>
<text x="448.8" y="227.6" font-size="11.5">Days</text>
<polyline points="406.8,177.8 458.9,59.7 487.9,54.8 513.5,82.6" fill="none" stroke="#000" stroke-width="1.25"/>
<polyline points="406.8,177.3 459.2,111.1 486.8,115.0 513.3,162.6" fill="none" stroke="#000" stroke-width="1.25"/>
<rect x="403.85" y="177.95" width="5.7" height="5.7" fill="#000"/>
<rect x="456.05" y="56.85" width="5.7" height="5.7" fill="#000"/>
<rect x="485.05" y="51.90" width="5.7" height="5.7" fill="#000"/>
<rect x="510.65" y="79.75" width="5.7" height="5.7" fill="#000"/>
<circle cx="459.2" cy="111.1" r="2.4" fill="#fff" stroke="#000" stroke-width="1.2"/>
<circle cx="486.8" cy="115.0" r="2.4" fill="#fff" stroke="#000" stroke-width="1.2"/>
<circle cx="513.3" cy="162.6" r="2.4" fill="#fff" stroke="#000" stroke-width="1.2"/>
<text transform="translate(378.8,182.2) rotate(-90)" font-size="12">Total cell numbers (x10<tspan dy="-4.5" font-size="7.5">-4</tspan><tspan dy="4.5">)</tspan></text>
<defs><pattern id="h" patternUnits="userSpaceOnUse" width="2.95" height="4" patternTransform="rotate(-45)"><rect width="2.95" height="4" fill="#fff"/><rect x="0" y="0" width="1.05" height="4" fill="#000"/></pattern></defs>
<line x1="83.1" y1="291.3" x2="83.1" y2="397.6" stroke="#000" stroke-width="1.2"/>
<line x1="82.5" y1="397" x2="222.7" y2="397" stroke="#000" stroke-width="1.2"/>
<line x1="78.6" y1="396.9" x2="83.1" y2="396.9" stroke="#000" stroke-width="1.1"/>
<text x="77.6" y="400.9" font-size="11.5" text-anchor="end">0</text>
<line x1="80.1" y1="387.0" x2="83.1" y2="387.0" stroke="#000" stroke-width="1.1"/>
<line x1="78.6" y1="376.3" x2="83.1" y2="376.3" stroke="#000" stroke-width="1.1"/>
<text x="77.6" y="380.3" font-size="11.5" text-anchor="end">20</text>
<line x1="80.1" y1="365.5" x2="83.1" y2="365.5" stroke="#000" stroke-width="1.1"/>
<line x1="78.6" y1="355.3" x2="83.1" y2="355.3" stroke="#000" stroke-width="1.1"/>
<text x="77.6" y="359.3" font-size="11.5" text-anchor="end">40</text>
<line x1="80.1" y1="345.1" x2="83.1" y2="345.1" stroke="#000" stroke-width="1.1"/>
<line x1="78.6" y1="334.0" x2="83.1" y2="334.0" stroke="#000" stroke-width="1.1"/>
<text x="77.6" y="338.0" font-size="11.5" text-anchor="end">60</text>
<line x1="80.1" y1="323.8" x2="83.1" y2="323.8" stroke="#000" stroke-width="1.1"/>
<line x1="78.6" y1="313.2" x2="83.1" y2="313.2" stroke="#000" stroke-width="1.1"/>
<text x="77.6" y="317.2" font-size="11.5" text-anchor="end">80</text>
<line x1="80.1" y1="302.4" x2="83.1" y2="302.4" stroke="#000" stroke-width="1.1"/>
<line x1="78.6" y1="291.8" x2="83.1" y2="291.8" stroke="#000" stroke-width="1.1"/>
<text x="77.6" y="295.8" font-size="11.5" text-anchor="end">100</text>
<rect x="94.3" y="292.00" width="15.600000000000009" height="105.00" fill="url(#h)" stroke="#000" stroke-width="1.15"/>
<rect x="131.3" y="355.52" width="16.19999999999999" height="41.48" fill="url(#h)" stroke="#000" stroke-width="1.15"/>
<rect x="131.3" y="292.00" width="16.19999999999999" height="63.53" fill="#fff" stroke="#000" stroke-width="1.15"/>
<rect x="169.6" y="384.61" width="15.0" height="12.39" fill="url(#h)" stroke="#000" stroke-width="1.15"/>
<rect x="169.6" y="295.88" width="15.0" height="88.73" fill="#fff" stroke="#000" stroke-width="1.15"/>
<rect x="169.6" y="293.26" width="15.0" height="2.62" fill="#bcbcbc" stroke="#000" stroke-width="1.15"/>
<rect x="206.9" y="385.24" width="15.5" height="11.76" fill="url(#h)" stroke="#000" stroke-width="1.15"/>
<rect x="206.9" y="305.33" width="15.5" height="79.91" fill="#fff" stroke="#000" stroke-width="1.15"/>
<rect x="206.9" y="292.74" width="15.5" height="12.60" fill="#bcbcbc" stroke="#000" stroke-width="1.15"/>
<line x1="257.4" y1="291.3" x2="257.4" y2="397.6" stroke="#000" stroke-width="1.2"/>
<line x1="256.79999999999995" y1="397" x2="395" y2="397" stroke="#000" stroke-width="1.2"/>
<line x1="252.89999999999998" y1="396.9" x2="257.4" y2="396.9" stroke="#000" stroke-width="1.1"/>
<line x1="254.39999999999998" y1="387.0" x2="257.4" y2="387.0" stroke="#000" stroke-width="1.1"/>
<line x1="252.89999999999998" y1="376.3" x2="257.4" y2="376.3" stroke="#000" stroke-width="1.1"/>
<line x1="254.39999999999998" y1="365.5" x2="257.4" y2="365.5" stroke="#000" stroke-width="1.1"/>
<line x1="252.89999999999998" y1="355.3" x2="257.4" y2="355.3" stroke="#000" stroke-width="1.1"/>
<line x1="254.39999999999998" y1="345.1" x2="257.4" y2="345.1" stroke="#000" stroke-width="1.1"/>
<line x1="252.89999999999998" y1="334.0" x2="257.4" y2="334.0" stroke="#000" stroke-width="1.1"/>
<line x1="254.39999999999998" y1="323.8" x2="257.4" y2="323.8" stroke="#000" stroke-width="1.1"/>
<line x1="252.89999999999998" y1="313.2" x2="257.4" y2="313.2" stroke="#000" stroke-width="1.1"/>
<line x1="254.39999999999998" y1="302.4" x2="257.4" y2="302.4" stroke="#000" stroke-width="1.1"/>
<line x1="252.89999999999998" y1="291.8" x2="257.4" y2="291.8" stroke="#000" stroke-width="1.1"/>
<rect x="268.3" y="292.00" width="15.099999999999966" height="105.00" fill="url(#h)" stroke="#000" stroke-width="1.15"/>
<rect x="304.8" y="340.30" width="15.699999999999989" height="56.70" fill="url(#h)" stroke="#000" stroke-width="1.15"/>
<rect x="304.8" y="292.00" width="15.699999999999989" height="48.30" fill="#fff" stroke="#000" stroke-width="1.15"/>
<rect x="342.8" y="362.14" width="14.800000000000011" height="34.86" fill="url(#h)" stroke="#000" stroke-width="1.15"/>
<rect x="342.8" y="295.68" width="14.800000000000011" height="66.47" fill="#fff" stroke="#000" stroke-width="1.15"/>
<rect x="342.8" y="293.89" width="14.800000000000011" height="1.79" fill="#000" stroke="#000" stroke-width="1.15"/>
<rect x="342.8" y="292.00" width="14.800000000000011" height="1.89" fill="#bcbcbc" stroke="#000" stroke-width="1.15"/>
<rect x="379.6" y="375.58" width="15.0" height="21.42" fill="url(#h)" stroke="#000" stroke-width="1.15"/>
<rect x="379.6" y="298.51" width="15.0" height="77.07" fill="#fff" stroke="#000" stroke-width="1.15"/>
<rect x="379.6" y="295.67" width="15.0" height="2.84" fill="#000" stroke="#000" stroke-width="1.15"/>
<rect x="379.6" y="292.00" width="15.0" height="3.68" fill="#bcbcbc" stroke="#000" stroke-width="1.15"/>
<text x="102.1" y="410.6" font-size="11" text-anchor="middle">0</text>
<text x="139.4" y="410.6" font-size="11" text-anchor="middle">11</text>
<text x="177.1" y="410.6" font-size="11" text-anchor="middle">18</text>
<text x="214.7" y="410.6" font-size="11" text-anchor="middle">22</text>
<text x="275.9" y="410.6" font-size="11" text-anchor="middle">0</text>
<text x="312.6" y="410.6" font-size="11" text-anchor="middle">11</text>
<text x="350.2" y="410.6" font-size="11" text-anchor="middle">18</text>
<text x="387.1" y="410.6" font-size="11" text-anchor="middle">22</text>
<text x="229" y="426.8" font-size="11.5">Days</text>
<text transform="translate(40.9,394.4) rotate(-90)" font-size="11.75">Percentage of cells</text>
<line x1="83.8" y1="274.4" x2="222" y2="274.4" stroke="#000" stroke-width="1.3"/>
<line x1="257" y1="274.2" x2="395.4" y2="274.2" stroke="#000" stroke-width="1.3"/>
<text x="152.6" y="266.9" font-size="16.3" font-weight="bold" text-anchor="middle">GFP</text>
<text x="326.2" y="266.9" font-size="16.3" font-weight="bold" text-anchor="middle">ICN1</text>
<rect x="430.5" y="306.3" width="74.2" height="74.2" fill="#fff" stroke="#333" stroke-width="0.9"/>
<rect x="436.9" y="313.9" width="5.8" height="5.8" fill="#bbb" stroke="#000" stroke-width="1"/>
<text x="447.2" y="321.1" font-size="11.5">TCRαβSP</text>
<rect x="436.9" y="332.0" width="5.8" height="5.8" fill="#000" stroke="#000" stroke-width="1"/>
<text x="447.2" y="339.2" font-size="11.5">TCRγδ</text>
<rect x="436.9" y="350.5" width="5.8" height="5.8" fill="#fff" stroke="#000" stroke-width="1"/>
<text x="447.2" y="357.7" font-size="11.5">DP</text>
<rect x="436.9" y="369.4" width="5.8" height="5.8" fill="url(#h)" stroke="#000" stroke-width="1"/>
<text x="447.2" y="376.6" font-size="11.5">CD4ISP</text>
</svg>
</body></html>
